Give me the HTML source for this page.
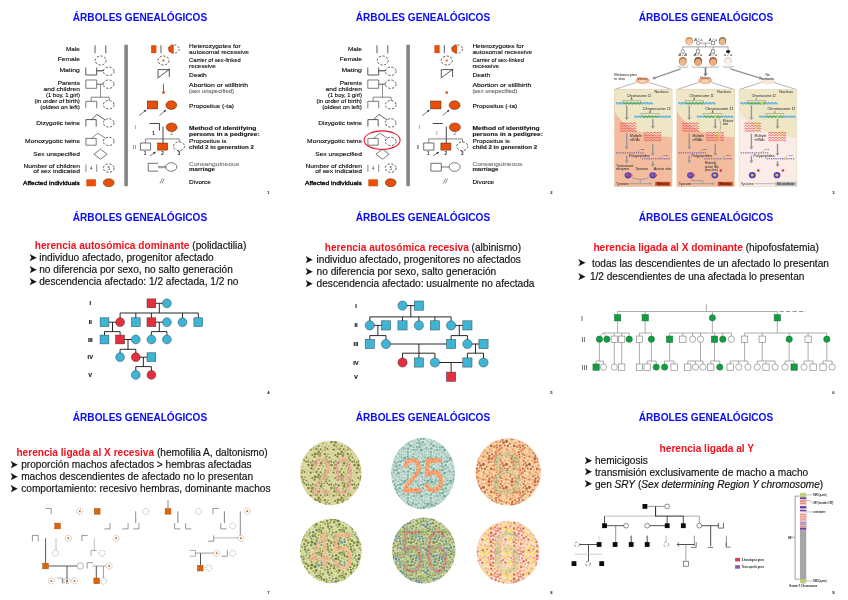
<!DOCTYPE html>
<html><head><meta charset="utf-8"><title>Árboles genealógicos</title>
<style>
html,body{margin:0;padding:0;background:#fff;}
body{width:848px;height:600px;overflow:hidden;}
svg{display:block;font-family:'Liberation Sans',sans-serif;}
</style></head><body>
<svg width="848" height="600" viewBox="0 0 848 600">
<g style="will-change:transform;filter:blur(0.3px)">
<g transform="translate(0,0)">
<rect x="124.3" y="44.7" width="3.6" height="141.5" fill="#858585"/>
<line x1="95" y1="45.3" x2="95" y2="53.3" stroke="#141414" stroke-width="0.7"/>
<line x1="105.8" y1="45.3" x2="105.8" y2="53.3" stroke="#141414" stroke-width="0.7"/>
<ellipse cx="100.7" cy="60.5" rx="5.5" ry="4.5" fill="none" stroke="#141414" stroke-width="0.7" stroke-dasharray="2.2 1.6"/>
<line x1="85.8" y1="75" x2="96.7" y2="75" stroke="#141414" stroke-width="0.7"/>
<line x1="85.8" y1="67.5" x2="85.8" y2="75" stroke="#141414" stroke-width="0.7"/>
<line x1="96.7" y1="67.5" x2="96.7" y2="75" stroke="#141414" stroke-width="0.7"/>
<line x1="96.7" y1="70.8" x2="103.4" y2="70.8" stroke="#141414" stroke-width="0.9"/>
<ellipse cx="108.7" cy="71.3" rx="5.4" ry="4.2" fill="none" stroke="#141414" stroke-width="0.7" stroke-dasharray="2.2 1.6"/>
<line x1="85.8" y1="80" x2="96.7" y2="80" stroke="#444" stroke-width="0.7"/>
<line x1="85.8" y1="88.3" x2="96.7" y2="88.3" stroke="#444" stroke-width="0.7"/>
<line x1="85.8" y1="80" x2="85.8" y2="88.3" stroke="#444" stroke-width="0.7"/>
<line x1="96.7" y1="80" x2="96.7" y2="88.3" stroke="#444" stroke-width="0.7"/>
<line x1="96.7" y1="84.2" x2="103.4" y2="84.2" stroke="#141414" stroke-width="0.7"/>
<ellipse cx="108.7" cy="84.2" rx="5.4" ry="4.2" fill="none" stroke="#141414" stroke-width="0.7" stroke-dasharray="2.2 1.6"/>
<line x1="100.5" y1="84.2" x2="100.5" y2="97.2" stroke="#555" stroke-width="0.65"/>
<line x1="91.2" y1="97.2" x2="109.2" y2="97.2" stroke="#444" stroke-width="0.65"/>
<line x1="91.2" y1="97.2" x2="91.2" y2="101.3" stroke="#444" stroke-width="0.65"/>
<line x1="109.2" y1="97.2" x2="109.2" y2="100.5" stroke="#444" stroke-width="0.6"/>
<line x1="85.8" y1="101.3" x2="96.7" y2="101.3" stroke="#444" stroke-width="0.7"/>
<line x1="85.8" y1="101.3" x2="85.8" y2="108.3" stroke="#444" stroke-width="0.7"/>
<line x1="96.7" y1="101.3" x2="96.7" y2="108.3" stroke="#444" stroke-width="0.7"/>
<ellipse cx="108.7" cy="104.7" rx="5.4" ry="4.2" fill="none" stroke="#141414" stroke-width="0.7" stroke-dasharray="2.2 1.6"/>
<line x1="85.9" y1="119.6" x2="96.2" y2="119.6" stroke="#141414" stroke-width="0.7"/>
<line x1="85.9" y1="119.6" x2="85.9" y2="126.5" stroke="#141414" stroke-width="0.7"/>
<line x1="96.2" y1="119.6" x2="96.2" y2="126.5" stroke="#141414" stroke-width="0.7"/>
<ellipse cx="108.7" cy="122.9" rx="5.4" ry="4.2" fill="none" stroke="#141414" stroke-width="0.7" stroke-dasharray="2.2 1.6"/>
<path d="M91.7 119.6L97 114.4L105 119.8" fill="none" stroke="#141414" stroke-width="0.7"/>
<line x1="85.9" y1="138.4" x2="96.2" y2="138.4" stroke="#444" stroke-width="0.7"/>
<line x1="85.9" y1="145.2" x2="96.2" y2="145.2" stroke="#444" stroke-width="0.7"/>
<line x1="85.9" y1="138.4" x2="85.9" y2="145.2" stroke="#444" stroke-width="0.7"/>
<line x1="96.2" y1="138.4" x2="96.2" y2="145.2" stroke="#444" stroke-width="0.7"/>
<ellipse cx="108.7" cy="141.4" rx="5.4" ry="4.2" fill="none" stroke="#141414" stroke-width="0.7" stroke-dasharray="2.2 1.6"/>
<path d="M91.7 138.4L97.6 133.2L105.5 138.2" fill="none" stroke="#444" stroke-width="0.65"/>
<path d="M93.9 154.2L100.5 149.2L107.1 154.2L100.5 159.2Z" fill="none" stroke="#333" stroke-width="0.65"/>
<line x1="85.9" y1="164.5" x2="85.9" y2="171.9" stroke="#555" stroke-width="0.7"/>
<line x1="96.7" y1="164.5" x2="96.7" y2="171.9" stroke="#555" stroke-width="0.7"/>
<ellipse cx="108.7" cy="168.1" rx="5.4" ry="4.2" fill="none" stroke="#141414" stroke-width="0.7" stroke-dasharray="2.2 1.6"/>
<text x="91.3" y="170" font-size="4.6" fill="#444" text-anchor="middle">4</text>
<text x="108.7" y="170" font-size="4.6" fill="#444" text-anchor="middle">5</text>
<rect x="86.3" y="179.3" width="9.6" height="7" fill="#e8500a"/>
<ellipse cx="108.7" cy="182.7" rx="5.4" ry="4" fill="#e8500a" stroke="#4a2008" stroke-width="0.5"/>
<text x="79.9" y="50.8" font-size="5.7" fill="#0a0a0a" text-anchor="end" textLength="13.9" lengthAdjust="spacingAndGlyphs" stroke="#0a0a0a" stroke-width="0.12">Male</text>
<text x="79.9" y="61.1" font-size="5.7" fill="#0a0a0a" text-anchor="end" textLength="22.2" lengthAdjust="spacingAndGlyphs" stroke="#0a0a0a" stroke-width="0.12">Female</text>
<text x="79.9" y="72.3" font-size="5.7" fill="#0a0a0a" text-anchor="end" textLength="20.5" lengthAdjust="spacingAndGlyphs" stroke="#0a0a0a" stroke-width="0.12">Mating</text>
<text x="79.9" y="85.2" font-size="5.7" fill="#0a0a0a" text-anchor="end" textLength="22.2" lengthAdjust="spacingAndGlyphs" stroke="#0a0a0a" stroke-width="0.12">Parents</text>
<text x="79.9" y="91.2" font-size="5.7" fill="#0a0a0a" text-anchor="end" textLength="36.4" lengthAdjust="spacingAndGlyphs" stroke="#0a0a0a" stroke-width="0.12">and children</text>
<text x="79.9" y="96.7" font-size="5.7" fill="#0a0a0a" text-anchor="end" textLength="33.9" lengthAdjust="spacingAndGlyphs" stroke="#0a0a0a" stroke-width="0.12">(1 boy, 1 girl)</text>
<text x="79.9" y="102.8" font-size="5.7" fill="#0a0a0a" text-anchor="end" textLength="45.5" lengthAdjust="spacingAndGlyphs" stroke="#0a0a0a" stroke-width="0.12">(in order of birth)</text>
<text x="79.9" y="108.7" font-size="5.7" fill="#0a0a0a" text-anchor="end" textLength="39.7" lengthAdjust="spacingAndGlyphs" stroke="#0a0a0a" stroke-width="0.12">(oldest on left)</text>
<text x="79.9" y="124.9" font-size="5.7" fill="#0a0a0a" text-anchor="end" textLength="43.6" lengthAdjust="spacingAndGlyphs" stroke="#0a0a0a" stroke-width="0.12">Dizygotic twins</text>
<text x="79.9" y="143" font-size="5.7" fill="#0a0a0a" text-anchor="end" textLength="54.8" lengthAdjust="spacingAndGlyphs" stroke="#0a0a0a" stroke-width="0.12">Monozygotic twins</text>
<text x="79.9" y="156.2" font-size="5.7" fill="#0a0a0a" text-anchor="end" textLength="46.6" lengthAdjust="spacingAndGlyphs" stroke="#0a0a0a" stroke-width="0.12">Sex unspecified</text>
<text x="79.9" y="167.6" font-size="5.7" fill="#0a0a0a" text-anchor="end" textLength="56.5" lengthAdjust="spacingAndGlyphs" stroke="#0a0a0a" stroke-width="0.12">Number of children</text>
<text x="79.9" y="173.4" font-size="5.7" fill="#0a0a0a" text-anchor="end" textLength="46.6" lengthAdjust="spacingAndGlyphs" stroke="#0a0a0a" stroke-width="0.12">of sex indicated</text>
<text x="79.9" y="184.6" font-size="5.7" fill="#000" text-anchor="end" textLength="56.8" lengthAdjust="spacingAndGlyphs" stroke="#000" stroke-width="0.3">Affected individuals</text>
<g transform="translate(0,0)">
<rect x="151.1" y="45.2" width="5.3" height="7.9" fill="#e8500a"/>
<line x1="161" y1="45.2" x2="161" y2="53.1" stroke="#141414" stroke-width="0.7"/>
<path d="M173.75 44.8A5.5 4.2 0 0 0 173.75 53.2Z" fill="#e8500a"/>
<ellipse cx="173.75" cy="49" rx="5.5" ry="4.2" fill="none" stroke="#333" stroke-width="0.7" stroke-dasharray="2.2 1.6"/>
<ellipse cx="163.5" cy="60.5" rx="5.5" ry="4.5" fill="none" stroke="#141414" stroke-width="0.7" stroke-dasharray="2.2 1.6"/>
<ellipse cx="163.5" cy="60.5" rx="1.1" ry="1.1" fill="#e8500a"/>
<line x1="158" y1="69.6" x2="169.3" y2="69.6" stroke="#141414" stroke-width="0.7"/>
<line x1="158" y1="69.6" x2="158" y2="77" stroke="#141414" stroke-width="0.7"/>
<line x1="169.3" y1="69.6" x2="169.3" y2="77" stroke="#141414" stroke-width="0.7"/>
<line x1="157.2" y1="78.4" x2="170.1" y2="68.8" stroke="#141414" stroke-width="0.7"/>
<line x1="163.5" y1="83.7" x2="163.5" y2="92" stroke="#333" stroke-width="0.7"/>
<ellipse cx="163.5" cy="92.6" rx="1.4" ry="1.4" fill="#e8500a"/>
<rect x="147.3" y="101" width="10.4" height="7.9" fill="#e8500a" stroke="#4a2008" stroke-width="0.5"/>
<ellipse cx="171.3" cy="105.1" rx="5.5" ry="4.3" fill="#e8500a" stroke="#4a2008" stroke-width="0.5"/>
<line x1="139" y1="115.5" x2="146.2" y2="110" stroke="#222" stroke-width="0.6"/>
<path d="M146.2 110L145.03 112.32L143.65 110.52Z" fill="#222"/>
<line x1="159.4" y1="115.5" x2="166" y2="110" stroke="#222" stroke-width="0.6"/>
<path d="M166 110L164.93 112.37L163.48 110.63Z" fill="#222"/>
<text x="135.8" y="129.2" font-size="5" fill="#555" text-anchor="middle">I</text>
<line x1="149.5" y1="123.5" x2="159.4" y2="123.5" stroke="#141414" stroke-width="0.8"/>
<line x1="159.4" y1="123.5" x2="159.4" y2="130.6" stroke="#141414" stroke-width="0.8"/>
<ellipse cx="171.6" cy="127.3" rx="5.5" ry="4.3" fill="#e8500a" stroke="#4a2008" stroke-width="0.5"/>
<text x="153.6" y="135.1" font-size="4.6" fill="#111" text-anchor="middle" font-weight="bold">1</text>
<text x="171.6" y="135.1" font-size="4.6" fill="#666" text-anchor="middle">2</text>
<line x1="163" y1="126.5" x2="163" y2="143" stroke="#333" stroke-width="0.9"/>
<line x1="145.4" y1="138.9" x2="179.2" y2="138.9" stroke="#444" stroke-width="0.65"/>
<line x1="145.4" y1="138.9" x2="145.4" y2="143" stroke="#444" stroke-width="0.65"/>
<line x1="179.2" y1="138.9" x2="179.2" y2="142" stroke="#444" stroke-width="0.65"/>
<text x="134.5" y="148.6" font-size="5" fill="#333" text-anchor="middle">II</text>
<line x1="140.4" y1="143" x2="150.6" y2="143" stroke="#333" stroke-width="0.7"/>
<line x1="140.4" y1="150.1" x2="150.6" y2="150.1" stroke="#333" stroke-width="0.7"/>
<line x1="140.4" y1="143" x2="140.4" y2="150.1" stroke="#333" stroke-width="0.7"/>
<line x1="150.6" y1="143" x2="150.6" y2="150.1" stroke="#333" stroke-width="0.7"/>
<rect x="157.6" y="143" width="10" height="7.1" fill="#e8500a" stroke="#4a2008" stroke-width="0.5"/>
<ellipse cx="179" cy="146.3" rx="5.5" ry="4.3" fill="none" stroke="#141414" stroke-width="0.7" stroke-dasharray="2.2 1.6"/>
<text x="145" y="155" font-size="4.6" fill="#222" text-anchor="middle" font-weight="bold">1</text>
<text x="162.6" y="155" font-size="4.6" fill="#222" text-anchor="middle" font-weight="bold">2</text>
<text x="179" y="155" font-size="4.6" fill="#222" text-anchor="middle" font-weight="bold">3</text>
<line x1="149.8" y1="155.9" x2="155.6" y2="152.1" stroke="#222" stroke-width="0.6"/>
<path d="M155.6 152.1L154.26 154.33L153.02 152.44Z" fill="#222"/>
<line x1="148.2" y1="163.3" x2="158" y2="163.3" stroke="#333" stroke-width="0.7"/>
<line x1="148.2" y1="171.1" x2="158" y2="171.1" stroke="#333" stroke-width="0.7"/>
<line x1="148.2" y1="163.3" x2="148.2" y2="171.1" stroke="#333" stroke-width="0.7"/>
<line x1="158" y1="166.4" x2="165.8" y2="166.4" stroke="#333" stroke-width="0.55"/>
<line x1="158" y1="167.7" x2="165.8" y2="167.7" stroke="#333" stroke-width="0.55"/>
<ellipse cx="171.3" cy="167" rx="5.5" ry="4.3" fill="none" stroke="#444" stroke-width="0.7"/>
<line x1="160" y1="183.5" x2="162.3" y2="178.5" stroke="#333" stroke-width="0.55"/>
<line x1="162" y1="183.5" x2="164.3" y2="178.5" stroke="#333" stroke-width="0.55"/>
<text x="189.1" y="47.7" font-size="5.7" fill="#0a0a0a" textLength="51.5" lengthAdjust="spacingAndGlyphs" stroke="#0a0a0a" stroke-width="0.12">Heterozygotes for</text>
<text x="189.1" y="53.5" font-size="5.7" fill="#111" textLength="59.8" lengthAdjust="spacingAndGlyphs" stroke="#111" stroke-width="0.12">autosomal recessive</text>
<text x="189.1" y="62" font-size="5.7" fill="#0a0a0a" textLength="51.5" lengthAdjust="spacingAndGlyphs" stroke="#0a0a0a" stroke-width="0.12">Carrier of sex-linked</text>
<text x="189.1" y="67.5" font-size="5.7" fill="#111" textLength="26.7" lengthAdjust="spacingAndGlyphs" stroke="#111" stroke-width="0.12">recessive</text>
<text x="189.1" y="76.6" font-size="5.7" fill="#0a0a0a" textLength="17.7" lengthAdjust="spacingAndGlyphs" stroke="#0a0a0a" stroke-width="0.12">Death</text>
<text x="189.1" y="86.5" font-size="5.7" fill="#0a0a0a" textLength="58.9" lengthAdjust="spacingAndGlyphs" stroke="#0a0a0a" stroke-width="0.12">Abortion or stillbirth</text>
<text x="189.1" y="92.6" font-size="5.7" fill="#666" textLength="44.9" lengthAdjust="spacingAndGlyphs" stroke="#666" stroke-width="0.12">(sex unspecified)</text>
<text x="189.1" y="108" font-size="5.7" fill="#0a0a0a" textLength="44.9" lengthAdjust="spacingAndGlyphs" stroke="#0a0a0a" stroke-width="0.12">Propositus (-ta)</text>
<text x="189.1" y="129.8" font-size="5.7" fill="#111" font-weight="bold" textLength="67.2" lengthAdjust="spacingAndGlyphs" stroke="#111" stroke-width="0.12">Method of identifying</text>
<text x="189.1" y="135.9" font-size="5.7" fill="#111" font-weight="bold" textLength="70.5" lengthAdjust="spacingAndGlyphs" stroke="#111" stroke-width="0.12">persons in a pedigree:</text>
<text x="189.1" y="143" font-size="5.7" fill="#111" textLength="37.5" lengthAdjust="spacingAndGlyphs" stroke="#111" stroke-width="0.12">Propositus is</text>
<text x="189.1" y="149.1" font-size="5.7" fill="#222" font-weight="bold" textLength="64.7" lengthAdjust="spacingAndGlyphs" stroke="#222" stroke-width="0.12">child 2 in generation 2</text>
<text x="189.1" y="165.7" font-size="5.7" fill="#777" textLength="49.9" lengthAdjust="spacingAndGlyphs" stroke="#777" stroke-width="0.12">Consanguineous</text>
<text x="189.1" y="171.4" font-size="5.7" fill="#222" font-weight="bold" textLength="25.9" lengthAdjust="spacingAndGlyphs" stroke="#222" stroke-width="0.12">marriage</text>
<text x="189.1" y="183.5" font-size="5.7" fill="#0a0a0a" textLength="21.8" lengthAdjust="spacingAndGlyphs" stroke="#0a0a0a" stroke-width="0.12">Divorce</text>
</g>
</g>
<g transform="translate(282,0)">
<rect x="124.3" y="44.7" width="3.6" height="141.5" fill="#858585"/>
<line x1="95" y1="45.3" x2="95" y2="53.3" stroke="#141414" stroke-width="0.7"/>
<line x1="105.8" y1="45.3" x2="105.8" y2="53.3" stroke="#141414" stroke-width="0.7"/>
<ellipse cx="100.7" cy="60.5" rx="5.5" ry="4.5" fill="none" stroke="#141414" stroke-width="0.7" stroke-dasharray="2.2 1.6"/>
<line x1="85.8" y1="75" x2="96.7" y2="75" stroke="#141414" stroke-width="0.7"/>
<line x1="85.8" y1="67.5" x2="85.8" y2="75" stroke="#141414" stroke-width="0.7"/>
<line x1="96.7" y1="67.5" x2="96.7" y2="75" stroke="#141414" stroke-width="0.7"/>
<line x1="96.7" y1="70.8" x2="103.4" y2="70.8" stroke="#141414" stroke-width="0.9"/>
<ellipse cx="108.7" cy="71.3" rx="5.4" ry="4.2" fill="none" stroke="#141414" stroke-width="0.7" stroke-dasharray="2.2 1.6"/>
<line x1="85.8" y1="80" x2="96.7" y2="80" stroke="#444" stroke-width="0.7"/>
<line x1="85.8" y1="88.3" x2="96.7" y2="88.3" stroke="#444" stroke-width="0.7"/>
<line x1="85.8" y1="80" x2="85.8" y2="88.3" stroke="#444" stroke-width="0.7"/>
<line x1="96.7" y1="80" x2="96.7" y2="88.3" stroke="#444" stroke-width="0.7"/>
<line x1="96.7" y1="84.2" x2="103.4" y2="84.2" stroke="#141414" stroke-width="0.7"/>
<ellipse cx="108.7" cy="84.2" rx="5.4" ry="4.2" fill="none" stroke="#141414" stroke-width="0.7" stroke-dasharray="2.2 1.6"/>
<line x1="100.5" y1="84.2" x2="100.5" y2="97.2" stroke="#555" stroke-width="0.65"/>
<line x1="91.2" y1="97.2" x2="109.2" y2="97.2" stroke="#444" stroke-width="0.65"/>
<line x1="91.2" y1="97.2" x2="91.2" y2="101.3" stroke="#444" stroke-width="0.65"/>
<line x1="109.2" y1="97.2" x2="109.2" y2="100.5" stroke="#444" stroke-width="0.6"/>
<line x1="85.8" y1="101.3" x2="96.7" y2="101.3" stroke="#444" stroke-width="0.7"/>
<line x1="85.8" y1="101.3" x2="85.8" y2="108.3" stroke="#444" stroke-width="0.7"/>
<line x1="96.7" y1="101.3" x2="96.7" y2="108.3" stroke="#444" stroke-width="0.7"/>
<ellipse cx="108.7" cy="104.7" rx="5.4" ry="4.2" fill="none" stroke="#141414" stroke-width="0.7" stroke-dasharray="2.2 1.6"/>
<line x1="85.9" y1="119.6" x2="96.2" y2="119.6" stroke="#141414" stroke-width="0.7"/>
<line x1="85.9" y1="119.6" x2="85.9" y2="126.5" stroke="#141414" stroke-width="0.7"/>
<line x1="96.2" y1="119.6" x2="96.2" y2="126.5" stroke="#141414" stroke-width="0.7"/>
<ellipse cx="108.7" cy="122.9" rx="5.4" ry="4.2" fill="none" stroke="#141414" stroke-width="0.7" stroke-dasharray="2.2 1.6"/>
<path d="M91.7 119.6L97 114.4L105 119.8" fill="none" stroke="#141414" stroke-width="0.7"/>
<line x1="85.9" y1="138.4" x2="96.2" y2="138.4" stroke="#444" stroke-width="0.7"/>
<line x1="85.9" y1="145.2" x2="96.2" y2="145.2" stroke="#444" stroke-width="0.7"/>
<line x1="85.9" y1="138.4" x2="85.9" y2="145.2" stroke="#444" stroke-width="0.7"/>
<line x1="96.2" y1="138.4" x2="96.2" y2="145.2" stroke="#444" stroke-width="0.7"/>
<ellipse cx="108.7" cy="141.4" rx="5.4" ry="4.2" fill="none" stroke="#141414" stroke-width="0.7" stroke-dasharray="2.2 1.6"/>
<path d="M91.7 138.4L97.6 133.2L105.5 138.2" fill="none" stroke="#444" stroke-width="0.65"/>
<path d="M93.9 154.2L100.5 149.2L107.1 154.2L100.5 159.2Z" fill="none" stroke="#333" stroke-width="0.65"/>
<line x1="85.9" y1="164.5" x2="85.9" y2="171.9" stroke="#555" stroke-width="0.7"/>
<line x1="96.7" y1="164.5" x2="96.7" y2="171.9" stroke="#555" stroke-width="0.7"/>
<ellipse cx="108.7" cy="168.1" rx="5.4" ry="4.2" fill="none" stroke="#141414" stroke-width="0.7" stroke-dasharray="2.2 1.6"/>
<text x="91.3" y="170" font-size="4.6" fill="#444" text-anchor="middle">4</text>
<text x="108.7" y="170" font-size="4.6" fill="#444" text-anchor="middle">5</text>
<rect x="86.3" y="179.3" width="9.6" height="7" fill="#e8500a"/>
<ellipse cx="108.7" cy="182.7" rx="5.4" ry="4" fill="#e8500a" stroke="#4a2008" stroke-width="0.5"/>
<text x="79.9" y="50.8" font-size="5.7" fill="#0a0a0a" text-anchor="end" textLength="13.9" lengthAdjust="spacingAndGlyphs" stroke="#0a0a0a" stroke-width="0.12">Male</text>
<text x="79.9" y="61.1" font-size="5.7" fill="#0a0a0a" text-anchor="end" textLength="22.2" lengthAdjust="spacingAndGlyphs" stroke="#0a0a0a" stroke-width="0.12">Female</text>
<text x="79.9" y="72.3" font-size="5.7" fill="#0a0a0a" text-anchor="end" textLength="20.5" lengthAdjust="spacingAndGlyphs" stroke="#0a0a0a" stroke-width="0.12">Mating</text>
<text x="79.9" y="85.2" font-size="5.7" fill="#0a0a0a" text-anchor="end" textLength="22.2" lengthAdjust="spacingAndGlyphs" stroke="#0a0a0a" stroke-width="0.12">Parents</text>
<text x="79.9" y="91.2" font-size="5.7" fill="#0a0a0a" text-anchor="end" textLength="36.4" lengthAdjust="spacingAndGlyphs" stroke="#0a0a0a" stroke-width="0.12">and children</text>
<text x="79.9" y="96.7" font-size="5.7" fill="#0a0a0a" text-anchor="end" textLength="33.9" lengthAdjust="spacingAndGlyphs" stroke="#0a0a0a" stroke-width="0.12">(1 boy, 1 girl)</text>
<text x="79.9" y="102.8" font-size="5.7" fill="#0a0a0a" text-anchor="end" textLength="45.5" lengthAdjust="spacingAndGlyphs" stroke="#0a0a0a" stroke-width="0.12">(in order of birth)</text>
<text x="79.9" y="108.7" font-size="5.7" fill="#0a0a0a" text-anchor="end" textLength="39.7" lengthAdjust="spacingAndGlyphs" stroke="#0a0a0a" stroke-width="0.12">(oldest on left)</text>
<text x="79.9" y="124.9" font-size="5.7" fill="#0a0a0a" text-anchor="end" textLength="43.6" lengthAdjust="spacingAndGlyphs" stroke="#0a0a0a" stroke-width="0.12">Dizygotic twins</text>
<text x="79.9" y="143" font-size="5.7" fill="#0a0a0a" text-anchor="end" textLength="54.8" lengthAdjust="spacingAndGlyphs" stroke="#0a0a0a" stroke-width="0.12">Monozygotic twins</text>
<text x="79.9" y="156.2" font-size="5.7" fill="#0a0a0a" text-anchor="end" textLength="46.6" lengthAdjust="spacingAndGlyphs" stroke="#0a0a0a" stroke-width="0.12">Sex unspecified</text>
<text x="79.9" y="167.6" font-size="5.7" fill="#0a0a0a" text-anchor="end" textLength="56.5" lengthAdjust="spacingAndGlyphs" stroke="#0a0a0a" stroke-width="0.12">Number of children</text>
<text x="79.9" y="173.4" font-size="5.7" fill="#0a0a0a" text-anchor="end" textLength="46.6" lengthAdjust="spacingAndGlyphs" stroke="#0a0a0a" stroke-width="0.12">of sex indicated</text>
<text x="79.9" y="184.6" font-size="5.7" fill="#000" text-anchor="end" textLength="56.8" lengthAdjust="spacingAndGlyphs" stroke="#000" stroke-width="0.3">Affected individuals</text>
<g transform="translate(1.3,0)">
<rect x="151.1" y="45.2" width="5.3" height="7.9" fill="#e8500a"/>
<line x1="161" y1="45.2" x2="161" y2="53.1" stroke="#141414" stroke-width="0.7"/>
<path d="M173.75 44.8A5.5 4.2 0 0 0 173.75 53.2Z" fill="#e8500a"/>
<ellipse cx="173.75" cy="49" rx="5.5" ry="4.2" fill="none" stroke="#333" stroke-width="0.7" stroke-dasharray="2.2 1.6"/>
<ellipse cx="163.5" cy="60.5" rx="5.5" ry="4.5" fill="none" stroke="#141414" stroke-width="0.7" stroke-dasharray="2.2 1.6"/>
<ellipse cx="163.5" cy="60.5" rx="1.1" ry="1.1" fill="#e8500a"/>
<line x1="158" y1="69.6" x2="169.3" y2="69.6" stroke="#141414" stroke-width="0.7"/>
<line x1="158" y1="69.6" x2="158" y2="77" stroke="#141414" stroke-width="0.7"/>
<line x1="169.3" y1="69.6" x2="169.3" y2="77" stroke="#141414" stroke-width="0.7"/>
<line x1="157.2" y1="78.4" x2="170.1" y2="68.8" stroke="#141414" stroke-width="0.7"/>
<ellipse cx="163.5" cy="92.6" rx="1.4" ry="1.4" fill="#e8500a"/>
<rect x="147.3" y="101" width="10.4" height="7.9" fill="#e8500a" stroke="#4a2008" stroke-width="0.5"/>
<ellipse cx="171.3" cy="105.1" rx="5.5" ry="4.3" fill="#e8500a" stroke="#4a2008" stroke-width="0.5"/>
<line x1="139" y1="115.5" x2="146.2" y2="110" stroke="#222" stroke-width="0.6"/>
<path d="M146.2 110L145.03 112.32L143.65 110.52Z" fill="#222"/>
<line x1="159.4" y1="115.5" x2="166" y2="110" stroke="#222" stroke-width="0.6"/>
<path d="M166 110L164.93 112.37L163.48 110.63Z" fill="#222"/>
<text x="135.8" y="129.2" font-size="5" fill="#555" text-anchor="middle">I</text>
<line x1="149.5" y1="123.5" x2="159.4" y2="123.5" stroke="#141414" stroke-width="0.8"/>
<ellipse cx="171.6" cy="127.3" rx="5.5" ry="4.3" fill="#e8500a" stroke="#4a2008" stroke-width="0.5"/>
<text x="153.6" y="135.1" font-size="4.6" fill="#aaa" text-anchor="middle" font-weight="bold">1</text>
<text x="171.6" y="135.1" font-size="4.6" fill="#666" text-anchor="middle">2</text>
<line x1="163" y1="126.5" x2="163" y2="143" stroke="#333" stroke-width="0.9"/>
<line x1="145.4" y1="138.9" x2="179.2" y2="138.9" stroke="#444" stroke-width="0.65"/>
<line x1="145.4" y1="138.9" x2="145.4" y2="143" stroke="#444" stroke-width="0.65"/>
<line x1="179.2" y1="138.9" x2="179.2" y2="142" stroke="#444" stroke-width="0.65"/>
<text x="134.5" y="148.6" font-size="5" fill="#333" text-anchor="middle">II</text>
<line x1="140.4" y1="143" x2="150.6" y2="143" stroke="#333" stroke-width="0.7"/>
<line x1="140.4" y1="150.1" x2="150.6" y2="150.1" stroke="#333" stroke-width="0.7"/>
<line x1="140.4" y1="143" x2="140.4" y2="150.1" stroke="#333" stroke-width="0.7"/>
<line x1="150.6" y1="143" x2="150.6" y2="150.1" stroke="#333" stroke-width="0.7"/>
<rect x="157.6" y="143" width="10" height="7.1" fill="#e8500a" stroke="#4a2008" stroke-width="0.5"/>
<ellipse cx="179" cy="146.3" rx="5.5" ry="4.3" fill="none" stroke="#141414" stroke-width="0.7" stroke-dasharray="2.2 1.6"/>
<text x="145" y="155" font-size="4.6" fill="#222" text-anchor="middle" font-weight="bold">1</text>
<text x="162.6" y="155" font-size="4.6" fill="#222" text-anchor="middle" font-weight="bold">2</text>
<text x="179" y="155" font-size="4.6" fill="#222" text-anchor="middle" font-weight="bold">3</text>
<line x1="149.8" y1="155.9" x2="155.6" y2="152.1" stroke="#222" stroke-width="0.6"/>
<path d="M155.6 152.1L154.26 154.33L153.02 152.44Z" fill="#222"/>
<line x1="147.6" y1="163.3" x2="158" y2="163.3" stroke="#333" stroke-width="0.7"/>
<line x1="147.6" y1="171.1" x2="158" y2="171.1" stroke="#333" stroke-width="0.7"/>
<line x1="147.6" y1="163.3" x2="147.6" y2="171.1" stroke="#333" stroke-width="0.7"/>
<line x1="158" y1="163.3" x2="158" y2="171.1" stroke="#333" stroke-width="0.7"/>
<line x1="158" y1="167" x2="165.8" y2="167" stroke="#333" stroke-width="0.7"/>
<ellipse cx="171.3" cy="167" rx="5.5" ry="4.3" fill="none" stroke="#444" stroke-width="0.7"/>
<line x1="160" y1="183.5" x2="162.3" y2="178.5" stroke="#333" stroke-width="0.55"/>
<line x1="162" y1="183.5" x2="164.3" y2="178.5" stroke="#333" stroke-width="0.55"/>
<text x="189.1" y="47.7" font-size="5.7" fill="#0a0a0a" textLength="51.5" lengthAdjust="spacingAndGlyphs" stroke="#0a0a0a" stroke-width="0.12">Heterozygotes for</text>
<text x="189.1" y="53.5" font-size="5.7" fill="#111" textLength="59.8" lengthAdjust="spacingAndGlyphs" stroke="#111" stroke-width="0.12">autosomal recessive</text>
<text x="189.1" y="62" font-size="5.7" fill="#0a0a0a" textLength="51.5" lengthAdjust="spacingAndGlyphs" stroke="#0a0a0a" stroke-width="0.12">Carrier of sex-linked</text>
<text x="189.1" y="67.5" font-size="5.7" fill="#111" textLength="26.7" lengthAdjust="spacingAndGlyphs" stroke="#111" stroke-width="0.12">recessive</text>
<text x="189.1" y="76.6" font-size="5.7" fill="#0a0a0a" textLength="17.7" lengthAdjust="spacingAndGlyphs" stroke="#0a0a0a" stroke-width="0.12">Death</text>
<text x="189.1" y="86.5" font-size="5.7" fill="#0a0a0a" textLength="58.9" lengthAdjust="spacingAndGlyphs" stroke="#0a0a0a" stroke-width="0.12">Abortion or stillbirth</text>
<text x="189.1" y="92.6" font-size="5.7" fill="#666" textLength="44.9" lengthAdjust="spacingAndGlyphs" stroke="#666" stroke-width="0.12">(sex unspecified)</text>
<text x="189.1" y="108" font-size="5.7" fill="#0a0a0a" textLength="44.9" lengthAdjust="spacingAndGlyphs" stroke="#0a0a0a" stroke-width="0.12">Propositus (-ta)</text>
<text x="189.1" y="129.8" font-size="5.7" fill="#111" font-weight="bold" textLength="67.2" lengthAdjust="spacingAndGlyphs" stroke="#111" stroke-width="0.12">Method of identifying</text>
<text x="189.1" y="135.9" font-size="5.7" fill="#111" font-weight="bold" textLength="70.5" lengthAdjust="spacingAndGlyphs" stroke="#111" stroke-width="0.12">persons in a pedigree:</text>
<text x="189.1" y="143" font-size="5.7" fill="#111" textLength="37.5" lengthAdjust="spacingAndGlyphs" stroke="#111" stroke-width="0.12">Propositus is</text>
<text x="189.1" y="149.1" font-size="5.7" fill="#222" font-weight="bold" textLength="64.7" lengthAdjust="spacingAndGlyphs" stroke="#222" stroke-width="0.12">child 2 in generation 2</text>
<text x="189.1" y="165.7" font-size="5.7" fill="#777" textLength="49.9" lengthAdjust="spacingAndGlyphs" stroke="#777" stroke-width="0.12">Consanguineous</text>
<text x="189.1" y="171.4" font-size="5.7" fill="#222" font-weight="bold" textLength="25.9" lengthAdjust="spacingAndGlyphs" stroke="#222" stroke-width="0.12">marriage</text>
<text x="189.1" y="183.5" font-size="5.7" fill="#0a0a0a" textLength="21.8" lengthAdjust="spacingAndGlyphs" stroke="#0a0a0a" stroke-width="0.12">Divorce</text>
</g>
<ellipse cx="100.1" cy="140.2" rx="18" ry="9.3" fill="none" stroke="#ea1020" stroke-width="1.1"/>
</g>
<line x1="700.2" y1="43.1" x2="710.9" y2="43.1" stroke="#4a4a4a" stroke-width="0.5"/>
<line x1="705.5" y1="43.1" x2="705.5" y2="46.9" stroke="#4a4a4a" stroke-width="0.5"/>
<line x1="682.6" y1="46.9" x2="728.2" y2="46.9" stroke="#4a4a4a" stroke-width="0.5"/>
<line x1="682.8" y1="46.9" x2="682.8" y2="49.8" stroke="#4a4a4a" stroke-width="0.5"/>
<line x1="698.1" y1="46.9" x2="698.1" y2="49.8" stroke="#4a4a4a" stroke-width="0.5"/>
<line x1="713.1" y1="46.9" x2="713.1" y2="49.8" stroke="#4a4a4a" stroke-width="0.5"/>
<line x1="728.1" y1="46.9" x2="728.1" y2="49.8" stroke="#4a4a4a" stroke-width="0.5"/>
<ellipse cx="689.2" cy="41" rx="3.7" ry="4" fill="#c8925e"/>
<ellipse cx="689.2" cy="42.1" rx="2.9" ry="3.4" fill="#f0c8a2"/>
<ellipse cx="722.5" cy="41" rx="3.7" ry="4" fill="#9a7a58"/>
<ellipse cx="722.5" cy="42.1" rx="2.9" ry="3.4" fill="#e8b890"/>
<ellipse cx="698.1" cy="43.1" rx="1.8" ry="1.7" fill="#fff" stroke="#333" stroke-width="0.45"/>
<rect x="711.4" y="41.5" width="3.4" height="3.2" fill="#fff" stroke="#333" stroke-width="0.45"/>
<text x="698.5" y="40.9" font-size="3.3" fill="#222" text-anchor="middle" font-style="italic" textLength="8.3" lengthAdjust="spacingAndGlyphs">A / a</text>
<text x="713" y="40.9" font-size="3.3" fill="#222" text-anchor="middle" font-style="italic" textLength="8.3" lengthAdjust="spacingAndGlyphs">A / a</text>
<ellipse cx="682.8" cy="51.5" rx="1.8" ry="1.7" fill="#fff" stroke="#333" stroke-width="0.45"/>
<rect x="696.4" y="49.9" width="3.4" height="3.2" fill="#fff" stroke="#333" stroke-width="0.45"/>
<rect x="711.4" y="49.9" width="3.4" height="3.2" fill="#fff" stroke="#333" stroke-width="0.45"/>
<ellipse cx="728.1" cy="51.5" rx="2" ry="1.6" fill="#000"/>
<text x="682.8" y="56.3" font-size="3.3" fill="#222" text-anchor="middle" font-style="italic" textLength="8.6" lengthAdjust="spacingAndGlyphs">A / A</text>
<text x="698.1" y="56.3" font-size="3.3" fill="#222" text-anchor="middle" font-style="italic" textLength="8.6" lengthAdjust="spacingAndGlyphs">A / a</text>
<text x="713.1" y="56.3" font-size="3.3" fill="#222" text-anchor="middle" font-style="italic" textLength="8.6" lengthAdjust="spacingAndGlyphs">A / a</text>
<text x="728.1" y="56.3" font-size="3.3" fill="#222" text-anchor="middle" font-style="italic" textLength="8.6" lengthAdjust="spacingAndGlyphs">a / a</text>
<ellipse cx="682.8" cy="61.2" rx="3.9" ry="4.2" fill="#c07a4a"/>
<ellipse cx="682.8" cy="62.3" rx="3.1" ry="3.6" fill="#eeb48c"/>
<ellipse cx="698.1" cy="61.2" rx="3.9" ry="4.2" fill="#8a5232"/>
<ellipse cx="698.1" cy="62.3" rx="3.1" ry="3.6" fill="#e8a878"/>
<ellipse cx="713.1" cy="61.2" rx="3.9" ry="4.2" fill="#a8623a"/>
<ellipse cx="713.1" cy="62.3" rx="3.1" ry="3.6" fill="#eeb080"/>
<ellipse cx="728.1" cy="61.2" rx="3.9" ry="4.2" fill="#e6d8d0"/>
<ellipse cx="728.1" cy="62.3" rx="3.1" ry="3.6" fill="#f8f0ea"/>
<path d="M677.9 65.8Q677.9 67.2 679.4 67.2H686.3Q687.8 67.2 687.8 65.8" fill="none" stroke="#555" stroke-width="0.45"/>
<path d="M692.3 65.8Q692.3 67.2 693.8 67.2H717.3Q718.8 67.2 718.8 65.8" fill="none" stroke="#555" stroke-width="0.45"/>
<path d="M723.3 65.8Q723.3 67.2 724.8 67.2H731.7Q733.2 67.2 733.2 65.8" fill="none" stroke="#555" stroke-width="0.45"/>
<line x1="680.7" y1="68.8" x2="653.42" y2="78.31" stroke="#939393" stroke-width="1.35"/>
<path d="M652 78.8L654.55 75.98L655.75 79.42Z" fill="#939393"/>
<line x1="705.5" y1="67.6" x2="705.5" y2="74.4" stroke="#747474" stroke-width="1.6"/>
<path d="M703.5 73.6L707.5 73.6L705.5 76.2Z" fill="#747474"/>
<line x1="730.3" y1="68.8" x2="761.07" y2="78.36" stroke="#939393" stroke-width="1.35"/>
<path d="M762.5 78.8L758.77 79.55L759.86 76.07Z" fill="#939393"/>
<ellipse cx="642.6" cy="80.6" rx="7.2" ry="3.4" fill="#f0b48e"/>
<ellipse cx="642.6" cy="80.9" rx="3.2" ry="1.5" fill="#f7d9b8"/>
<ellipse cx="705.2" cy="80.6" rx="7.2" ry="3.4" fill="#f0b48e"/>
<ellipse cx="705.2" cy="80.9" rx="3.2" ry="1.5" fill="#f7d9b8"/>
<ellipse cx="767.6" cy="81.2" rx="7.2" ry="3.2" fill="#fbe2da"/>
<ellipse cx="767.6" cy="81.4" rx="3" ry="1.4" fill="#f6ecc0"/>
<text x="642.6" y="79.6" font-size="2.7" fill="#5a3a2a" text-anchor="middle" textLength="10.5" lengthAdjust="spacingAndGlyphs">Melanin</text>
<text x="705.2" y="79.2" font-size="2.7" fill="#5a3a2a" text-anchor="middle" textLength="10.5" lengthAdjust="spacingAndGlyphs">Melanin</text>
<text x="614.2" y="76" font-size="3.4" fill="#202020" textLength="23" lengthAdjust="spacingAndGlyphs">Melanocytes</text>
<text x="614.2" y="79.8" font-size="3.4" fill="#202020" textLength="11" lengthAdjust="spacingAndGlyphs">in skin</text>
<text x="767.6" y="76" font-size="3.4" fill="#202020" text-anchor="middle">No</text>
<text x="767.6" y="79.6" font-size="3.4" fill="#202020" text-anchor="middle" textLength="13" lengthAdjust="spacingAndGlyphs">melanin</text>
<line x1="636.1" y1="82.5" x2="614.3" y2="89.6" stroke="#5a5a5a" stroke-width="0.45"/>
<line x1="649.1" y1="82.5" x2="672.1" y2="89.6" stroke="#5a5a5a" stroke-width="0.45"/>
<line x1="698.7" y1="82.5" x2="676.8" y2="89.6" stroke="#5a5a5a" stroke-width="0.45"/>
<line x1="711.7" y1="82.5" x2="734.6" y2="89.6" stroke="#5a5a5a" stroke-width="0.45"/>
<line x1="761.1" y1="82.5" x2="739" y2="89.6" stroke="#5a5a5a" stroke-width="0.45"/>
<line x1="774.1" y1="82.5" x2="796.8" y2="89.6" stroke="#5a5a5a" stroke-width="0.45"/>
<rect x="614.3" y="89.6" width="57.8" height="97.2" fill="#f3bc9f"/>
<path d="M614.3 89.6H672.1V137.2C656.3 136.5 641.3 133.5 633.3 129C624.3 124 617.8 118 614.3 110.8Z" fill="#efe6c6"/>
<rect x="614.3" y="89.6" width="57.8" height="97.2" fill="none" stroke="#d9cfae" stroke-width="0.4"/>
<text x="668.3" y="93.2" font-size="3.4" fill="#202020" text-anchor="end" textLength="13.8" lengthAdjust="spacingAndGlyphs">Nucleus</text>
<text x="627.1" y="96.5" font-size="3.3" fill="#202020" font-style="italic" textLength="24" lengthAdjust="spacingAndGlyphs">Chromosome 11</text>
<text x="642.8" y="109.8" font-size="3.3" fill="#202020" font-style="italic" textLength="28" lengthAdjust="spacingAndGlyphs">Chromosome 11</text>
<path d="M622.5 102.1V100.7H640.9V102.1" fill="none" stroke="#555" stroke-width="0.35"/>
<text x="631.7" y="100.2" font-size="2.6" fill="#333" text-anchor="middle" font-style="italic">A</text>
<path d="M640.9 114.9V113.5H659.2V114.9" fill="none" stroke="#555" stroke-width="0.35"/>
<text x="650.05" y="113" font-size="2.6" fill="#333" text-anchor="middle" font-style="italic">A</text>
<path d="M616 103.3Q616.85 102.2 617.7 103.3Q618.55 104.4 619.4 103.3Q620.25 102.2 621.1 103.3Q621.95 104.4 622.8 103.3Q623.65 102.2 624.5 103.3Q625.35 104.4 626.2 103.3Q627.05 102.2 627.9 103.3Q628.75 104.4 629.6 103.3Q630.45 102.2 631.3 103.3Q632.15 104.4 633 103.3Q633.85 102.2 634.7 103.3Q635.55 104.4 636.4 103.3Q637.25 102.2 638.1 103.3Q638.95 104.4 639.8 103.3Q640.65 102.2 641.5 103.3Q642.35 104.4 643.2 103.3Q644.05 102.2 644.9 103.3Q645.75 104.4 646.6 103.3Q647.45 102.2 648.3 103.3Q649.15 104.4 650 103.3Q650.85 102.2 651.7 103.3Q652.25 104.4 652.8 103.3" fill="none" stroke="#4aa6d8" stroke-width="1.3"/>
<path d="M616 103.5Q616.85 104.6 617.7 103.5Q618.55 102.4 619.4 103.5Q620.25 104.6 621.1 103.5Q621.95 102.4 622.8 103.5Q623.65 104.6 624.5 103.5Q625.35 102.4 626.2 103.5Q627.05 104.6 627.9 103.5Q628.75 102.4 629.6 103.5Q630.45 104.6 631.3 103.5Q632.15 102.4 633 103.5Q633.85 104.6 634.7 103.5Q635.55 102.4 636.4 103.5Q637.25 104.6 638.1 103.5Q638.95 102.4 639.8 103.5Q640.65 104.6 641.5 103.5Q642.35 102.4 643.2 103.5Q644.05 104.6 644.9 103.5Q645.75 102.4 646.6 103.5Q647.45 104.6 648.3 103.5Q649.15 102.4 650 103.5Q650.85 104.6 651.7 103.5Q652.25 102.4 652.8 103.5" fill="none" stroke="#7fc6e6" stroke-width="0.8"/>
<path d="M623 103.3Q623.85 102.3 624.7 103.3Q625.55 104.3 626.4 103.3Q627.25 102.3 628.1 103.3Q628.95 104.3 629.8 103.3Q630.65 102.3 631.5 103.3Q632.35 104.3 633.2 103.3Q634.05 102.3 634.9 103.3Q635.75 104.3 636.6 103.3Q637.45 102.3 638.3 103.3Q639.15 104.3 640 103.3Q640.4 102.3 640.8 103.3" fill="none" stroke="#55b04a" stroke-width="1.3"/>
<path d="M634.4 116.6Q635.25 115.5 636.1 116.6Q636.95 117.7 637.8 116.6Q638.65 115.5 639.5 116.6Q640.35 117.7 641.2 116.6Q642.05 115.5 642.9 116.6Q643.75 117.7 644.6 116.6Q645.45 115.5 646.3 116.6Q647.15 117.7 648 116.6Q648.85 115.5 649.7 116.6Q650.55 117.7 651.4 116.6Q652.25 115.5 653.1 116.6Q653.95 117.7 654.8 116.6Q655.65 115.5 656.5 116.6Q657.35 117.7 658.2 116.6Q659.05 115.5 659.9 116.6Q660.75 117.7 661.6 116.6Q662.45 115.5 663.3 116.6Q664.15 117.7 665 116.6Q665.85 115.5 666.7 116.6Q667.55 117.7 668.4 116.6Q669.25 115.5 670.1 116.6Q670.15 117.7 670.2 116.6" fill="none" stroke="#4aa6d8" stroke-width="1.3"/>
<path d="M634.4 116.8Q635.25 117.9 636.1 116.8Q636.95 115.7 637.8 116.8Q638.65 117.9 639.5 116.8Q640.35 115.7 641.2 116.8Q642.05 117.9 642.9 116.8Q643.75 115.7 644.6 116.8Q645.45 117.9 646.3 116.8Q647.15 115.7 648 116.8Q648.85 117.9 649.7 116.8Q650.55 115.7 651.4 116.8Q652.25 117.9 653.1 116.8Q653.95 115.7 654.8 116.8Q655.65 117.9 656.5 116.8Q657.35 115.7 658.2 116.8Q659.05 117.9 659.9 116.8Q660.75 115.7 661.6 116.8Q662.45 117.9 663.3 116.8Q664.15 115.7 665 116.8Q665.85 117.9 666.7 116.8Q667.55 115.7 668.4 116.8Q669.25 117.9 670.1 116.8Q670.15 115.7 670.2 116.8" fill="none" stroke="#7fc6e6" stroke-width="0.8"/>
<path d="M641.4 116.6Q642.25 115.6 643.1 116.6Q643.95 117.6 644.8 116.6Q645.65 115.6 646.5 116.6Q647.35 117.6 648.2 116.6Q649.05 115.6 649.9 116.6Q650.75 117.6 651.6 116.6Q652.45 115.6 653.3 116.6Q654.15 117.6 655 116.6Q655.85 115.6 656.7 116.6Q657.45 117.6 658.2 116.6" fill="none" stroke="#55b04a" stroke-width="1.3"/>
<line x1="626.7" y1="105.4" x2="626.7" y2="118.2" stroke="#969696" stroke-width="1.4"/>
<path d="M624.7 117.4L628.7 117.4L626.7 120Z" fill="#969696"/>
<line x1="652.8" y1="119" x2="652.8" y2="127" stroke="#969696" stroke-width="1.4"/>
<path d="M650.8 126.2L654.8 126.2L652.8 128.8Z" fill="#969696"/>
<path d="M619.8 123.4Q620.65 122.2 621.5 123.4Q622.35 124.6 623.2 123.4Q624.05 122.2 624.9 123.4Q625.75 124.6 626.6 123.4Q627.45 122.2 628.3 123.4Q629.15 124.6 630 123.4Q630.85 122.2 631.7 123.4Q632.55 124.6 633.4 123.4Q634.25 122.2 635.1 123.4Q635.7 124.6 636.3 123.4" fill="none" stroke="#e63e4a" stroke-width="0.85"/>
<path d="M619.8 125.9Q620.65 124.7 621.5 125.9Q622.35 127.1 623.2 125.9Q624.05 124.7 624.9 125.9Q625.75 127.1 626.6 125.9Q627.45 124.7 628.3 125.9Q629.15 127.1 630 125.9Q630.85 124.7 631.7 125.9Q632.55 127.1 633.4 125.9Q634.25 124.7 635.1 125.9Q635.7 127.1 636.3 125.9" fill="none" stroke="#e63e4a" stroke-width="0.85"/>
<path d="M619.8 128.4Q620.65 127.2 621.5 128.4Q622.35 129.6 623.2 128.4Q624.05 127.2 624.9 128.4Q625.75 129.6 626.6 128.4Q627.45 127.2 628.3 128.4Q629.15 129.6 630 128.4Q630.85 127.2 631.7 128.4Q632.55 129.6 633.4 128.4Q634.25 127.2 635.1 128.4Q635.7 129.6 636.3 128.4" fill="none" stroke="#e63e4a" stroke-width="0.85"/>
<path d="M619.8 130.9Q620.65 129.7 621.5 130.9Q622.35 132.1 623.2 130.9Q624.05 129.7 624.9 130.9Q625.75 132.1 626.6 130.9Q627.45 129.7 628.3 130.9Q629.15 132.1 630 130.9Q630.85 129.7 631.7 130.9Q632.55 132.1 633.4 130.9Q634.25 129.7 635.1 130.9Q635.7 132.1 636.3 130.9" fill="none" stroke="#e63e4a" stroke-width="0.85"/>
<path d="M643.6 132.8Q644.45 131.6 645.3 132.8Q646.15 134 647 132.8Q647.85 131.6 648.7 132.8Q649.55 134 650.4 132.8Q651.25 131.6 652.1 132.8Q652.95 134 653.8 132.8Q654.65 131.6 655.5 132.8Q656.35 134 657.2 132.8Q658.05 131.6 658.9 132.8Q659.75 134 660.6 132.8Q660.8 131.6 661 132.8" fill="none" stroke="#e63e4a" stroke-width="0.85"/>
<path d="M643.6 135.3Q644.45 134.1 645.3 135.3Q646.15 136.5 647 135.3Q647.85 134.1 648.7 135.3Q649.55 136.5 650.4 135.3Q651.25 134.1 652.1 135.3Q652.95 136.5 653.8 135.3Q654.65 134.1 655.5 135.3Q656.35 136.5 657.2 135.3Q658.05 134.1 658.9 135.3Q659.75 136.5 660.6 135.3Q660.8 134.1 661 135.3" fill="none" stroke="#e63e4a" stroke-width="0.85"/>
<path d="M643.6 137.8Q644.45 136.6 645.3 137.8Q646.15 139 647 137.8Q647.85 136.6 648.7 137.8Q649.55 139 650.4 137.8Q651.25 136.6 652.1 137.8Q652.95 139 653.8 137.8Q654.65 136.6 655.5 137.8Q656.35 139 657.2 137.8Q658.05 136.6 658.9 137.8Q659.75 139 660.6 137.8Q660.8 136.6 661 137.8" fill="none" stroke="#e63e4a" stroke-width="0.85"/>
<path d="M643.6 140.3Q644.45 139.1 645.3 140.3Q646.15 141.5 647 140.3Q647.85 139.1 648.7 140.3Q649.55 141.5 650.4 140.3Q651.25 139.1 652.1 140.3Q652.95 141.5 653.8 140.3Q654.65 139.1 655.5 140.3Q656.35 141.5 657.2 140.3Q658.05 139.1 658.9 140.3Q659.75 141.5 660.6 140.3Q660.8 139.1 661 140.3" fill="none" stroke="#e63e4a" stroke-width="0.85"/>
<text x="629.9" y="137.4" font-size="3.3" fill="#202020" textLength="11.8" lengthAdjust="spacingAndGlyphs">Multiple</text>
<text x="629.9" y="141" font-size="3.3" fill="#202020" textLength="10" lengthAdjust="spacingAndGlyphs">mRNAs</text>
<line x1="626.7" y1="133.6" x2="626.7" y2="147.6" stroke="#969696" stroke-width="1.4"/>
<path d="M624.7 146.8L628.7 146.8L626.7 149.4Z" fill="#969696"/>
<line x1="652.8" y1="143.7" x2="652.8" y2="154" stroke="#969696" stroke-width="1.4"/>
<path d="M650.8 153.2L654.8 153.2L652.8 155.8Z" fill="#969696"/>
<line x1="616" y1="152.9" x2="643.6" y2="152.9" stroke="#6250b0" stroke-width="1" stroke-dasharray="1.3 0.9"/>
<line x1="641.8" y1="158.8" x2="670.2" y2="158.8" stroke="#6250b0" stroke-width="1" stroke-dasharray="1.3 0.9"/>
<text x="628.9" y="156.6" font-size="3.3" fill="#202020" textLength="21" lengthAdjust="spacingAndGlyphs">Polypeptides</text>
<line x1="636.3" y1="152.5" x2="640.3" y2="149.6" stroke="#666" stroke-width="0.3"/>
<text x="640.6" y="150.3" font-size="2.5" fill="#202020">Thr</text>
<line x1="659.3" y1="158.4" x2="663.8" y2="155.2" stroke="#666" stroke-width="0.3"/>
<text x="664.3" y="155.9" font-size="2.5" fill="#202020">Thr</text>
<line x1="626.7" y1="155.6" x2="626.7" y2="161.4" stroke="#969696" stroke-width="1.4"/>
<path d="M624.7 160.6L628.7 160.6L626.7 163.2Z" fill="#969696"/>
<line x1="652.8" y1="161.2" x2="652.8" y2="165.1" stroke="#969696" stroke-width="1.4"/>
<path d="M650.8 164.3L654.8 164.3L652.8 166.9Z" fill="#969696"/>
<text x="616" y="166.5" font-size="3.3" fill="#202020" textLength="17.5" lengthAdjust="spacingAndGlyphs">Tyrosinase</text>
<text x="616" y="170.2" font-size="3.3" fill="#202020" textLength="13" lengthAdjust="spacingAndGlyphs">enzyme</text>
<text x="635.3" y="169.6" font-size="3.1" fill="#202020" textLength="13" lengthAdjust="spacingAndGlyphs">Tyrosine</text>
<text x="653.8" y="169.6" font-size="3.1" fill="#202020" textLength="17.5" lengthAdjust="spacingAndGlyphs">Active site</text>
<ellipse cx="628" cy="175.3" rx="3.4" ry="3.1" fill="#5e3ea8"/>
<ellipse cx="627.5" cy="174.9" rx="1.9" ry="1.7" fill="#7c5ac0"/>
<ellipse cx="631.2" cy="175.3" rx="1.2" ry="1.2" fill="#d84a5a"/>
<ellipse cx="652.8" cy="175.3" rx="3.4" ry="3.1" fill="#5e3ea8"/>
<ellipse cx="652.3" cy="174.9" rx="1.9" ry="1.7" fill="#7c5ac0"/>
<ellipse cx="656" cy="175.3" rx="1.2" ry="1.2" fill="#d84a5a"/>
<path d="M631.8 177.5Q640.3 181.5 649.1 177.5" fill="none" stroke="#999" stroke-width="0.9"/>
<line x1="640.3" y1="179.4" x2="640.3" y2="183" stroke="#999" stroke-width="0.9"/>
<text x="616" y="184.8" font-size="3.3" fill="#202020" textLength="13" lengthAdjust="spacingAndGlyphs">Tyrosine</text>
<line x1="629.9" y1="183.7" x2="649.8" y2="183.7" stroke="#999" stroke-width="0.9"/>
<path d="M649.3 182.3L652.3 183.7L649.3 185.1Z" fill="#999"/>
<rect x="655.2" y="181.8" width="15.2" height="4.1" fill="#cc5028"/>
<text x="662.8" y="184.9" font-size="3.3" fill="#4a1408" text-anchor="middle" font-weight="bold" textLength="11.5" lengthAdjust="spacingAndGlyphs">Melanin</text>
<rect x="676.8" y="89.6" width="57.8" height="97.2" fill="#f3bc9f"/>
<path d="M676.8 89.6H734.6V137.2C718.8 136.5 703.8 133.5 695.8 129C686.8 124 680.3 118 676.8 110.8Z" fill="#efe6c6"/>
<rect x="676.8" y="89.6" width="57.8" height="97.2" fill="none" stroke="#d9cfae" stroke-width="0.4"/>
<text x="730.8" y="93.2" font-size="3.4" fill="#202020" text-anchor="end" textLength="13.8" lengthAdjust="spacingAndGlyphs">Nucleus</text>
<text x="689.6" y="96.5" font-size="3.3" fill="#202020" font-style="italic" textLength="24" lengthAdjust="spacingAndGlyphs">Chromosome 11</text>
<text x="705.3" y="109.8" font-size="3.3" fill="#202020" font-style="italic" textLength="28" lengthAdjust="spacingAndGlyphs">Chromosome 11</text>
<path d="M685 102.1V100.7H703.4V102.1" fill="none" stroke="#555" stroke-width="0.35"/>
<text x="694.2" y="100.2" font-size="2.6" fill="#333" text-anchor="middle" font-style="italic">A</text>
<path d="M703.4 114.9V113.5H721.7V114.9" fill="none" stroke="#555" stroke-width="0.35"/>
<text x="712.55" y="113" font-size="2.6" fill="#333" text-anchor="middle" font-style="italic">A</text>
<path d="M678.5 103.3Q679.35 102.2 680.2 103.3Q681.05 104.4 681.9 103.3Q682.75 102.2 683.6 103.3Q684.45 104.4 685.3 103.3Q686.15 102.2 687 103.3Q687.85 104.4 688.7 103.3Q689.55 102.2 690.4 103.3Q691.25 104.4 692.1 103.3Q692.95 102.2 693.8 103.3Q694.65 104.4 695.5 103.3Q696.35 102.2 697.2 103.3Q698.05 104.4 698.9 103.3Q699.75 102.2 700.6 103.3Q701.45 104.4 702.3 103.3Q703.15 102.2 704 103.3Q704.85 104.4 705.7 103.3Q706.55 102.2 707.4 103.3Q708.25 104.4 709.1 103.3Q709.95 102.2 710.8 103.3Q711.65 104.4 712.5 103.3Q713.35 102.2 714.2 103.3Q714.75 104.4 715.3 103.3" fill="none" stroke="#4aa6d8" stroke-width="1.3"/>
<path d="M678.5 103.5Q679.35 104.6 680.2 103.5Q681.05 102.4 681.9 103.5Q682.75 104.6 683.6 103.5Q684.45 102.4 685.3 103.5Q686.15 104.6 687 103.5Q687.85 102.4 688.7 103.5Q689.55 104.6 690.4 103.5Q691.25 102.4 692.1 103.5Q692.95 104.6 693.8 103.5Q694.65 102.4 695.5 103.5Q696.35 104.6 697.2 103.5Q698.05 102.4 698.9 103.5Q699.75 104.6 700.6 103.5Q701.45 102.4 702.3 103.5Q703.15 104.6 704 103.5Q704.85 102.4 705.7 103.5Q706.55 104.6 707.4 103.5Q708.25 102.4 709.1 103.5Q709.95 104.6 710.8 103.5Q711.65 102.4 712.5 103.5Q713.35 104.6 714.2 103.5Q714.75 102.4 715.3 103.5" fill="none" stroke="#7fc6e6" stroke-width="0.8"/>
<path d="M685.5 103.3Q686.35 102.3 687.2 103.3Q688.05 104.3 688.9 103.3Q689.75 102.3 690.6 103.3Q691.45 104.3 692.3 103.3Q693.15 102.3 694 103.3Q694.85 104.3 695.7 103.3Q696.55 102.3 697.4 103.3Q698.25 104.3 699.1 103.3Q699.95 102.3 700.8 103.3Q701.65 104.3 702.5 103.3Q702.9 102.3 703.3 103.3" fill="none" stroke="#55b04a" stroke-width="1.3"/>
<path d="M696.9 116.6Q697.75 115.5 698.6 116.6Q699.45 117.7 700.3 116.6Q701.15 115.5 702 116.6Q702.85 117.7 703.7 116.6Q704.55 115.5 705.4 116.6Q706.25 117.7 707.1 116.6Q707.95 115.5 708.8 116.6Q709.65 117.7 710.5 116.6Q711.35 115.5 712.2 116.6Q713.05 117.7 713.9 116.6Q714.75 115.5 715.6 116.6Q716.45 117.7 717.3 116.6Q718.15 115.5 719 116.6Q719.85 117.7 720.7 116.6Q721.55 115.5 722.4 116.6Q723.25 117.7 724.1 116.6Q724.95 115.5 725.8 116.6Q726.65 117.7 727.5 116.6Q728.35 115.5 729.2 116.6Q730.05 117.7 730.9 116.6Q731.75 115.5 732.6 116.6Q732.65 117.7 732.7 116.6" fill="none" stroke="#4aa6d8" stroke-width="1.3"/>
<path d="M696.9 116.8Q697.75 117.9 698.6 116.8Q699.45 115.7 700.3 116.8Q701.15 117.9 702 116.8Q702.85 115.7 703.7 116.8Q704.55 117.9 705.4 116.8Q706.25 115.7 707.1 116.8Q707.95 117.9 708.8 116.8Q709.65 115.7 710.5 116.8Q711.35 117.9 712.2 116.8Q713.05 115.7 713.9 116.8Q714.75 117.9 715.6 116.8Q716.45 115.7 717.3 116.8Q718.15 117.9 719 116.8Q719.85 115.7 720.7 116.8Q721.55 117.9 722.4 116.8Q723.25 115.7 724.1 116.8Q724.95 117.9 725.8 116.8Q726.65 115.7 727.5 116.8Q728.35 117.9 729.2 116.8Q730.05 115.7 730.9 116.8Q731.75 117.9 732.6 116.8Q732.65 115.7 732.7 116.8" fill="none" stroke="#7fc6e6" stroke-width="0.8"/>
<path d="M703.9 116.6Q704.75 115.6 705.6 116.6Q706.45 117.6 707.3 116.6Q708.15 115.6 709 116.6Q709.85 117.6 710.7 116.6Q711.55 115.6 712.4 116.6Q713.25 117.6 714.1 116.6Q714.95 115.6 715.8 116.6Q716.65 117.6 717.5 116.6Q718.35 115.6 719.2 116.6Q719.95 117.6 720.7 116.6" fill="none" stroke="#55b04a" stroke-width="1.3"/>
<rect x="714.3" y="115.7" width="2.2" height="1.8" fill="#d8d84a"/>
<line x1="689.2" y1="105.4" x2="689.2" y2="118.2" stroke="#969696" stroke-width="1.4"/>
<path d="M687.2 117.4L691.2 117.4L689.2 120Z" fill="#969696"/>
<line x1="715.3" y1="119" x2="715.3" y2="127" stroke="#969696" stroke-width="1.4"/>
<path d="M713.3 126.2L717.3 126.2L715.3 128.8Z" fill="#969696"/>
<path d="M682.3 123.4Q683.15 122.2 684 123.4Q684.85 124.6 685.7 123.4Q686.55 122.2 687.4 123.4Q688.25 124.6 689.1 123.4Q689.95 122.2 690.8 123.4Q691.65 124.6 692.5 123.4Q693.35 122.2 694.2 123.4Q695.05 124.6 695.9 123.4Q696.75 122.2 697.6 123.4Q698.2 124.6 698.8 123.4" fill="none" stroke="#e63e4a" stroke-width="0.85"/>
<path d="M682.3 125.9Q683.15 124.7 684 125.9Q684.85 127.1 685.7 125.9Q686.55 124.7 687.4 125.9Q688.25 127.1 689.1 125.9Q689.95 124.7 690.8 125.9Q691.65 127.1 692.5 125.9Q693.35 124.7 694.2 125.9Q695.05 127.1 695.9 125.9Q696.75 124.7 697.6 125.9Q698.2 127.1 698.8 125.9" fill="none" stroke="#e63e4a" stroke-width="0.85"/>
<path d="M682.3 128.4Q683.15 127.2 684 128.4Q684.85 129.6 685.7 128.4Q686.55 127.2 687.4 128.4Q688.25 129.6 689.1 128.4Q689.95 127.2 690.8 128.4Q691.65 129.6 692.5 128.4Q693.35 127.2 694.2 128.4Q695.05 129.6 695.9 128.4Q696.75 127.2 697.6 128.4Q698.2 129.6 698.8 128.4" fill="none" stroke="#e63e4a" stroke-width="0.85"/>
<path d="M682.3 130.9Q683.15 129.7 684 130.9Q684.85 132.1 685.7 130.9Q686.55 129.7 687.4 130.9Q688.25 132.1 689.1 130.9Q689.95 129.7 690.8 130.9Q691.65 132.1 692.5 130.9Q693.35 129.7 694.2 130.9Q695.05 132.1 695.9 130.9Q696.75 129.7 697.6 130.9Q698.2 132.1 698.8 130.9" fill="none" stroke="#e63e4a" stroke-width="0.85"/>
<path d="M706.1 132.8Q706.95 131.6 707.8 132.8Q708.65 134 709.5 132.8Q710.35 131.6 711.2 132.8Q712.05 134 712.9 132.8Q713.75 131.6 714.6 132.8Q715.45 134 716.3 132.8Q717.15 131.6 718 132.8Q718.85 134 719.7 132.8Q720.55 131.6 721.4 132.8Q722.25 134 723.1 132.8Q723.3 131.6 723.5 132.8" fill="none" stroke="#e63e4a" stroke-width="0.85"/>
<path d="M706.1 135.3Q706.95 134.1 707.8 135.3Q708.65 136.5 709.5 135.3Q710.35 134.1 711.2 135.3Q712.05 136.5 712.9 135.3Q713.75 134.1 714.6 135.3Q715.45 136.5 716.3 135.3Q717.15 134.1 718 135.3Q718.85 136.5 719.7 135.3Q720.55 134.1 721.4 135.3Q722.25 136.5 723.1 135.3Q723.3 134.1 723.5 135.3" fill="none" stroke="#e63e4a" stroke-width="0.85"/>
<path d="M706.1 137.8Q706.95 136.6 707.8 137.8Q708.65 139 709.5 137.8Q710.35 136.6 711.2 137.8Q712.05 139 712.9 137.8Q713.75 136.6 714.6 137.8Q715.45 139 716.3 137.8Q717.15 136.6 718 137.8Q718.85 139 719.7 137.8Q720.55 136.6 721.4 137.8Q722.25 139 723.1 137.8Q723.3 136.6 723.5 137.8" fill="none" stroke="#e63e4a" stroke-width="0.85"/>
<path d="M706.1 140.3Q706.95 139.1 707.8 140.3Q708.65 141.5 709.5 140.3Q710.35 139.1 711.2 140.3Q712.05 141.5 712.9 140.3Q713.75 139.1 714.6 140.3Q715.45 141.5 716.3 140.3Q717.15 139.1 718 140.3Q718.85 141.5 719.7 140.3Q720.55 139.1 721.4 140.3Q722.25 141.5 723.1 140.3Q723.3 139.1 723.5 140.3" fill="none" stroke="#e63e4a" stroke-width="0.85"/>
<rect x="718.1" y="132" width="1.8" height="1.6" fill="#c9d24a"/>
<rect x="718.1" y="134.5" width="1.8" height="1.6" fill="#c9d24a"/>
<rect x="718.1" y="137" width="1.8" height="1.6" fill="#c9d24a"/>
<rect x="718.1" y="139.5" width="1.8" height="1.6" fill="#c9d24a"/>
<text x="692.4" y="137.4" font-size="3.3" fill="#202020" textLength="11.8" lengthAdjust="spacingAndGlyphs">Multiple</text>
<text x="692.4" y="141" font-size="3.3" fill="#202020" textLength="10" lengthAdjust="spacingAndGlyphs">mRNAs</text>
<line x1="689.2" y1="133.6" x2="689.2" y2="147.6" stroke="#969696" stroke-width="1.4"/>
<path d="M687.2 146.8L691.2 146.8L689.2 149.4Z" fill="#969696"/>
<line x1="715.3" y1="143.7" x2="715.3" y2="154" stroke="#969696" stroke-width="1.4"/>
<path d="M713.3 153.2L717.3 153.2L715.3 155.8Z" fill="#969696"/>
<line x1="678.5" y1="152.9" x2="706.1" y2="152.9" stroke="#6250b0" stroke-width="1" stroke-dasharray="1.3 0.9"/>
<line x1="704.3" y1="158.8" x2="732.7" y2="158.8" stroke="#6250b0" stroke-width="1" stroke-dasharray="1.3 0.9"/>
<text x="691.4" y="156.6" font-size="3.3" fill="#202020" textLength="21" lengthAdjust="spacingAndGlyphs">Polypeptides</text>
<line x1="698.8" y1="152.5" x2="702.8" y2="149.6" stroke="#666" stroke-width="0.3"/>
<text x="703.1" y="150.3" font-size="2.5" fill="#202020">Thr</text>
<line x1="721.8" y1="158.4" x2="726.3" y2="155.2" stroke="#666" stroke-width="0.3"/>
<text x="726.8" y="155.9" font-size="2.5" fill="#202020">Lys</text>
<rect x="720.8" y="158" width="2" height="1.6" fill="#c9d24a"/>
<line x1="689.2" y1="155.6" x2="689.2" y2="161.4" stroke="#969696" stroke-width="1.4"/>
<path d="M687.2 160.6L691.2 160.6L689.2 163.2Z" fill="#969696"/>
<line x1="715.3" y1="161.2" x2="715.3" y2="165.1" stroke="#969696" stroke-width="1.4"/>
<path d="M713.3 164.3L717.3 164.3L715.3 166.9Z" fill="#969696"/>
<text x="704.8" y="164.3" font-size="3.1" fill="#202020" textLength="10.5" lengthAdjust="spacingAndGlyphs">Mutant</text>
<text x="704.8" y="167.8" font-size="3.1" fill="#202020" textLength="14" lengthAdjust="spacingAndGlyphs">active site</text>
<text x="704.8" y="171.3" font-size="3.1" fill="#202020" textLength="13" lengthAdjust="spacingAndGlyphs">(inactive)</text>
<ellipse cx="690.5" cy="175.3" rx="3.4" ry="3.1" fill="#5e3ea8"/>
<ellipse cx="690" cy="174.9" rx="1.9" ry="1.7" fill="#7c5ac0"/>
<ellipse cx="693.7" cy="175.3" rx="1.2" ry="1.2" fill="#d84a5a"/>
<ellipse cx="714.8" cy="175.3" rx="3.4" ry="3.1" fill="#5e3ea8"/>
<ellipse cx="714.3" cy="174.9" rx="1.9" ry="1.7" fill="#7c5ac0"/>
<ellipse cx="714.8" cy="175.3" rx="1.3" ry="1.2" fill="#c6d654"/>
<ellipse cx="720.8" cy="170.6" rx="1.3" ry="1.3" fill="#c8404e"/>
<path d="M691.8 178.6V180.6H702.8V183" fill="none" stroke="#999" stroke-width="0.9"/>
<path d="M716.8 117.2Q722.8 120 719.8 131" fill="none" stroke="#555" stroke-width="0.35"/>
<text x="722.8" y="121.6" font-size="3.1" fill="#202020" textLength="10.5" lengthAdjust="spacingAndGlyphs">Mutant</text>
<text x="722.8" y="125.2" font-size="3.1" fill="#202020" textLength="5.5" lengthAdjust="spacingAndGlyphs">site</text>
<text x="678.5" y="184.8" font-size="3.3" fill="#202020" textLength="13" lengthAdjust="spacingAndGlyphs">Tyrosine</text>
<line x1="692.4" y1="183.7" x2="712.3" y2="183.7" stroke="#999" stroke-width="0.9"/>
<path d="M711.8 182.3L714.8 183.7L711.8 185.1Z" fill="#999"/>
<rect x="717.7" y="181.8" width="15.2" height="4.1" fill="#cc5028"/>
<text x="725.3" y="184.9" font-size="3.3" fill="#4a1408" text-anchor="middle" font-weight="bold" textLength="11.5" lengthAdjust="spacingAndGlyphs">Melanin</text>
<rect x="739" y="89.6" width="57.8" height="97.2" fill="#fcece7"/>
<path d="M739 89.6H796.8V137.2C781 136.5 766 133.5 758 129C749 124 742.5 118 739 110.8Z" fill="#efe6c6"/>
<rect x="739" y="89.6" width="57.8" height="97.2" fill="none" stroke="#d9cfae" stroke-width="0.4"/>
<text x="793" y="93.2" font-size="3.4" fill="#202020" text-anchor="end" textLength="13.8" lengthAdjust="spacingAndGlyphs">Nucleus</text>
<text x="751.8" y="96.5" font-size="3.3" fill="#202020" font-style="italic" textLength="24" lengthAdjust="spacingAndGlyphs">Chromosome 11</text>
<text x="767.5" y="109.8" font-size="3.3" fill="#202020" font-style="italic" textLength="28" lengthAdjust="spacingAndGlyphs">Chromosome 11</text>
<path d="M747.2 102.1V100.7H765.6V102.1" fill="none" stroke="#555" stroke-width="0.35"/>
<text x="756.4" y="100.2" font-size="2.6" fill="#333" text-anchor="middle" font-style="italic">a</text>
<path d="M765.6 114.9V113.5H783.9V114.9" fill="none" stroke="#555" stroke-width="0.35"/>
<text x="774.75" y="113" font-size="2.6" fill="#333" text-anchor="middle" font-style="italic">a</text>
<path d="M740.7 103.3Q741.55 102.2 742.4 103.3Q743.25 104.4 744.1 103.3Q744.95 102.2 745.8 103.3Q746.65 104.4 747.5 103.3Q748.35 102.2 749.2 103.3Q750.05 104.4 750.9 103.3Q751.75 102.2 752.6 103.3Q753.45 104.4 754.3 103.3Q755.15 102.2 756 103.3Q756.85 104.4 757.7 103.3Q758.55 102.2 759.4 103.3Q760.25 104.4 761.1 103.3Q761.95 102.2 762.8 103.3Q763.65 104.4 764.5 103.3Q765.35 102.2 766.2 103.3Q767.05 104.4 767.9 103.3Q768.75 102.2 769.6 103.3Q770.45 104.4 771.3 103.3Q772.15 102.2 773 103.3Q773.85 104.4 774.7 103.3Q775.55 102.2 776.4 103.3Q776.95 104.4 777.5 103.3" fill="none" stroke="#4aa6d8" stroke-width="1.3"/>
<path d="M740.7 103.5Q741.55 104.6 742.4 103.5Q743.25 102.4 744.1 103.5Q744.95 104.6 745.8 103.5Q746.65 102.4 747.5 103.5Q748.35 104.6 749.2 103.5Q750.05 102.4 750.9 103.5Q751.75 104.6 752.6 103.5Q753.45 102.4 754.3 103.5Q755.15 104.6 756 103.5Q756.85 102.4 757.7 103.5Q758.55 104.6 759.4 103.5Q760.25 102.4 761.1 103.5Q761.95 104.6 762.8 103.5Q763.65 102.4 764.5 103.5Q765.35 104.6 766.2 103.5Q767.05 102.4 767.9 103.5Q768.75 104.6 769.6 103.5Q770.45 102.4 771.3 103.5Q772.15 104.6 773 103.5Q773.85 102.4 774.7 103.5Q775.55 104.6 776.4 103.5Q776.95 102.4 777.5 103.5" fill="none" stroke="#7fc6e6" stroke-width="0.8"/>
<path d="M747.7 103.3Q748.55 102.3 749.4 103.3Q750.25 104.3 751.1 103.3Q751.95 102.3 752.8 103.3Q753.65 104.3 754.5 103.3Q755.35 102.3 756.2 103.3Q757.05 104.3 757.9 103.3Q758.75 102.3 759.6 103.3Q760.45 104.3 761.3 103.3Q762.15 102.3 763 103.3Q763.85 104.3 764.7 103.3Q765.1 102.3 765.5 103.3" fill="none" stroke="#55b04a" stroke-width="1.3"/>
<path d="M759.1 116.6Q759.95 115.5 760.8 116.6Q761.65 117.7 762.5 116.6Q763.35 115.5 764.2 116.6Q765.05 117.7 765.9 116.6Q766.75 115.5 767.6 116.6Q768.45 117.7 769.3 116.6Q770.15 115.5 771 116.6Q771.85 117.7 772.7 116.6Q773.55 115.5 774.4 116.6Q775.25 117.7 776.1 116.6Q776.95 115.5 777.8 116.6Q778.65 117.7 779.5 116.6Q780.35 115.5 781.2 116.6Q782.05 117.7 782.9 116.6Q783.75 115.5 784.6 116.6Q785.45 117.7 786.3 116.6Q787.15 115.5 788 116.6Q788.85 117.7 789.7 116.6Q790.55 115.5 791.4 116.6Q792.25 117.7 793.1 116.6Q793.95 115.5 794.8 116.6Q794.85 117.7 794.9 116.6" fill="none" stroke="#4aa6d8" stroke-width="1.3"/>
<path d="M759.1 116.8Q759.95 117.9 760.8 116.8Q761.65 115.7 762.5 116.8Q763.35 117.9 764.2 116.8Q765.05 115.7 765.9 116.8Q766.75 117.9 767.6 116.8Q768.45 115.7 769.3 116.8Q770.15 117.9 771 116.8Q771.85 115.7 772.7 116.8Q773.55 117.9 774.4 116.8Q775.25 115.7 776.1 116.8Q776.95 117.9 777.8 116.8Q778.65 115.7 779.5 116.8Q780.35 117.9 781.2 116.8Q782.05 115.7 782.9 116.8Q783.75 117.9 784.6 116.8Q785.45 115.7 786.3 116.8Q787.15 117.9 788 116.8Q788.85 115.7 789.7 116.8Q790.55 117.9 791.4 116.8Q792.25 115.7 793.1 116.8Q793.95 117.9 794.8 116.8Q794.85 115.7 794.9 116.8" fill="none" stroke="#7fc6e6" stroke-width="0.8"/>
<path d="M766.1 116.6Q766.95 115.6 767.8 116.6Q768.65 117.6 769.5 116.6Q770.35 115.6 771.2 116.6Q772.05 117.6 772.9 116.6Q773.75 115.6 774.6 116.6Q775.45 117.6 776.3 116.6Q777.15 115.6 778 116.6Q778.85 117.6 779.7 116.6Q780.55 115.6 781.4 116.6Q782.15 117.6 782.9 116.6" fill="none" stroke="#55b04a" stroke-width="1.3"/>
<rect x="760.8" y="102.4" width="2.2" height="1.8" fill="#d8d84a"/>
<rect x="776.5" y="115.7" width="2.2" height="1.8" fill="#d8d84a"/>
<line x1="751.4" y1="105.4" x2="751.4" y2="118.2" stroke="#969696" stroke-width="1.4"/>
<path d="M749.4 117.4L753.4 117.4L751.4 120Z" fill="#969696"/>
<line x1="777.5" y1="119" x2="777.5" y2="127" stroke="#969696" stroke-width="1.4"/>
<path d="M775.5 126.2L779.5 126.2L777.5 128.8Z" fill="#969696"/>
<path d="M744.5 123.4Q745.35 122.2 746.2 123.4Q747.05 124.6 747.9 123.4Q748.75 122.2 749.6 123.4Q750.45 124.6 751.3 123.4Q752.15 122.2 753 123.4Q753.85 124.6 754.7 123.4Q755.55 122.2 756.4 123.4Q757.25 124.6 758.1 123.4Q758.95 122.2 759.8 123.4Q760.4 124.6 761 123.4" fill="none" stroke="#e63e4a" stroke-width="0.85"/>
<path d="M744.5 125.9Q745.35 124.7 746.2 125.9Q747.05 127.1 747.9 125.9Q748.75 124.7 749.6 125.9Q750.45 127.1 751.3 125.9Q752.15 124.7 753 125.9Q753.85 127.1 754.7 125.9Q755.55 124.7 756.4 125.9Q757.25 127.1 758.1 125.9Q758.95 124.7 759.8 125.9Q760.4 127.1 761 125.9" fill="none" stroke="#e63e4a" stroke-width="0.85"/>
<path d="M744.5 128.4Q745.35 127.2 746.2 128.4Q747.05 129.6 747.9 128.4Q748.75 127.2 749.6 128.4Q750.45 129.6 751.3 128.4Q752.15 127.2 753 128.4Q753.85 129.6 754.7 128.4Q755.55 127.2 756.4 128.4Q757.25 129.6 758.1 128.4Q758.95 127.2 759.8 128.4Q760.4 129.6 761 128.4" fill="none" stroke="#e63e4a" stroke-width="0.85"/>
<path d="M744.5 130.9Q745.35 129.7 746.2 130.9Q747.05 132.1 747.9 130.9Q748.75 129.7 749.6 130.9Q750.45 132.1 751.3 130.9Q752.15 129.7 753 130.9Q753.85 132.1 754.7 130.9Q755.55 129.7 756.4 130.9Q757.25 132.1 758.1 130.9Q758.95 129.7 759.8 130.9Q760.4 132.1 761 130.9" fill="none" stroke="#e63e4a" stroke-width="0.85"/>
<path d="M768.3 132.8Q769.15 131.6 770 132.8Q770.85 134 771.7 132.8Q772.55 131.6 773.4 132.8Q774.25 134 775.1 132.8Q775.95 131.6 776.8 132.8Q777.65 134 778.5 132.8Q779.35 131.6 780.2 132.8Q781.05 134 781.9 132.8Q782.75 131.6 783.6 132.8Q784.45 134 785.3 132.8Q785.5 131.6 785.7 132.8" fill="none" stroke="#e63e4a" stroke-width="0.85"/>
<path d="M768.3 135.3Q769.15 134.1 770 135.3Q770.85 136.5 771.7 135.3Q772.55 134.1 773.4 135.3Q774.25 136.5 775.1 135.3Q775.95 134.1 776.8 135.3Q777.65 136.5 778.5 135.3Q779.35 134.1 780.2 135.3Q781.05 136.5 781.9 135.3Q782.75 134.1 783.6 135.3Q784.45 136.5 785.3 135.3Q785.5 134.1 785.7 135.3" fill="none" stroke="#e63e4a" stroke-width="0.85"/>
<path d="M768.3 137.8Q769.15 136.6 770 137.8Q770.85 139 771.7 137.8Q772.55 136.6 773.4 137.8Q774.25 139 775.1 137.8Q775.95 136.6 776.8 137.8Q777.65 139 778.5 137.8Q779.35 136.6 780.2 137.8Q781.05 139 781.9 137.8Q782.75 136.6 783.6 137.8Q784.45 139 785.3 137.8Q785.5 136.6 785.7 137.8" fill="none" stroke="#e63e4a" stroke-width="0.85"/>
<path d="M768.3 140.3Q769.15 139.1 770 140.3Q770.85 141.5 771.7 140.3Q772.55 139.1 773.4 140.3Q774.25 141.5 775.1 140.3Q775.95 139.1 776.8 140.3Q777.65 141.5 778.5 140.3Q779.35 139.1 780.2 140.3Q781.05 141.5 781.9 140.3Q782.75 139.1 783.6 140.3Q784.45 141.5 785.3 140.3Q785.5 139.1 785.7 140.3" fill="none" stroke="#e63e4a" stroke-width="0.85"/>
<rect x="756" y="122.6" width="1.8" height="1.6" fill="#c9d24a"/>
<rect x="756" y="125.1" width="1.8" height="1.6" fill="#c9d24a"/>
<rect x="756" y="127.6" width="1.8" height="1.6" fill="#c9d24a"/>
<rect x="756" y="130.1" width="1.8" height="1.6" fill="#c9d24a"/>
<rect x="780.3" y="132" width="1.8" height="1.6" fill="#c9d24a"/>
<rect x="780.3" y="134.5" width="1.8" height="1.6" fill="#c9d24a"/>
<rect x="780.3" y="137" width="1.8" height="1.6" fill="#c9d24a"/>
<rect x="780.3" y="139.5" width="1.8" height="1.6" fill="#c9d24a"/>
<text x="754.6" y="137.4" font-size="3.3" fill="#202020" textLength="11.8" lengthAdjust="spacingAndGlyphs">Multiple</text>
<text x="754.6" y="141" font-size="3.3" fill="#202020" textLength="10" lengthAdjust="spacingAndGlyphs">mRNAs</text>
<line x1="751.4" y1="133.6" x2="751.4" y2="147.6" stroke="#969696" stroke-width="1.4"/>
<path d="M749.4 146.8L753.4 146.8L751.4 149.4Z" fill="#969696"/>
<line x1="777.5" y1="143.7" x2="777.5" y2="154" stroke="#969696" stroke-width="1.4"/>
<path d="M775.5 153.2L779.5 153.2L777.5 155.8Z" fill="#969696"/>
<line x1="740.7" y1="152.9" x2="768.3" y2="152.9" stroke="#6250b0" stroke-width="1" stroke-dasharray="1.3 0.9"/>
<line x1="766.5" y1="158.8" x2="794.9" y2="158.8" stroke="#6250b0" stroke-width="1" stroke-dasharray="1.3 0.9"/>
<text x="753.6" y="156.6" font-size="3.3" fill="#202020" textLength="21" lengthAdjust="spacingAndGlyphs">Polypeptides</text>
<line x1="761" y1="152.5" x2="765" y2="149.6" stroke="#666" stroke-width="0.3"/>
<text x="765.3" y="150.3" font-size="2.5" fill="#202020">Lys</text>
<line x1="784" y1="158.4" x2="788.5" y2="155.2" stroke="#666" stroke-width="0.3"/>
<text x="789" y="155.9" font-size="2.5" fill="#202020">Lys</text>
<rect x="783" y="158" width="2" height="1.6" fill="#c9d24a"/>
<rect x="758.5" y="152.1" width="2" height="1.6" fill="#c9d24a"/>
<line x1="751.4" y1="155.6" x2="751.4" y2="161.4" stroke="#969696" stroke-width="1.4"/>
<path d="M749.4 160.6L753.4 160.6L751.4 163.2Z" fill="#969696"/>
<line x1="777.5" y1="161.2" x2="777.5" y2="165.1" stroke="#969696" stroke-width="1.4"/>
<path d="M775.5 164.3L779.5 164.3L777.5 166.9Z" fill="#969696"/>
<ellipse cx="752.3" cy="175.2" rx="3.4" ry="3.1" fill="#5e3ea8"/>
<ellipse cx="751.8" cy="174.8" rx="1.9" ry="1.7" fill="#7c5ac0"/>
<ellipse cx="752.3" cy="175.2" rx="1.3" ry="1.2" fill="#c6d654"/>
<ellipse cx="758.3" cy="170.5" rx="1.3" ry="1.3" fill="#c8404e"/>
<ellipse cx="777" cy="175.2" rx="3.4" ry="3.1" fill="#5e3ea8"/>
<ellipse cx="776.5" cy="174.8" rx="1.9" ry="1.7" fill="#7c5ac0"/>
<ellipse cx="777" cy="175.2" rx="1.3" ry="1.2" fill="#c6d654"/>
<ellipse cx="783" cy="170.5" rx="1.3" ry="1.3" fill="#c8404e"/>
<text x="740.7" y="184.8" font-size="3.3" fill="#202020" textLength="13" lengthAdjust="spacingAndGlyphs">Tyrosine</text>
<line x1="754.6" y1="183.7" x2="775" y2="183.7" stroke="#aaa" stroke-width="0.8"/>
<rect x="775.2" y="181.8" width="21.2" height="4.1" fill="#b4bac0"/>
<text x="785.8" y="184.9" font-size="3.3" fill="#333" text-anchor="middle" font-weight="bold" textLength="17" lengthAdjust="spacingAndGlyphs">No melanin</text>
<line x1="151.4" y1="303.3" x2="166.9" y2="303.3" stroke="#1e1e1e" stroke-width="0.95"/>
<line x1="159.3" y1="303.3" x2="159.3" y2="313" stroke="#1e1e1e" stroke-width="0.95"/>
<line x1="120.1" y1="313" x2="198.3" y2="313" stroke="#1e1e1e" stroke-width="0.95"/>
<line x1="120.1" y1="313" x2="120.1" y2="318.2" stroke="#1e1e1e" stroke-width="0.95"/>
<line x1="135.8" y1="313" x2="135.8" y2="318.2" stroke="#1e1e1e" stroke-width="0.95"/>
<line x1="151.4" y1="313" x2="151.4" y2="318.2" stroke="#1e1e1e" stroke-width="0.95"/>
<line x1="182.5" y1="313" x2="182.5" y2="318.2" stroke="#1e1e1e" stroke-width="0.95"/>
<line x1="198.3" y1="313" x2="198.3" y2="318.2" stroke="#1e1e1e" stroke-width="0.95"/>
<line x1="104.5" y1="322.2" x2="120.1" y2="322.2" stroke="#1e1e1e" stroke-width="0.95"/>
<line x1="112.5" y1="322.2" x2="112.5" y2="331.6" stroke="#1e1e1e" stroke-width="0.95"/>
<line x1="104.5" y1="331.6" x2="120.1" y2="331.6" stroke="#1e1e1e" stroke-width="0.95"/>
<line x1="104.5" y1="331.6" x2="104.5" y2="335.5" stroke="#1e1e1e" stroke-width="0.95"/>
<line x1="120.1" y1="331.6" x2="120.1" y2="335.5" stroke="#1e1e1e" stroke-width="0.95"/>
<line x1="151.4" y1="322.2" x2="166.9" y2="322.2" stroke="#1e1e1e" stroke-width="0.95"/>
<line x1="159.3" y1="322.2" x2="159.3" y2="331.6" stroke="#1e1e1e" stroke-width="0.95"/>
<line x1="151.4" y1="331.6" x2="166.9" y2="331.6" stroke="#1e1e1e" stroke-width="0.95"/>
<line x1="151.4" y1="331.6" x2="151.4" y2="335.5" stroke="#1e1e1e" stroke-width="0.95"/>
<line x1="166.9" y1="331.6" x2="166.9" y2="335.5" stroke="#1e1e1e" stroke-width="0.95"/>
<line x1="120.1" y1="339.5" x2="135.8" y2="339.5" stroke="#1e1e1e" stroke-width="0.95"/>
<line x1="128" y1="339.5" x2="128" y2="349.3" stroke="#1e1e1e" stroke-width="0.95"/>
<line x1="120.1" y1="349.3" x2="135.8" y2="349.3" stroke="#1e1e1e" stroke-width="0.95"/>
<line x1="120.1" y1="349.3" x2="120.1" y2="353.2" stroke="#1e1e1e" stroke-width="0.95"/>
<line x1="135.8" y1="349.3" x2="135.8" y2="353.2" stroke="#1e1e1e" stroke-width="0.95"/>
<line x1="135.8" y1="357.2" x2="151.4" y2="357.2" stroke="#1e1e1e" stroke-width="0.95"/>
<line x1="143.4" y1="357.2" x2="143.4" y2="366.6" stroke="#1e1e1e" stroke-width="0.95"/>
<line x1="135.8" y1="366.6" x2="151.4" y2="366.6" stroke="#1e1e1e" stroke-width="0.95"/>
<line x1="135.8" y1="366.6" x2="135.8" y2="370.9" stroke="#1e1e1e" stroke-width="0.95"/>
<line x1="151.4" y1="366.6" x2="151.4" y2="370.9" stroke="#1e1e1e" stroke-width="0.95"/>
<rect x="147" y="298.9" width="8.8" height="8.8" fill="#e4303c" stroke="#4a2a2e" stroke-width="0.5"/>
<ellipse cx="166.9" cy="303.3" rx="4.4" ry="4.4" fill="#3fb4d4" stroke="#2a4a54" stroke-width="0.5"/>
<rect x="100.1" y="317.8" width="8.8" height="8.8" fill="#3fb4d4" stroke="#2a4a54" stroke-width="0.5"/>
<ellipse cx="120.1" cy="322.2" rx="4.4" ry="4.4" fill="#e4303c" stroke="#4a2a2e" stroke-width="0.5"/>
<rect x="131.4" y="317.8" width="8.8" height="8.8" fill="#3fb4d4" stroke="#2a4a54" stroke-width="0.5"/>
<rect x="147" y="317.8" width="8.8" height="8.8" fill="#e4303c" stroke="#4a2a2e" stroke-width="0.5"/>
<ellipse cx="166.9" cy="322.2" rx="4.4" ry="4.4" fill="#3fb4d4" stroke="#2a4a54" stroke-width="0.5"/>
<ellipse cx="182.5" cy="322.2" rx="4.4" ry="4.4" fill="#3fb4d4" stroke="#2a4a54" stroke-width="0.5"/>
<rect x="193.9" y="317.8" width="8.8" height="8.8" fill="#3fb4d4" stroke="#2a4a54" stroke-width="0.5"/>
<rect x="100.1" y="335.1" width="8.8" height="8.8" fill="#3fb4d4" stroke="#2a4a54" stroke-width="0.5"/>
<rect x="115.7" y="335.1" width="8.8" height="8.8" fill="#e4303c" stroke="#4a2a2e" stroke-width="0.5"/>
<ellipse cx="135.8" cy="339.5" rx="4.4" ry="4.4" fill="#3fb4d4" stroke="#2a4a54" stroke-width="0.5"/>
<ellipse cx="151.4" cy="339.5" rx="4.4" ry="4.4" fill="#3fb4d4" stroke="#2a4a54" stroke-width="0.5"/>
<ellipse cx="166.9" cy="339.5" rx="4.4" ry="4.4" fill="#3fb4d4" stroke="#2a4a54" stroke-width="0.5"/>
<ellipse cx="120.1" cy="357.2" rx="4.4" ry="4.4" fill="#3fb4d4" stroke="#2a4a54" stroke-width="0.5"/>
<ellipse cx="135.8" cy="357.2" rx="4.4" ry="4.4" fill="#e4303c" stroke="#4a2a2e" stroke-width="0.5"/>
<rect x="147" y="352.8" width="8.8" height="8.8" fill="#3fb4d4" stroke="#2a4a54" stroke-width="0.5"/>
<ellipse cx="135.8" cy="374.9" rx="4.4" ry="4.4" fill="#3fb4d4" stroke="#2a4a54" stroke-width="0.5"/>
<ellipse cx="151.4" cy="374.9" rx="4.4" ry="4.4" fill="#e4303c" stroke="#4a2a2e" stroke-width="0.5"/>
<text x="90.3" y="305.3" font-size="5.8" fill="#111" text-anchor="middle" font-weight="bold" stroke="#111" stroke-width="0.15">I</text>
<text x="90.3" y="324.2" font-size="5.8" fill="#111" text-anchor="middle" font-weight="bold" stroke="#111" stroke-width="0.15">II</text>
<text x="90.3" y="341.5" font-size="5.8" fill="#111" text-anchor="middle" font-weight="bold" stroke="#111" stroke-width="0.15">III</text>
<text x="90.3" y="359.2" font-size="5.8" fill="#111" text-anchor="middle" font-weight="bold" stroke="#111" stroke-width="0.15">IV</text>
<text x="90.3" y="376.9" font-size="5.8" fill="#111" text-anchor="middle" font-weight="bold" stroke="#111" stroke-width="0.15">V</text>
<line x1="402.5" y1="305.6" x2="418.9" y2="305.6" stroke="#1e1e1e" stroke-width="0.95"/>
<line x1="410.8" y1="305.6" x2="410.8" y2="316.9" stroke="#1e1e1e" stroke-width="0.95"/>
<line x1="369.8" y1="316.9" x2="451.1" y2="316.9" stroke="#1e1e1e" stroke-width="0.95"/>
<line x1="369.8" y1="316.9" x2="369.8" y2="321.4" stroke="#1e1e1e" stroke-width="0.95"/>
<line x1="402.5" y1="316.9" x2="402.5" y2="321.4" stroke="#1e1e1e" stroke-width="0.95"/>
<line x1="418.9" y1="316.9" x2="418.9" y2="321.4" stroke="#1e1e1e" stroke-width="0.95"/>
<line x1="434.9" y1="316.9" x2="434.9" y2="321.4" stroke="#1e1e1e" stroke-width="0.95"/>
<line x1="451.1" y1="316.9" x2="451.1" y2="321.4" stroke="#1e1e1e" stroke-width="0.95"/>
<line x1="369.8" y1="325.4" x2="386" y2="325.4" stroke="#1e1e1e" stroke-width="0.95"/>
<line x1="377.9" y1="325.4" x2="377.9" y2="335.6" stroke="#1e1e1e" stroke-width="0.95"/>
<line x1="369.8" y1="335.6" x2="386" y2="335.6" stroke="#1e1e1e" stroke-width="0.95"/>
<line x1="369.8" y1="335.6" x2="369.8" y2="340" stroke="#1e1e1e" stroke-width="0.95"/>
<line x1="386" y1="335.6" x2="386" y2="340" stroke="#1e1e1e" stroke-width="0.95"/>
<line x1="451.1" y1="325.4" x2="467.4" y2="325.4" stroke="#1e1e1e" stroke-width="0.95"/>
<line x1="459.3" y1="325.4" x2="459.3" y2="335.6" stroke="#1e1e1e" stroke-width="0.95"/>
<line x1="451.1" y1="335.6" x2="467.4" y2="335.6" stroke="#1e1e1e" stroke-width="0.95"/>
<line x1="451.1" y1="335.6" x2="451.1" y2="340" stroke="#1e1e1e" stroke-width="0.95"/>
<line x1="467.4" y1="335.6" x2="467.4" y2="340" stroke="#1e1e1e" stroke-width="0.95"/>
<line x1="386" y1="344" x2="451.1" y2="344" stroke="#1e1e1e" stroke-width="0.95"/>
<line x1="418.9" y1="344" x2="418.9" y2="353.2" stroke="#1e1e1e" stroke-width="0.95"/>
<line x1="402.5" y1="353.2" x2="434.9" y2="353.2" stroke="#1e1e1e" stroke-width="0.95"/>
<line x1="402.5" y1="353.2" x2="402.5" y2="358.5" stroke="#1e1e1e" stroke-width="0.95"/>
<line x1="418.9" y1="353.2" x2="418.9" y2="358.5" stroke="#1e1e1e" stroke-width="0.95"/>
<line x1="434.9" y1="353.2" x2="434.9" y2="358.5" stroke="#1e1e1e" stroke-width="0.95"/>
<line x1="467.4" y1="344" x2="483.5" y2="344" stroke="#1e1e1e" stroke-width="0.95"/>
<line x1="475.5" y1="344" x2="475.5" y2="353.2" stroke="#1e1e1e" stroke-width="0.95"/>
<line x1="467.4" y1="353.2" x2="483.5" y2="353.2" stroke="#1e1e1e" stroke-width="0.95"/>
<line x1="467.4" y1="353.2" x2="467.4" y2="358.5" stroke="#1e1e1e" stroke-width="0.95"/>
<line x1="483.5" y1="353.2" x2="483.5" y2="358.5" stroke="#1e1e1e" stroke-width="0.95"/>
<line x1="434.9" y1="362.5" x2="467.4" y2="362.5" stroke="#1e1e1e" stroke-width="0.95"/>
<line x1="451.1" y1="362.5" x2="451.1" y2="372.7" stroke="#1e1e1e" stroke-width="0.95"/>
<ellipse cx="402.5" cy="305.6" rx="4.6" ry="4.6" fill="#3fb4d4" stroke="#2a4a54" stroke-width="0.5"/>
<rect x="414.3" y="301" width="9.2" height="9.2" fill="#3fb4d4" stroke="#2a4a54" stroke-width="0.5"/>
<ellipse cx="369.8" cy="325.4" rx="4.6" ry="4.6" fill="#3fb4d4" stroke="#2a4a54" stroke-width="0.5"/>
<rect x="381.4" y="320.8" width="9.2" height="9.2" fill="#3fb4d4" stroke="#2a4a54" stroke-width="0.5"/>
<rect x="397.9" y="320.8" width="9.2" height="9.2" fill="#3fb4d4" stroke="#2a4a54" stroke-width="0.5"/>
<ellipse cx="418.9" cy="325.4" rx="4.6" ry="4.6" fill="#3fb4d4" stroke="#2a4a54" stroke-width="0.5"/>
<rect x="430.3" y="320.8" width="9.2" height="9.2" fill="#3fb4d4" stroke="#2a4a54" stroke-width="0.5"/>
<ellipse cx="451.1" cy="325.4" rx="4.6" ry="4.6" fill="#3fb4d4" stroke="#2a4a54" stroke-width="0.5"/>
<rect x="462.8" y="320.8" width="9.2" height="9.2" fill="#3fb4d4" stroke="#2a4a54" stroke-width="0.5"/>
<rect x="365.2" y="339.4" width="9.2" height="9.2" fill="#3fb4d4" stroke="#2a4a54" stroke-width="0.5"/>
<ellipse cx="386" cy="344" rx="4.6" ry="4.6" fill="#3fb4d4" stroke="#2a4a54" stroke-width="0.5"/>
<rect x="446.5" y="339.4" width="9.2" height="9.2" fill="#3fb4d4" stroke="#2a4a54" stroke-width="0.5"/>
<ellipse cx="467.4" cy="344" rx="4.6" ry="4.6" fill="#3fb4d4" stroke="#2a4a54" stroke-width="0.5"/>
<rect x="478.9" y="339.4" width="9.2" height="9.2" fill="#3fb4d4" stroke="#2a4a54" stroke-width="0.5"/>
<ellipse cx="402.5" cy="362.5" rx="4.6" ry="4.6" fill="#e4303c" stroke="#4a2a2e" stroke-width="0.5"/>
<rect x="414.3" y="357.9" width="9.2" height="9.2" fill="#3fb4d4" stroke="#2a4a54" stroke-width="0.5"/>
<ellipse cx="434.9" cy="362.5" rx="4.6" ry="4.6" fill="#3fb4d4" stroke="#2a4a54" stroke-width="0.5"/>
<rect x="462.8" y="357.9" width="9.2" height="9.2" fill="#3fb4d4" stroke="#2a4a54" stroke-width="0.5"/>
<ellipse cx="483.5" cy="362.5" rx="4.6" ry="4.6" fill="#3fb4d4" stroke="#2a4a54" stroke-width="0.5"/>
<rect x="446.5" y="372.1" width="9.2" height="9.2" fill="#e4303c" stroke="#4a2a2e" stroke-width="0.5"/>
<text x="356" y="307.6" font-size="5.8" fill="#111" text-anchor="middle" font-weight="bold" stroke="#111" stroke-width="0.15">I</text>
<text x="356" y="327.4" font-size="5.8" fill="#111" text-anchor="middle" font-weight="bold" stroke="#111" stroke-width="0.15">II</text>
<text x="356" y="346" font-size="5.8" fill="#111" text-anchor="middle" font-weight="bold" stroke="#111" stroke-width="0.15">III</text>
<text x="356" y="364.5" font-size="5.8" fill="#111" text-anchor="middle" font-weight="bold" stroke="#111" stroke-width="0.15">IV</text>
<text x="356" y="378.7" font-size="5.8" fill="#111" text-anchor="middle" font-weight="bold" stroke="#111" stroke-width="0.15">V</text>
<line x1="706.3" y1="304" x2="706.3" y2="311.5" stroke="#777" stroke-width="0.6"/>
<line x1="617.6" y1="311.5" x2="777.4" y2="311.5" stroke="#777" stroke-width="0.6"/>
<line x1="779.5" y1="311.5" x2="805.7" y2="311.5" stroke="#8a8a8a" stroke-width="0.9" stroke-dasharray="4.3 2.2"/>
<line x1="617.6" y1="311.5" x2="617.6" y2="333" stroke="#777" stroke-width="0.6"/>
<line x1="603.2" y1="333" x2="629.2" y2="333" stroke="#777" stroke-width="0.6"/>
<line x1="614.3" y1="333" x2="614.3" y2="339.2" stroke="#777" stroke-width="0.6"/>
<line x1="621.7" y1="333" x2="621.7" y2="339.2" stroke="#777" stroke-width="0.6"/>
<line x1="629.2" y1="333" x2="629.2" y2="339.2" stroke="#777" stroke-width="0.6"/>
<line x1="645.2" y1="311.5" x2="645.2" y2="333" stroke="#777" stroke-width="0.6"/>
<line x1="639.4" y1="333" x2="651.4" y2="333" stroke="#777" stroke-width="0.6"/>
<line x1="639.4" y1="333" x2="639.4" y2="339.2" stroke="#777" stroke-width="0.6"/>
<line x1="651.4" y1="333" x2="651.4" y2="339.2" stroke="#777" stroke-width="0.6"/>
<line x1="712.4" y1="311.5" x2="712.4" y2="333" stroke="#777" stroke-width="0.6"/>
<line x1="669.6" y1="333" x2="731.4" y2="333" stroke="#777" stroke-width="0.6"/>
<line x1="669.6" y1="333" x2="669.6" y2="339.2" stroke="#777" stroke-width="0.6"/>
<line x1="682.8" y1="333" x2="682.8" y2="339.2" stroke="#777" stroke-width="0.6"/>
<line x1="692.6" y1="333" x2="692.6" y2="339.2" stroke="#777" stroke-width="0.6"/>
<line x1="700.5" y1="333" x2="700.5" y2="339.2" stroke="#777" stroke-width="0.6"/>
<line x1="714.5" y1="333" x2="714.5" y2="339.2" stroke="#777" stroke-width="0.6"/>
<line x1="722.8" y1="333" x2="722.8" y2="339.2" stroke="#777" stroke-width="0.6"/>
<line x1="731.4" y1="333" x2="731.4" y2="339.2" stroke="#777" stroke-width="0.6"/>
<line x1="777.3" y1="311.5" x2="777.3" y2="333" stroke="#777" stroke-width="0.6"/>
<line x1="744.6" y1="333" x2="826.8" y2="333" stroke="#777" stroke-width="0.6"/>
<line x1="744.6" y1="333" x2="744.6" y2="339.2" stroke="#777" stroke-width="0.6"/>
<line x1="762.2" y1="333" x2="762.2" y2="339.2" stroke="#777" stroke-width="0.6"/>
<line x1="789.2" y1="333" x2="789.2" y2="339.2" stroke="#777" stroke-width="0.6"/>
<line x1="808.1" y1="333" x2="808.1" y2="339.2" stroke="#777" stroke-width="0.6"/>
<line x1="826.8" y1="333" x2="826.8" y2="339.2" stroke="#777" stroke-width="0.6"/>
<path d="M599.4 336.5L603.2 333L606.9 336.5" fill="none" stroke="#777" stroke-width="0.6"/>
<line x1="599.4" y1="339.2" x2="599.4" y2="361" stroke="#777" stroke-width="0.6"/>
<line x1="596.1" y1="361" x2="603.4" y2="361" stroke="#777" stroke-width="0.6"/>
<line x1="596.1" y1="361" x2="596.1" y2="367.1" stroke="#777" stroke-width="0.6"/>
<line x1="603.4" y1="361" x2="603.4" y2="367.1" stroke="#777" stroke-width="0.6"/>
<line x1="614.3" y1="339.2" x2="614.3" y2="367.1" stroke="#777" stroke-width="0.6"/>
<line x1="621.7" y1="339.2" x2="621.7" y2="367.1" stroke="#777" stroke-width="0.6"/>
<line x1="639.4" y1="339.2" x2="639.4" y2="367.1" stroke="#777" stroke-width="0.6"/>
<line x1="651.4" y1="339.2" x2="651.4" y2="361" stroke="#777" stroke-width="0.6"/>
<line x1="647.1" y1="361" x2="656.2" y2="361" stroke="#777" stroke-width="0.6"/>
<line x1="647.1" y1="361" x2="647.1" y2="367.1" stroke="#777" stroke-width="0.6"/>
<line x1="656.2" y1="361" x2="656.2" y2="367.1" stroke="#777" stroke-width="0.6"/>
<line x1="669.6" y1="339.2" x2="669.6" y2="361" stroke="#777" stroke-width="0.6"/>
<line x1="664.6" y1="361" x2="674.1" y2="361" stroke="#777" stroke-width="0.6"/>
<line x1="664.6" y1="361" x2="664.6" y2="367.1" stroke="#777" stroke-width="0.6"/>
<line x1="674.1" y1="361" x2="674.1" y2="367.1" stroke="#777" stroke-width="0.6"/>
<line x1="700.5" y1="339.2" x2="700.5" y2="361" stroke="#777" stroke-width="0.6"/>
<line x1="687.8" y1="361" x2="703" y2="361" stroke="#777" stroke-width="0.6"/>
<line x1="687.8" y1="361" x2="687.8" y2="367.1" stroke="#777" stroke-width="0.6"/>
<line x1="695.5" y1="361" x2="695.5" y2="367.1" stroke="#777" stroke-width="0.6"/>
<line x1="703" y1="361" x2="703" y2="367.1" stroke="#777" stroke-width="0.6"/>
<line x1="714.5" y1="339.2" x2="714.5" y2="361" stroke="#777" stroke-width="0.6"/>
<line x1="710.7" y1="361" x2="719.8" y2="361" stroke="#777" stroke-width="0.6"/>
<line x1="710.7" y1="361" x2="710.7" y2="367.1" stroke="#777" stroke-width="0.6"/>
<line x1="719.8" y1="361" x2="719.8" y2="367.1" stroke="#777" stroke-width="0.6"/>
<line x1="744.6" y1="339.2" x2="744.6" y2="361" stroke="#777" stroke-width="0.6"/>
<line x1="730.2" y1="361" x2="747.9" y2="361" stroke="#777" stroke-width="0.6"/>
<line x1="730.2" y1="361" x2="730.2" y2="367.1" stroke="#777" stroke-width="0.6"/>
<line x1="738.8" y1="361" x2="738.8" y2="367.1" stroke="#777" stroke-width="0.6"/>
<line x1="747.9" y1="361" x2="747.9" y2="367.1" stroke="#777" stroke-width="0.6"/>
<line x1="762.2" y1="339.2" x2="762.2" y2="361" stroke="#777" stroke-width="0.6"/>
<line x1="757.3" y1="361" x2="775.1" y2="361" stroke="#777" stroke-width="0.6"/>
<line x1="757.3" y1="361" x2="757.3" y2="367.1" stroke="#777" stroke-width="0.6"/>
<line x1="766" y1="361" x2="766" y2="367.1" stroke="#777" stroke-width="0.6"/>
<line x1="775.1" y1="361" x2="775.1" y2="367.1" stroke="#777" stroke-width="0.6"/>
<line x1="789.2" y1="339.2" x2="789.2" y2="361" stroke="#777" stroke-width="0.6"/>
<line x1="785" y1="361" x2="794.1" y2="361" stroke="#777" stroke-width="0.6"/>
<line x1="785" y1="361" x2="785" y2="367.1" stroke="#777" stroke-width="0.6"/>
<line x1="794.1" y1="361" x2="794.1" y2="367.1" stroke="#777" stroke-width="0.6"/>
<line x1="808.1" y1="339.2" x2="808.1" y2="361" stroke="#777" stroke-width="0.6"/>
<line x1="804" y1="361" x2="813.1" y2="361" stroke="#777" stroke-width="0.6"/>
<line x1="804" y1="361" x2="804" y2="367.1" stroke="#777" stroke-width="0.6"/>
<line x1="813.1" y1="361" x2="813.1" y2="367.1" stroke="#777" stroke-width="0.6"/>
<line x1="826.8" y1="339.2" x2="826.8" y2="361" stroke="#777" stroke-width="0.6"/>
<line x1="823" y1="361" x2="832.1" y2="361" stroke="#777" stroke-width="0.6"/>
<line x1="823" y1="361" x2="823" y2="367.1" stroke="#777" stroke-width="0.6"/>
<line x1="832.1" y1="361" x2="832.1" y2="367.1" stroke="#777" stroke-width="0.6"/>
<rect x="614.45" y="314.65" width="6.3" height="6.3" fill="#169a44" stroke="#0e7a34" stroke-width="0.55"/>
<rect x="642.05" y="314.65" width="6.3" height="6.3" fill="#169a44" stroke="#0e7a34" stroke-width="0.55"/>
<ellipse cx="712.4" cy="317.8" rx="3.15" ry="3.15" fill="#169a44" stroke="#0e7a34" stroke-width="0.55"/>
<rect x="774.15" y="314.65" width="6.3" height="6.3" fill="#169a44" stroke="#0e7a34" stroke-width="0.55"/>
<ellipse cx="599.4" cy="339.2" rx="3.15" ry="3.15" fill="#169a44" stroke="#0e7a34" stroke-width="0.55"/>
<ellipse cx="606.9" cy="339.2" rx="3.15" ry="3.15" fill="#169a44" stroke="#0e7a34" stroke-width="0.55"/>
<rect x="611.15" y="336.05" width="6.3" height="6.3" fill="#fff" stroke="#6a6a6a" stroke-width="0.55"/>
<rect x="618.55" y="336.05" width="6.3" height="6.3" fill="#fff" stroke="#6a6a6a" stroke-width="0.55"/>
<ellipse cx="629.2" cy="339.2" rx="3.15" ry="3.15" fill="#169a44" stroke="#0e7a34" stroke-width="0.55"/>
<rect x="636.25" y="336.05" width="6.3" height="6.3" fill="#fff" stroke="#6a6a6a" stroke-width="0.55"/>
<ellipse cx="651.4" cy="339.2" rx="3.15" ry="3.15" fill="#169a44" stroke="#0e7a34" stroke-width="0.55"/>
<rect x="666.45" y="336.05" width="6.3" height="6.3" fill="#169a44" stroke="#0e7a34" stroke-width="0.55"/>
<rect x="679.65" y="336.05" width="6.3" height="6.3" fill="#fff" stroke="#6a6a6a" stroke-width="0.55"/>
<ellipse cx="692.6" cy="339.2" rx="3.15" ry="3.15" fill="#fff" stroke="#6a6a6a" stroke-width="0.55"/>
<ellipse cx="700.5" cy="339.2" rx="3.15" ry="3.15" fill="#fff" stroke="#6a6a6a" stroke-width="0.55"/>
<rect x="711.35" y="336.05" width="6.3" height="6.3" fill="#169a44" stroke="#0e7a34" stroke-width="0.55"/>
<ellipse cx="722.8" cy="339.2" rx="3.15" ry="3.15" fill="#169a44" stroke="#0e7a34" stroke-width="0.55"/>
<ellipse cx="731.4" cy="339.2" rx="3.15" ry="3.15" fill="#fff" stroke="#6a6a6a" stroke-width="0.55"/>
<rect x="741.45" y="336.05" width="6.3" height="6.3" fill="#fff" stroke="#6a6a6a" stroke-width="0.55"/>
<rect x="759.05" y="336.05" width="6.3" height="6.3" fill="#fff" stroke="#6a6a6a" stroke-width="0.55"/>
<ellipse cx="789.2" cy="339.2" rx="3.15" ry="3.15" fill="#169a44" stroke="#0e7a34" stroke-width="0.55"/>
<rect x="804.95" y="336.05" width="6.3" height="6.3" fill="#fff" stroke="#6a6a6a" stroke-width="0.55"/>
<ellipse cx="826.8" cy="339.2" rx="3.15" ry="3.15" fill="#169a44" stroke="#0e7a34" stroke-width="0.55"/>
<rect x="592.95" y="363.95" width="6.3" height="6.3" fill="#169a44" stroke="#0e7a34" stroke-width="0.55"/>
<ellipse cx="603.4" cy="367.1" rx="3.15" ry="3.15" fill="#fff" stroke="#6a6a6a" stroke-width="0.55"/>
<ellipse cx="614.3" cy="367.1" rx="3.15" ry="3.15" fill="#fff" stroke="#6a6a6a" stroke-width="0.55"/>
<rect x="618.55" y="363.95" width="6.3" height="6.3" fill="#fff" stroke="#6a6a6a" stroke-width="0.55"/>
<rect x="636.25" y="363.95" width="6.3" height="6.3" fill="#fff" stroke="#6a6a6a" stroke-width="0.55"/>
<rect x="643.95" y="363.95" width="6.3" height="6.3" fill="#fff" stroke="#6a6a6a" stroke-width="0.55"/>
<ellipse cx="656.2" cy="367.1" rx="3.15" ry="3.15" fill="#169a44" stroke="#0e7a34" stroke-width="0.55"/>
<ellipse cx="664.6" cy="367.1" rx="3.15" ry="3.15" fill="#169a44" stroke="#0e7a34" stroke-width="0.55"/>
<rect x="670.95" y="363.95" width="6.3" height="6.3" fill="#fff" stroke="#6a6a6a" stroke-width="0.55"/>
<rect x="684.65" y="363.95" width="6.3" height="6.3" fill="#fff" stroke="#6a6a6a" stroke-width="0.55"/>
<ellipse cx="695.5" cy="367.1" rx="3.15" ry="3.15" fill="#fff" stroke="#6a6a6a" stroke-width="0.55"/>
<ellipse cx="703" cy="367.1" rx="3.15" ry="3.15" fill="#fff" stroke="#6a6a6a" stroke-width="0.55"/>
<rect x="707.55" y="363.95" width="6.3" height="6.3" fill="#fff" stroke="#6a6a6a" stroke-width="0.55"/>
<ellipse cx="719.8" cy="367.1" rx="3.15" ry="3.15" fill="#169a44" stroke="#0e7a34" stroke-width="0.55"/>
<rect x="727.05" y="363.95" width="6.3" height="6.3" fill="#fff" stroke="#6a6a6a" stroke-width="0.55"/>
<ellipse cx="738.8" cy="367.1" rx="3.15" ry="3.15" fill="#fff" stroke="#6a6a6a" stroke-width="0.55"/>
<ellipse cx="747.9" cy="367.1" rx="3.15" ry="3.15" fill="#fff" stroke="#6a6a6a" stroke-width="0.55"/>
<ellipse cx="757.3" cy="367.1" rx="3.15" ry="3.15" fill="#fff" stroke="#6a6a6a" stroke-width="0.55"/>
<rect x="762.85" y="363.95" width="6.3" height="6.3" fill="#fff" stroke="#6a6a6a" stroke-width="0.55"/>
<ellipse cx="775.1" cy="367.1" rx="3.15" ry="3.15" fill="#fff" stroke="#6a6a6a" stroke-width="0.55"/>
<ellipse cx="785" cy="367.1" rx="3.15" ry="3.15" fill="#fff" stroke="#6a6a6a" stroke-width="0.55"/>
<rect x="790.95" y="363.95" width="6.3" height="6.3" fill="#169a44" stroke="#0e7a34" stroke-width="0.55"/>
<ellipse cx="804" cy="367.1" rx="3.15" ry="3.15" fill="#fff" stroke="#6a6a6a" stroke-width="0.55"/>
<rect x="809.95" y="363.95" width="6.3" height="6.3" fill="#fff" stroke="#6a6a6a" stroke-width="0.55"/>
<rect x="819.85" y="363.95" width="6.3" height="6.3" fill="#fff" stroke="#6a6a6a" stroke-width="0.55"/>
<ellipse cx="832.1" cy="367.1" rx="3.15" ry="3.15" fill="#fff" stroke="#6a6a6a" stroke-width="0.55"/>
<text x="582" y="320.6" font-size="7.4" fill="#333" text-anchor="middle">I</text>
<text x="583.3" y="341.8" font-size="7.4" fill="#333" text-anchor="middle">II</text>
<text x="584.6" y="369.7" font-size="7.4" fill="#333" text-anchor="middle">III</text>
<line x1="45.4" y1="508.4" x2="51.2" y2="508.4" stroke="#6a6a6a" stroke-width="0.7"/>
<line x1="51.2" y1="508.4" x2="51.2" y2="514.2" stroke="#6a6a6a" stroke-width="0.7"/>
<ellipse cx="79.8" cy="511.3" rx="3" ry="3" fill="#fff" stroke="#6a6a6a" stroke-width="0.55" stroke-dasharray="1.2 1.1"/>
<ellipse cx="79.8" cy="511.3" rx="1" ry="1" fill="#d9660e"/>
<rect x="94.3" y="508.4" width="5.8" height="5.8" fill="#d9660e" stroke="#a04a08" stroke-width="0.4"/>
<line x1="135.7" y1="511.3" x2="135.7" y2="523" stroke="#5a5a5a" stroke-width="0.7"/>
<ellipse cx="145.8" cy="511.3" rx="3" ry="3" fill="#fff" stroke="#6a6a6a" stroke-width="0.55" stroke-dasharray="1.2 1.1"/>
<line x1="168" y1="500" x2="168" y2="508.2" stroke="#5a5a5a" stroke-width="0.7"/>
<rect x="165.1" y="508.4" width="5.8" height="5.8" fill="#d9660e" stroke="#a04a08" stroke-width="0.4"/>
<line x1="177.9" y1="511.3" x2="177.9" y2="523" stroke="#4a4a4a" stroke-width="0.7"/>
<ellipse cx="198.5" cy="511.3" rx="3" ry="3" fill="#fff" stroke="#6a6a6a" stroke-width="0.55" stroke-dasharray="1.2 1.1"/>
<line x1="213" y1="508.4" x2="218.8" y2="508.4" stroke="#6a6a6a" stroke-width="0.7"/>
<line x1="213" y1="508.4" x2="213" y2="514.2" stroke="#6a6a6a" stroke-width="0.7"/>
<line x1="224.4" y1="511.3" x2="224.4" y2="523" stroke="#4a4a4a" stroke-width="0.7"/>
<line x1="240.3" y1="511.3" x2="240.3" y2="536.3" stroke="#555" stroke-width="0.7"/>
<ellipse cx="247.2" cy="511.3" rx="3" ry="3" fill="#fff" stroke="#6a6a6a" stroke-width="0.55" stroke-dasharray="1.2 1.1"/>
<ellipse cx="247.2" cy="511.3" rx="1" ry="1" fill="#d9660e"/>
<rect x="54.7" y="523.1" width="5.8" height="5.8" fill="#d9660e" stroke="#a04a08" stroke-width="0.4"/>
<line x1="104.2" y1="528.9" x2="110" y2="528.9" stroke="#6a6a6a" stroke-width="0.7"/>
<line x1="110" y1="523.1" x2="110" y2="528.9" stroke="#6a6a6a" stroke-width="0.7"/>
<line x1="122.3" y1="528.9" x2="128.1" y2="528.9" stroke="#6a6a6a" stroke-width="0.7"/>
<line x1="128.1" y1="523.1" x2="128.1" y2="528.9" stroke="#6a6a6a" stroke-width="0.7"/>
<line x1="133.1" y1="528.9" x2="138.9" y2="528.9" stroke="#6a6a6a" stroke-width="0.7"/>
<line x1="138.9" y1="523.1" x2="138.9" y2="528.9" stroke="#6a6a6a" stroke-width="0.7"/>
<line x1="174.6" y1="528.9" x2="180.4" y2="528.9" stroke="#6a6a6a" stroke-width="0.7"/>
<line x1="174.6" y1="523.1" x2="174.6" y2="528.9" stroke="#6a6a6a" stroke-width="0.7"/>
<line x1="185.6" y1="528.9" x2="191.4" y2="528.9" stroke="#6a6a6a" stroke-width="0.7"/>
<line x1="185.6" y1="523.1" x2="185.6" y2="528.9" stroke="#6a6a6a" stroke-width="0.7"/>
<line x1="220.8" y1="528.9" x2="226.6" y2="528.9" stroke="#6a6a6a" stroke-width="0.7"/>
<line x1="220.8" y1="523.1" x2="220.8" y2="528.9" stroke="#6a6a6a" stroke-width="0.7"/>
<ellipse cx="232.7" cy="526" rx="3" ry="3" fill="#fff" stroke="#6a6a6a" stroke-width="0.55" stroke-dasharray="1.2 1.1"/>
<line x1="32.4" y1="535.4" x2="38.2" y2="535.4" stroke="#666" stroke-width="0.7"/>
<line x1="32.4" y1="535.4" x2="32.4" y2="541.2" stroke="#666" stroke-width="0.7"/>
<line x1="38.2" y1="535.4" x2="38.2" y2="541.2" stroke="#666" stroke-width="0.7"/>
<line x1="45.6" y1="538.3" x2="45.6" y2="563.5" stroke="#444" stroke-width="0.9"/>
<line x1="56" y1="538.3" x2="56" y2="550.3" stroke="#a0a0a0" stroke-width="0.7"/>
<ellipse cx="55.5" cy="553.3" rx="3" ry="3" fill="#fff" stroke="#6a6a6a" stroke-width="0.55" stroke-dasharray="1.2 1.1"/>
<ellipse cx="68.4" cy="538.3" rx="3" ry="3" fill="#fff" stroke="#6a6a6a" stroke-width="0.55" stroke-dasharray="1.2 1.1"/>
<ellipse cx="68.4" cy="538.3" rx="1" ry="1" fill="#d9660e"/>
<line x1="81.9" y1="535.4" x2="87.7" y2="535.4" stroke="#6a6a6a" stroke-width="0.7"/>
<line x1="81.9" y1="535.4" x2="81.9" y2="541.2" stroke="#6a6a6a" stroke-width="0.7"/>
<line x1="94.3" y1="538.3" x2="94.3" y2="551" stroke="#a0a0a0" stroke-width="0.7"/>
<ellipse cx="116.1" cy="538.3" rx="3" ry="3" fill="#fff" stroke="#6a6a6a" stroke-width="0.55" stroke-dasharray="1.2 1.1"/>
<ellipse cx="116.1" cy="538.3" rx="1" ry="1" fill="#d9660e"/>
<line x1="207.9" y1="541.2" x2="213.7" y2="541.2" stroke="#6a6a6a" stroke-width="0.7"/>
<line x1="213.7" y1="535.4" x2="213.7" y2="541.2" stroke="#6a6a6a" stroke-width="0.7"/>
<line x1="213.7" y1="537.9" x2="239" y2="537.9" stroke="#a0a0a0" stroke-width="0.8"/>
<ellipse cx="240.9" cy="538.3" rx="3" ry="3" fill="#fff" stroke="#6a6a6a" stroke-width="0.55" stroke-dasharray="1.2 1.1"/>
<ellipse cx="240.9" cy="538.3" rx="1" ry="1" fill="#d9660e"/>
<line x1="91" y1="550.4" x2="96.8" y2="550.4" stroke="#8a8a8a" stroke-width="0.7"/>
<line x1="91" y1="550.4" x2="91" y2="556.2" stroke="#8a8a8a" stroke-width="0.7"/>
<ellipse cx="102" cy="553.3" rx="3" ry="3" fill="#fff" stroke="#6a6a6a" stroke-width="0.55" stroke-dasharray="1.2 1.1"/>
<line x1="189.7" y1="550.4" x2="195.5" y2="550.4" stroke="#8a8a8a" stroke-width="0.7"/>
<line x1="189.7" y1="556.2" x2="195.5" y2="556.2" stroke="#8a8a8a" stroke-width="0.7"/>
<line x1="195.5" y1="550.4" x2="195.5" y2="556.2" stroke="#8a8a8a" stroke-width="0.7"/>
<line x1="195.5" y1="553.1" x2="214.2" y2="553.1" stroke="#777" stroke-width="0.7"/>
<ellipse cx="216.7" cy="553.3" rx="3" ry="3" fill="#fff" stroke="#6a6a6a" stroke-width="0.55" stroke-dasharray="1.2 1.1"/>
<ellipse cx="216.7" cy="553.3" rx="1" ry="1" fill="#d9660e"/>
<line x1="221.6" y1="556.2" x2="227.4" y2="556.2" stroke="#6a6a6a" stroke-width="0.7"/>
<line x1="227.4" y1="550.4" x2="227.4" y2="556.2" stroke="#6a6a6a" stroke-width="0.7"/>
<ellipse cx="232.7" cy="553.3" rx="3" ry="3" fill="#fff" stroke="#6a6a6a" stroke-width="0.55" stroke-dasharray="1.2 1.1"/>
<line x1="200.5" y1="553.1" x2="200.5" y2="565.2" stroke="#444" stroke-width="0.9"/>
<rect x="42.6" y="563.1" width="5.8" height="5.8" fill="#d9660e" stroke="#a04a08" stroke-width="0.4"/>
<line x1="48.4" y1="566" x2="77" y2="566" stroke="#444" stroke-width="0.9"/>
<ellipse cx="80.3" cy="566" rx="3.2" ry="3.2" fill="#fff" stroke="#888" stroke-width="0.6"/>
<line x1="67" y1="566" x2="67" y2="581" stroke="#444" stroke-width="0.9"/>
<line x1="87.1" y1="562.7" x2="92.9" y2="562.7" stroke="#6a6a6a" stroke-width="0.7"/>
<line x1="87.1" y1="562.7" x2="87.1" y2="568.5" stroke="#6a6a6a" stroke-width="0.7"/>
<line x1="92.6" y1="566" x2="105.9" y2="566" stroke="#909090" stroke-width="0.8"/>
<ellipse cx="109.2" cy="566" rx="3" ry="3" fill="#fff" stroke="#6a6a6a" stroke-width="0.55" stroke-dasharray="1.2 1.1"/>
<ellipse cx="109.2" cy="566" rx="1" ry="1" fill="#d9660e"/>
<line x1="96.3" y1="566" x2="96.3" y2="578.4" stroke="#444" stroke-width="0.9"/>
<line x1="103.4" y1="566" x2="103.4" y2="578.4" stroke="#777" stroke-width="0.7"/>
<rect x="197.3" y="565.2" width="5.8" height="5.8" fill="#d9660e" stroke="#a04a08" stroke-width="0.4"/>
<ellipse cx="208.9" cy="568" rx="3" ry="3" fill="#fff" stroke="#6a6a6a" stroke-width="0.55" stroke-dasharray="1.2 1.1"/>
<ellipse cx="51.4" cy="580.9" rx="3" ry="3" fill="#fff" stroke="#6a6a6a" stroke-width="0.55" stroke-dasharray="1.2 1.1"/>
<ellipse cx="51.4" cy="580.9" rx="1" ry="1" fill="#d9660e"/>
<line x1="56.7" y1="578" x2="62.1" y2="578" stroke="#888" stroke-width="0.6"/>
<line x1="62.4" y1="578" x2="62.4" y2="583.5" stroke="#5a5a5a" stroke-width="0.7"/>
<line x1="63.8" y1="578" x2="63.8" y2="583.5" stroke="#aaa" stroke-width="0.6"/>
<ellipse cx="67" cy="580.9" rx="3" ry="3" fill="#fff" stroke="#6a6a6a" stroke-width="0.55" stroke-dasharray="1.2 1.1"/>
<ellipse cx="67" cy="580.9" rx="1" ry="1" fill="#d9660e"/>
<line x1="67" y1="578" x2="67" y2="583.5" stroke="#555" stroke-width="0.7"/>
<ellipse cx="74.5" cy="580.9" rx="3" ry="3" fill="#fff" stroke="#6a6a6a" stroke-width="0.55" stroke-dasharray="1.2 1.1"/>
<ellipse cx="74.5" cy="580.9" rx="1" ry="1" fill="#d9660e"/>
<rect x="93.8" y="578" width="5.8" height="5.8" fill="#d9660e" stroke="#a04a08" stroke-width="0.4"/>
<ellipse cx="103.9" cy="581.2" rx="3" ry="3" fill="#fff" stroke="#6a6a6a" stroke-width="0.55" stroke-dasharray="1.2 1.1"/>
<defs>
<pattern id="ib0" width="23" height="23" patternUnits="userSpaceOnUse">
<rect x="0" y="0" width="23" height="23" fill="#dfdcae"/>
<circle cx="3.35" cy="10.46" r="1.2" fill="#a3a150"/>
<circle cx="16.23" cy="16.84" r="1.6" fill="#8c8a3e"/>
<circle cx="11.66" cy="2.53" r="1" fill="#8c8a3e"/>
<circle cx="7.71" cy="7.12" r="1.2" fill="#d9d79a"/>
<circle cx="-0.9" cy="3.24" r="1.4" fill="#8a8840"/>
<circle cx="22.1" cy="3.24" r="1.4" fill="#8a8840"/>
<circle cx="9.27" cy="10.61" r="1.4" fill="#cfcd86"/>
<circle cx="20.73" cy="18.81" r="1.2" fill="#8c8a3e"/>
<circle cx="19.7" cy="14.68" r="1.2" fill="#7f7d34"/>
<circle cx="0.13" cy="9.1" r="1.2" fill="#c4c278"/>
<circle cx="23.13" cy="9.1" r="1.2" fill="#c4c278"/>
<circle cx="4.43" cy="19.35" r="1.2" fill="#a3a150"/>
<circle cx="2.91" cy="12.74" r="1" fill="#a3a150"/>
<circle cx="15.86" cy="7.79" r="1.4" fill="#c4c278"/>
<circle cx="12.48" cy="-1.3" r="1.6" fill="#d9d79a"/>
<circle cx="12.48" cy="21.7" r="1.6" fill="#d9d79a"/>
<circle cx="9.24" cy="1.42" r="1" fill="#7f7d34"/>
<circle cx="17.64" cy="11.81" r="1.6" fill="#a3a150"/>
<circle cx="20.74" cy="5.85" r="1" fill="#a3a150"/>
<circle cx="15.55" cy="19.81" r="1.2" fill="#8c8a3e"/>
<circle cx="1.26" cy="6.33" r="1" fill="#a3a150"/>
<circle cx="10.94" cy="18.91" r="1" fill="#cfcd86"/>
<circle cx="16.67" cy="2.39" r="1.2" fill="#76803a"/>
<circle cx="-0.1" cy="21.48" r="1.2" fill="#cfcd86"/>
<circle cx="22.9" cy="21.48" r="1.2" fill="#cfcd86"/>
<circle cx="2.17" cy="3.22" r="1" fill="#c4c278"/>
<circle cx="19.36" cy="2.18" r="1.2" fill="#cfcd86"/>
<circle cx="0.07" cy="18.32" r="1" fill="#cfcd86"/>
<circle cx="23.07" cy="18.32" r="1" fill="#cfcd86"/>
<circle cx="5.34" cy="0.22" r="1" fill="#8a8840"/>
<circle cx="5.34" cy="23.22" r="1" fill="#8a8840"/>
<circle cx="5.05" cy="14.81" r="1" fill="#d9d79a"/>
<circle cx="7.45" cy="20.49" r="1" fill="#8a8840"/>
<circle cx="0.53" cy="14.21" r="1.4" fill="#c4c278"/>
<circle cx="23.53" cy="14.21" r="1.4" fill="#c4c278"/>
<circle cx="20.49" cy="0.07" r="1" fill="#76803a"/>
<circle cx="20.49" cy="23.07" r="1" fill="#76803a"/>
<circle cx="8.75" cy="16.75" r="1.2" fill="#cfcd86"/>
<circle cx="4.89" cy="3.7" r="1.4" fill="#d9d79a"/>
<circle cx="13.32" cy="5.13" r="1.6" fill="#8c8a3e"/>
<circle cx="11.65" cy="12.6" r="1.2" fill="#7f7d34"/>
<circle cx="21.51" cy="16.4" r="1" fill="#8a8840"/>
<circle cx="5.54" cy="11.95" r="1" fill="#7f7d34"/>
<circle cx="0.9" cy="11.47" r="1" fill="#d9d79a"/>
<circle cx="23.9" cy="11.47" r="1" fill="#d9d79a"/>
<circle cx="12.28" cy="8.37" r="1.2" fill="#7f7d34"/>
<circle cx="10.95" cy="15.86" r="1" fill="#cfcd86"/>
<circle cx="21.68" cy="12.31" r="1" fill="#7f7d34"/>
<circle cx="14.63" cy="12.16" r="1.2" fill="#c4c278"/>
<circle cx="18.27" cy="20.77" r="1.4" fill="#d9d79a"/>
<circle cx="13.58" cy="15.54" r="1.2" fill="#d9d79a"/>
<circle cx="16.33" cy="-0.12" r="1.2" fill="#d9d79a"/>
<circle cx="16.33" cy="22.88" r="1.2" fill="#d9d79a"/>
<circle cx="7.15" cy="1.64" r="1" fill="#76803a"/>
<circle cx="2.17" cy="0.39" r="1" fill="#a3a150"/>
<circle cx="2.17" cy="23.39" r="1" fill="#a3a150"/>
<circle cx="17.37" cy="5.4" r="1" fill="#cfcd86"/>
<circle cx="5.97" cy="17.21" r="1" fill="#a3a150"/>
<circle cx="4.59" cy="7.06" r="1" fill="#c4c278"/>
<circle cx="9.48" cy="5.05" r="1.4" fill="#8a8840"/>
<circle cx="7.53" cy="13.28" r="1.2" fill="#cfcd86"/>
<circle cx="19.54" cy="9.09" r="1" fill="#76803a"/>
<circle cx="2.05" cy="20.26" r="1" fill="#cfcd86"/>
<circle cx="2.79" cy="17.05" r="1.2" fill="#8a8840"/>
<circle cx="13.23" cy="18.05" r="1" fill="#7f7d34"/>
<circle cx="2.37" cy="8.27" r="1" fill="#d9d79a"/>
<circle cx="13.71" cy="1.19" r="1" fill="#76803a"/>
<circle cx="9.37" cy="-0.78" r="1" fill="#c4c278"/>
<circle cx="9.37" cy="22.22" r="1" fill="#c4c278"/>
<circle cx="6.52" cy="9.23" r="1" fill="#c4c278"/>
<circle cx="18.93" cy="17" r="1" fill="#76803a"/>
<circle cx="14.35" cy="9.79" r="1" fill="#a3a150"/>
<circle cx="9.97" cy="8.12" r="1" fill="#d9d79a"/>
<circle cx="-0.33" cy="0.79" r="1" fill="#8a8840"/>
<circle cx="-0.33" cy="23.79" r="1" fill="#8a8840"/>
<circle cx="22.67" cy="0.79" r="1" fill="#8a8840"/>
<circle cx="22.67" cy="23.79" r="1" fill="#8a8840"/>
<circle cx="3.86" cy="21.6" r="1" fill="#8a8840"/>
</pattern>
<pattern id="in0" width="17" height="17" patternUnits="userSpaceOnUse">
<rect x="0" y="0" width="17" height="17" fill="#f0ccb4"/>
<circle cx="0.78" cy="3.46" r="1.3" fill="#eea080"/>
<circle cx="17.78" cy="3.46" r="1.3" fill="#eea080"/>
<circle cx="0.52" cy="10.5" r="1.1" fill="#c8606a"/>
<circle cx="17.52" cy="10.5" r="1.1" fill="#c8606a"/>
<circle cx="2.84" cy="0.28" r="1.1" fill="#f0b090"/>
<circle cx="2.84" cy="17.28" r="1.1" fill="#f0b090"/>
<circle cx="7.47" cy="3.94" r="1.3" fill="#c8606a"/>
<circle cx="14.5" cy="5.1" r="1.3" fill="#c8606a"/>
<circle cx="6.58" cy="11.04" r="1.1" fill="#c8606a"/>
<circle cx="13.94" cy="1.89" r="0.9" fill="#c8606a"/>
<circle cx="9.3" cy="11.04" r="1.1" fill="#e8956a"/>
<circle cx="-0.24" cy="7.93" r="1.3" fill="#eea080"/>
<circle cx="16.76" cy="7.93" r="1.3" fill="#eea080"/>
<circle cx="4.93" cy="14.98" r="0.9" fill="#eea080"/>
<circle cx="3.36" cy="5.39" r="1.1" fill="#d06a70"/>
<circle cx="9.44" cy="6.14" r="1.1" fill="#c8606a"/>
<circle cx="4.14" cy="8.88" r="1.3" fill="#c8606a"/>
<circle cx="15.36" cy="14.73" r="1.3" fill="#d06a70"/>
<circle cx="10.59" cy="0.84" r="0.9" fill="#f0b090"/>
<circle cx="10.59" cy="17.84" r="0.9" fill="#f0b090"/>
<circle cx="13.44" cy="7.6" r="1.3" fill="#e8956a"/>
<circle cx="7.73" cy="0.5" r="1.1" fill="#e8956a"/>
<circle cx="7.73" cy="17.5" r="1.1" fill="#e8956a"/>
<circle cx="11.78" cy="3.26" r="1.3" fill="#c8606a"/>
<circle cx="12.52" cy="12.54" r="1.1" fill="#d06a70"/>
<circle cx="0.3" cy="0.72" r="1.3" fill="#eea080"/>
<circle cx="0.3" cy="17.72" r="1.3" fill="#eea080"/>
<circle cx="17.3" cy="0.72" r="1.3" fill="#eea080"/>
<circle cx="17.3" cy="17.72" r="1.3" fill="#eea080"/>
<circle cx="8.25" cy="8.13" r="0.9" fill="#e8956a"/>
<circle cx="7.86" cy="14.72" r="1.1" fill="#c8606a"/>
<circle cx="2.77" cy="13.03" r="1.3" fill="#f0b090"/>
<circle cx="12.12" cy="15.7" r="1.3" fill="#f0b090"/>
<circle cx="4.86" cy="2.59" r="0.9" fill="#d06a70"/>
<circle cx="15.68" cy="11.89" r="0.9" fill="#e8956a"/>
<circle cx="14.8" cy="9.93" r="1.1" fill="#eea080"/>
<circle cx="10.16" cy="13.65" r="1.1" fill="#eea080"/>
<circle cx="14.64" cy="-0.02" r="0.9" fill="#e8956a"/>
<circle cx="14.64" cy="16.98" r="0.9" fill="#e8956a"/>
<circle cx="11.48" cy="9.71" r="1.1" fill="#eea080"/>
<circle cx="5.57" cy="13.13" r="0.9" fill="#d06a70"/>
<circle cx="11.86" cy="5.73" r="0.9" fill="#eea080"/>
<circle cx="2.26" cy="7.35" r="0.9" fill="#e8956a"/>
<circle cx="0.72" cy="15.09" r="0.9" fill="#c8606a"/>
<circle cx="17.72" cy="15.09" r="0.9" fill="#c8606a"/>
<circle cx="6.29" cy="7.78" r="0.9" fill="#e8956a"/>
<circle cx="9.33" cy="2.29" r="0.9" fill="#e8956a"/>
<circle cx="9.61" cy="-0.83" r="0.9" fill="#c8606a"/>
<circle cx="9.61" cy="16.17" r="0.9" fill="#c8606a"/>
<circle cx="5.28" cy="0.6" r="0.9" fill="#e8956a"/>
<circle cx="5.28" cy="17.6" r="0.9" fill="#e8956a"/>
<circle cx="5.5" cy="5.56" r="0.9" fill="#c8606a"/>
<circle cx="0.26" cy="13.18" r="0.9" fill="#c8606a"/>
<circle cx="17.26" cy="13.18" r="0.9" fill="#c8606a"/>
<circle cx="2.95" cy="2.6" r="0.9" fill="#f0b090"/>
<circle cx="2.64" cy="10.7" r="0.9" fill="#d06a70"/>
<circle cx="0.52" cy="5.75" r="0.9" fill="#c8606a"/>
<circle cx="17.52" cy="5.75" r="0.9" fill="#c8606a"/>
</pattern>
<pattern id="ib1" width="23" height="23" patternUnits="userSpaceOnUse">
<rect x="0" y="0" width="23" height="23" fill="#d2e4de"/>
<circle cx="13.37" cy="4.48" r="1.4" fill="#b4d2c8"/>
<circle cx="10.74" cy="15.26" r="1.2" fill="#b4d2c8"/>
<circle cx="13.85" cy="21.1" r="1.6" fill="#76a89a"/>
<circle cx="1.62" cy="4.45" r="1" fill="#a6cabe"/>
<circle cx="10.24" cy="12.36" r="1.2" fill="#a6cabe"/>
<circle cx="10.85" cy="7.5" r="1.6" fill="#a6cabe"/>
<circle cx="9.71" cy="1.45" r="1.6" fill="#84b4a6"/>
<circle cx="9.71" cy="24.45" r="1.6" fill="#84b4a6"/>
<circle cx="17.99" cy="5.27" r="1" fill="#9cc4b8"/>
<circle cx="0.22" cy="12.98" r="1.2" fill="#84b4a6"/>
<circle cx="23.22" cy="12.98" r="1.2" fill="#84b4a6"/>
<circle cx="-0.33" cy="9.93" r="1.4" fill="#9cc4b8"/>
<circle cx="22.67" cy="9.93" r="1.4" fill="#9cc4b8"/>
<circle cx="20.62" cy="13.09" r="1.2" fill="#9cc4b8"/>
<circle cx="19.97" cy="4.17" r="1" fill="#9cc4b8"/>
<circle cx="-1.07" cy="1.52" r="1.4" fill="#a6cabe"/>
<circle cx="21.93" cy="1.52" r="1.4" fill="#a6cabe"/>
<circle cx="-0.99" cy="20.34" r="1.4" fill="#84b4a6"/>
<circle cx="22.01" cy="20.34" r="1.4" fill="#84b4a6"/>
<circle cx="2.08" cy="21.56" r="1.4" fill="#84b4a6"/>
<circle cx="5.62" cy="6.45" r="1.2" fill="#76a89a"/>
<circle cx="15.09" cy="1.02" r="1.4" fill="#a6cabe"/>
<circle cx="15.09" cy="24.02" r="1.4" fill="#a6cabe"/>
<circle cx="14.68" cy="17.14" r="1" fill="#b4d2c8"/>
<circle cx="4.97" cy="15.29" r="1.2" fill="#9cc4b8"/>
<circle cx="2.93" cy="12.55" r="1.4" fill="#9cc4b8"/>
<circle cx="5.54" cy="10.01" r="1.6" fill="#84b4a6"/>
<circle cx="-0.59" cy="17.28" r="1.2" fill="#9cc4b8"/>
<circle cx="22.41" cy="17.28" r="1.2" fill="#9cc4b8"/>
<circle cx="17.71" cy="-1.05" r="1.6" fill="#76a89a"/>
<circle cx="17.71" cy="21.95" r="1.6" fill="#76a89a"/>
<circle cx="7.8" cy="16.79" r="1.2" fill="#9cc4b8"/>
<circle cx="14.82" cy="12.23" r="1.2" fill="#a6cabe"/>
<circle cx="16.87" cy="14.98" r="1.2" fill="#84b4a6"/>
<circle cx="7.66" cy="21.41" r="1.2" fill="#a6cabe"/>
<circle cx="-0.32" cy="6.84" r="1.2" fill="#b4d2c8"/>
<circle cx="22.68" cy="6.84" r="1.2" fill="#b4d2c8"/>
<circle cx="15.21" cy="8.54" r="1" fill="#a6cabe"/>
<circle cx="19.6" cy="8.84" r="1.4" fill="#76a89a"/>
<circle cx="2.33" cy="17.52" r="1" fill="#9cc4b8"/>
<circle cx="3.78" cy="1.76" r="1.2" fill="#84b4a6"/>
<circle cx="17.02" cy="17.55" r="1" fill="#84b4a6"/>
<circle cx="8.62" cy="19.2" r="1" fill="#9cc4b8"/>
<circle cx="7.34" cy="13.19" r="1.4" fill="#76a89a"/>
<circle cx="9.67" cy="10.08" r="1" fill="#b4d2c8"/>
<circle cx="8.69" cy="5.13" r="1.2" fill="#76a89a"/>
<circle cx="1.9" cy="7.88" r="1" fill="#b4d2c8"/>
<circle cx="12.59" cy="17.76" r="1" fill="#a6cabe"/>
<circle cx="12.51" cy="10.9" r="1.2" fill="#84b4a6"/>
<circle cx="5.1" cy="18" r="1" fill="#b4d2c8"/>
<circle cx="5.23" cy="-0.57" r="1" fill="#b4d2c8"/>
<circle cx="5.23" cy="22.43" r="1" fill="#b4d2c8"/>
<circle cx="10.67" cy="20.38" r="1" fill="#76a89a"/>
<circle cx="19.12" cy="19.14" r="1.4" fill="#b4d2c8"/>
<circle cx="17.29" cy="11.49" r="1.2" fill="#76a89a"/>
<circle cx="3.31" cy="6.03" r="1" fill="#84b4a6"/>
<circle cx="19.83" cy="15.26" r="1" fill="#9cc4b8"/>
<circle cx="6.79" cy="2.12" r="1" fill="#76a89a"/>
<circle cx="19.14" cy="1.58" r="1.2" fill="#9cc4b8"/>
<circle cx="1.4" cy="15.56" r="1" fill="#9cc4b8"/>
<circle cx="12.57" cy="13.55" r="1" fill="#a6cabe"/>
<circle cx="16.92" cy="2.98" r="1" fill="#a6cabe"/>
<circle cx="10.44" cy="17.92" r="1" fill="#a6cabe"/>
<circle cx="12.27" cy="0.35" r="1" fill="#76a89a"/>
<circle cx="12.27" cy="23.35" r="1" fill="#76a89a"/>
<circle cx="17.32" cy="7.28" r="1" fill="#76a89a"/>
<circle cx="4.61" cy="20.11" r="1" fill="#84b4a6"/>
<circle cx="14.45" cy="14.64" r="1" fill="#b4d2c8"/>
<circle cx="-0.63" cy="4.08" r="1" fill="#b4d2c8"/>
<circle cx="22.37" cy="4.08" r="1" fill="#b4d2c8"/>
<circle cx="7.85" cy="8.33" r="1" fill="#84b4a6"/>
<circle cx="2.82" cy="9.98" r="1" fill="#76a89a"/>
<circle cx="4.91" cy="3.85" r="1" fill="#76a89a"/>
<circle cx="16.35" cy="19.58" r="1" fill="#76a89a"/>
<circle cx="20.56" cy="-0.62" r="1" fill="#76a89a"/>
<circle cx="20.56" cy="22.38" r="1" fill="#76a89a"/>
<circle cx="15.61" cy="5.77" r="1" fill="#9cc4b8"/>
<circle cx="1.48" cy="1.32" r="1" fill="#b4d2c8"/>
</pattern>
<pattern id="in1" width="17" height="17" patternUnits="userSpaceOnUse">
<rect x="0" y="0" width="17" height="17" fill="#f8c09c"/>
<circle cx="1.14" cy="5.54" r="0.9" fill="#f07a3a"/>
<circle cx="13.26" cy="5.55" r="1.3" fill="#f4904e"/>
<circle cx="11.8" cy="7.99" r="1.1" fill="#f4904e"/>
<circle cx="7.67" cy="14.7" r="1.3" fill="#ee6e30"/>
<circle cx="15.7" cy="0.23" r="0.9" fill="#ee6e30"/>
<circle cx="15.7" cy="17.23" r="0.9" fill="#ee6e30"/>
<circle cx="4.07" cy="4.54" r="0.9" fill="#ee6e30"/>
<circle cx="0.52" cy="9.78" r="0.9" fill="#ee6e30"/>
<circle cx="17.52" cy="9.78" r="0.9" fill="#ee6e30"/>
<circle cx="12.93" cy="12.23" r="1.3" fill="#f07a3a"/>
<circle cx="15.18" cy="14.99" r="0.9" fill="#f4904e"/>
<circle cx="0.51" cy="7.49" r="0.9" fill="#ee6e30"/>
<circle cx="17.51" cy="7.49" r="0.9" fill="#ee6e30"/>
<circle cx="5.13" cy="0.59" r="0.9" fill="#f4904e"/>
<circle cx="5.13" cy="17.59" r="0.9" fill="#f4904e"/>
<circle cx="8.33" cy="10.08" r="1.3" fill="#f4904e"/>
<circle cx="3.04" cy="1.32" r="0.9" fill="#ee6e30"/>
<circle cx="0.64" cy="12.38" r="1.1" fill="#ee6e30"/>
<circle cx="17.64" cy="12.38" r="1.1" fill="#ee6e30"/>
<circle cx="7.7" cy="0.56" r="1.3" fill="#f07a3a"/>
<circle cx="7.7" cy="17.56" r="1.3" fill="#f07a3a"/>
<circle cx="15.38" cy="2.91" r="0.9" fill="#f07a3a"/>
<circle cx="2.75" cy="13.9" r="0.9" fill="#f07a3a"/>
<circle cx="3.49" cy="8.62" r="0.9" fill="#f07a3a"/>
<circle cx="6.85" cy="7.77" r="1.1" fill="#ee6e30"/>
<circle cx="6.6" cy="2.83" r="1.1" fill="#f07a3a"/>
<circle cx="9.58" cy="3.31" r="1.1" fill="#f4904e"/>
<circle cx="13.19" cy="0.26" r="1.1" fill="#ee6e30"/>
<circle cx="13.19" cy="17.26" r="1.1" fill="#ee6e30"/>
<circle cx="10.71" cy="14.57" r="1.3" fill="#f4904e"/>
<circle cx="9.26" cy="7.19" r="0.9" fill="#f07a3a"/>
<circle cx="4.27" cy="11.01" r="1.3" fill="#f07a3a"/>
<circle cx="15.17" cy="9.18" r="0.9" fill="#ee6e30"/>
<circle cx="5.77" cy="5.54" r="0.9" fill="#ee6e30"/>
<circle cx="2.09" cy="-0.81" r="1.1" fill="#f4904e"/>
<circle cx="2.09" cy="16.19" r="1.1" fill="#f4904e"/>
<circle cx="10.43" cy="-0.1" r="0.9" fill="#f07a3a"/>
<circle cx="10.43" cy="16.9" r="0.9" fill="#f07a3a"/>
<circle cx="0.96" cy="1.13" r="0.9" fill="#f4904e"/>
<circle cx="10.88" cy="10.78" r="0.9" fill="#f4904e"/>
<circle cx="6.4" cy="12" r="0.9" fill="#ee6e30"/>
<circle cx="4.75" cy="15.12" r="1.1" fill="#f4904e"/>
<circle cx="13.41" cy="2.95" r="0.9" fill="#f4904e"/>
<circle cx="3.47" cy="6.38" r="0.9" fill="#f4904e"/>
<circle cx="8.97" cy="12.39" r="0.9" fill="#f4904e"/>
<circle cx="0.59" cy="3.69" r="0.9" fill="#f4904e"/>
<circle cx="17.59" cy="3.69" r="0.9" fill="#f4904e"/>
<circle cx="15.7" cy="5.53" r="0.9" fill="#f4904e"/>
<circle cx="15.5" cy="11.65" r="0.9" fill="#f4904e"/>
<circle cx="13.08" cy="14.94" r="0.9" fill="#f07a3a"/>
<circle cx="7.77" cy="5.01" r="0.9" fill="#f4904e"/>
<circle cx="0.5" cy="14.61" r="0.9" fill="#f07a3a"/>
<circle cx="17.5" cy="14.61" r="0.9" fill="#f07a3a"/>
<circle cx="11.65" cy="1.73" r="0.9" fill="#f07a3a"/>
<circle cx="10.03" cy="5.41" r="0.9" fill="#ee6e30"/>
<circle cx="13.04" cy="9.7" r="0.9" fill="#f4904e"/>
<circle cx="11.63" cy="3.76" r="0.9" fill="#ee6e30"/>
<circle cx="4.47" cy="2.6" r="0.9" fill="#f4904e"/>
</pattern>
<pattern id="ib2" width="23" height="23" patternUnits="userSpaceOnUse">
<rect x="0" y="0" width="23" height="23" fill="#f7d8b4"/>
<circle cx="3.41" cy="14.17" r="1.2" fill="#f0b87a"/>
<circle cx="12.75" cy="15.2" r="1.2" fill="#d87848"/>
<circle cx="8.84" cy="14.2" r="1" fill="#e8a060"/>
<circle cx="16.66" cy="12.49" r="1.2" fill="#d87848"/>
<circle cx="16.91" cy="8.67" r="1.2" fill="#c86838"/>
<circle cx="11.73" cy="1.95" r="1" fill="#d87848"/>
<circle cx="20.66" cy="19.26" r="1.2" fill="#f0b87a"/>
<circle cx="11.29" cy="9.48" r="1.6" fill="#e89058"/>
<circle cx="15.42" cy="5.67" r="1" fill="#f0b87a"/>
<circle cx="19.33" cy="3.07" r="1.2" fill="#d87848"/>
<circle cx="8.36" cy="1.65" r="1.2" fill="#e89058"/>
<circle cx="18.98" cy="14.7" r="1.6" fill="#f4c890"/>
<circle cx="8.99" cy="17.09" r="1.2" fill="#d87848"/>
<circle cx="12.27" cy="-0.6" r="1" fill="#c86838"/>
<circle cx="12.27" cy="22.4" r="1" fill="#c86838"/>
<circle cx="9.16" cy="21.57" r="1.2" fill="#c86838"/>
<circle cx="4.9" cy="10.3" r="1.2" fill="#f0b87a"/>
<circle cx="13.8" cy="12.23" r="1" fill="#e89058"/>
<circle cx="1.85" cy="8.95" r="1.2" fill="#c86838"/>
<circle cx="2.66" cy="17.85" r="1" fill="#f0b87a"/>
<circle cx="9.53" cy="5.59" r="1.2" fill="#e8a060"/>
<circle cx="15.78" cy="19.17" r="1.2" fill="#f0b87a"/>
<circle cx="0.52" cy="4.31" r="1.6" fill="#b86a40"/>
<circle cx="23.52" cy="4.31" r="1.6" fill="#b86a40"/>
<circle cx="13.15" cy="4.76" r="1.2" fill="#e89058"/>
<circle cx="5.96" cy="-1.35" r="1.6" fill="#c86838"/>
<circle cx="5.96" cy="21.65" r="1.6" fill="#c86838"/>
<circle cx="16.22" cy="-0.93" r="1" fill="#f0b87a"/>
<circle cx="16.22" cy="22.07" r="1" fill="#f0b87a"/>
<circle cx="10.92" cy="19.25" r="1.4" fill="#e89058"/>
<circle cx="21.26" cy="11.14" r="1.2" fill="#f4c890"/>
<circle cx="-0.95" cy="0.71" r="1.6" fill="#f0b87a"/>
<circle cx="-0.95" cy="23.71" r="1.6" fill="#f0b87a"/>
<circle cx="22.05" cy="0.71" r="1.6" fill="#f0b87a"/>
<circle cx="22.05" cy="23.71" r="1.6" fill="#f0b87a"/>
<circle cx="5.84" cy="2.28" r="1.2" fill="#d87848"/>
<circle cx="6.32" cy="6" r="1.6" fill="#f4c890"/>
<circle cx="14.84" cy="2.62" r="1.4" fill="#f4c890"/>
<circle cx="6.24" cy="15.25" r="1" fill="#e8a060"/>
<circle cx="20.61" cy="5.56" r="1.4" fill="#b86a40"/>
<circle cx="18.5" cy="21.21" r="1" fill="#d87848"/>
<circle cx="0.4" cy="19.53" r="1.2" fill="#d87848"/>
<circle cx="23.4" cy="19.53" r="1.2" fill="#d87848"/>
<circle cx="0.61" cy="15.54" r="1.4" fill="#f0b87a"/>
<circle cx="23.61" cy="15.54" r="1.4" fill="#f0b87a"/>
<circle cx="18.29" cy="17.95" r="1" fill="#c86838"/>
<circle cx="8.15" cy="8.97" r="1.4" fill="#c86838"/>
<circle cx="3.16" cy="0.62" r="1.6" fill="#f0b87a"/>
<circle cx="3.16" cy="23.62" r="1.6" fill="#f0b87a"/>
<circle cx="6.82" cy="12.4" r="1.2" fill="#e8a060"/>
<circle cx="16.44" cy="16.79" r="1" fill="#c86838"/>
<circle cx="11.69" cy="12.37" r="1" fill="#f4c890"/>
<circle cx="4.2" cy="4.04" r="1" fill="#f4c890"/>
<circle cx="17.64" cy="1.04" r="1" fill="#b86a40"/>
<circle cx="0.83" cy="12.56" r="1.4" fill="#e8a060"/>
<circle cx="23.83" cy="12.56" r="1.4" fill="#e8a060"/>
<circle cx="19.4" cy="7.9" r="1" fill="#e8a060"/>
<circle cx="6.41" cy="18.71" r="1.2" fill="#c86838"/>
<circle cx="21.43" cy="17.07" r="1" fill="#f0b87a"/>
<circle cx="21.79" cy="8.49" r="1" fill="#c86838"/>
<circle cx="15.08" cy="14.33" r="1" fill="#d87848"/>
<circle cx="3.71" cy="6.72" r="1" fill="#b86a40"/>
<circle cx="4.38" cy="16.34" r="1" fill="#b86a40"/>
<circle cx="13.72" cy="7.95" r="1" fill="#d87848"/>
<circle cx="3.35" cy="19.91" r="1" fill="#e8a060"/>
<circle cx="13.61" cy="20.13" r="1" fill="#b86a40"/>
<circle cx="17.4" cy="4.71" r="1" fill="#d87848"/>
<circle cx="13.12" cy="17.58" r="1" fill="#c86838"/>
<circle cx="9.14" cy="12.09" r="1" fill="#f4c890"/>
<circle cx="18.56" cy="10.84" r="1.2" fill="#d87848"/>
<circle cx="14.25" cy="10.17" r="1" fill="#b86a40"/>
</pattern>
<pattern id="in2" width="17" height="17" patternUnits="userSpaceOnUse">
<rect x="0" y="0" width="17" height="17" fill="#d2deb2"/>
<circle cx="12.99" cy="10.96" r="1.1" fill="#7aa460"/>
<circle cx="14.84" cy="3.33" r="1.1" fill="#8cb070"/>
<circle cx="-0.52" cy="7.27" r="1.1" fill="#a4c488"/>
<circle cx="16.48" cy="7.27" r="1.1" fill="#a4c488"/>
<circle cx="4.04" cy="10.71" r="1.3" fill="#8cb070"/>
<circle cx="8.89" cy="14.77" r="1.1" fill="#7aa460"/>
<circle cx="8.09" cy="7.24" r="1.3" fill="#7aa460"/>
<circle cx="-0.54" cy="15.81" r="0.9" fill="#b8c880"/>
<circle cx="16.46" cy="15.81" r="0.9" fill="#b8c880"/>
<circle cx="14.78" cy="13.1" r="0.9" fill="#a4c488"/>
<circle cx="6.46" cy="0.2" r="0.9" fill="#a4c488"/>
<circle cx="6.46" cy="17.2" r="0.9" fill="#a4c488"/>
<circle cx="3.37" cy="-0.28" r="1.1" fill="#b8c880"/>
<circle cx="3.37" cy="16.72" r="1.1" fill="#b8c880"/>
<circle cx="4.96" cy="14.71" r="0.9" fill="#a4c488"/>
<circle cx="3.31" cy="6.53" r="1.3" fill="#8cb070"/>
<circle cx="12.96" cy="5.89" r="1.1" fill="#b8c880"/>
<circle cx="9.98" cy="0.26" r="1.3" fill="#7aa460"/>
<circle cx="9.98" cy="17.26" r="1.3" fill="#7aa460"/>
<circle cx="12.71" cy="2.31" r="1.1" fill="#8cb070"/>
<circle cx="1.72" cy="9.61" r="0.9" fill="#a4c488"/>
<circle cx="11" cy="8.6" r="1.3" fill="#8cb070"/>
<circle cx="5.28" cy="4.25" r="0.9" fill="#a4c488"/>
<circle cx="2.02" cy="13.96" r="0.9" fill="#7aa460"/>
<circle cx="11.9" cy="14.92" r="0.9" fill="#a4c488"/>
<circle cx="5.73" cy="2.37" r="0.9" fill="#7aa460"/>
<circle cx="6.57" cy="11.2" r="1.1" fill="#8cb070"/>
<circle cx="8.92" cy="12.17" r="1.3" fill="#b8c880"/>
<circle cx="-0.37" cy="1.56" r="0.9" fill="#a4c488"/>
<circle cx="16.63" cy="1.56" r="0.9" fill="#a4c488"/>
<circle cx="10.27" cy="4.35" r="1.1" fill="#a4c488"/>
<circle cx="5.08" cy="8.24" r="0.9" fill="#7aa460"/>
<circle cx="14.6" cy="0.76" r="0.9" fill="#a4c488"/>
<circle cx="14.6" cy="17.76" r="0.9" fill="#a4c488"/>
<circle cx="1.24" cy="4.33" r="1.1" fill="#7aa460"/>
<circle cx="15.31" cy="9.42" r="0.9" fill="#b8c880"/>
<circle cx="8.77" cy="9.7" r="0.9" fill="#a4c488"/>
<circle cx="-0.12" cy="12.53" r="1.1" fill="#8cb070"/>
<circle cx="16.88" cy="12.53" r="1.1" fill="#8cb070"/>
<circle cx="7.91" cy="4.12" r="0.9" fill="#7aa460"/>
<circle cx="6.88" cy="13.71" r="0.9" fill="#7aa460"/>
<circle cx="14.03" cy="15.1" r="1.1" fill="#a4c488"/>
<circle cx="3.68" cy="2.49" r="0.9" fill="#7aa460"/>
<circle cx="11.48" cy="12.97" r="0.9" fill="#a4c488"/>
<circle cx="1.68" cy="1.7" r="0.9" fill="#8cb070"/>
<circle cx="13.58" cy="8.41" r="0.9" fill="#7aa460"/>
<circle cx="8.02" cy="1.47" r="0.9" fill="#a4c488"/>
<circle cx="5.85" cy="6.23" r="0.9" fill="#8cb070"/>
<circle cx="3.86" cy="13.05" r="0.9" fill="#b8c880"/>
<circle cx="2.02" cy="11.91" r="0.9" fill="#a4c488"/>
<circle cx="12.55" cy="-0.16" r="0.9" fill="#8cb070"/>
<circle cx="12.55" cy="16.84" r="0.9" fill="#8cb070"/>
<circle cx="15.38" cy="5.39" r="0.9" fill="#7aa460"/>
<circle cx="1.18" cy="-0.33" r="0.9" fill="#7aa460"/>
<circle cx="1.18" cy="16.67" r="0.9" fill="#7aa460"/>
</pattern>
<pattern id="ib3" width="23" height="23" patternUnits="userSpaceOnUse">
<rect x="0" y="0" width="23" height="23" fill="#dde0b0"/>
<circle cx="-0.48" cy="10.49" r="1.2" fill="#7aa0a0"/>
<circle cx="22.52" cy="10.49" r="1.2" fill="#7aa0a0"/>
<circle cx="15.85" cy="20.98" r="1" fill="#96a24c"/>
<circle cx="15.05" cy="10.61" r="1.4" fill="#c4c878"/>
<circle cx="20.06" cy="2.73" r="1" fill="#96a24c"/>
<circle cx="3.04" cy="13.41" r="1" fill="#c4c878"/>
<circle cx="1.01" cy="-0.88" r="1.2" fill="#889440"/>
<circle cx="1.01" cy="22.12" r="1.2" fill="#889440"/>
<circle cx="24.01" cy="-0.88" r="1.2" fill="#889440"/>
<circle cx="24.01" cy="22.12" r="1.2" fill="#889440"/>
<circle cx="13.97" cy="6.75" r="1.6" fill="#7a8438"/>
<circle cx="19.8" cy="13.36" r="1.6" fill="#7aa0a0"/>
<circle cx="5.21" cy="15.12" r="1.2" fill="#7a8438"/>
<circle cx="1.98" cy="4.66" r="1.2" fill="#6a8444"/>
<circle cx="18.99" cy="16.38" r="1.2" fill="#d6d68e"/>
<circle cx="12.16" cy="16.29" r="1.4" fill="#889440"/>
<circle cx="0.95" cy="19.15" r="1.2" fill="#d6d68e"/>
<circle cx="23.95" cy="19.15" r="1.2" fill="#d6d68e"/>
<circle cx="9.66" cy="5.81" r="1" fill="#889440"/>
<circle cx="11.07" cy="8.01" r="1" fill="#7aa0a0"/>
<circle cx="-0.3" cy="12.96" r="1" fill="#6a8444"/>
<circle cx="22.7" cy="12.96" r="1" fill="#6a8444"/>
<circle cx="6.02" cy="20.45" r="1.2" fill="#6a8444"/>
<circle cx="10.23" cy="1.02" r="1.4" fill="#c4c878"/>
<circle cx="10.23" cy="24.02" r="1.4" fill="#c4c878"/>
<circle cx="3.54" cy="1.94" r="1.6" fill="#d6d68e"/>
<circle cx="8.36" cy="18.79" r="1" fill="#c4c878"/>
<circle cx="16.08" cy="14.68" r="1.6" fill="#6a8444"/>
<circle cx="7.95" cy="7.64" r="1" fill="#c4c878"/>
<circle cx="9.19" cy="13.66" r="1.4" fill="#889440"/>
<circle cx="3.13" cy="17.81" r="1" fill="#889440"/>
<circle cx="19.8" cy="6" r="1" fill="#96a24c"/>
<circle cx="14.14" cy="3.16" r="1.2" fill="#6a8444"/>
<circle cx="12.18" cy="19.78" r="1" fill="#d6d68e"/>
<circle cx="17.28" cy="18.52" r="1.4" fill="#6a8444"/>
<circle cx="17.6" cy="1.2" r="1.4" fill="#889440"/>
<circle cx="17.6" cy="24.2" r="1.4" fill="#889440"/>
<circle cx="7.56" cy="2.87" r="1" fill="#7aa0a0"/>
<circle cx="19.02" cy="21.28" r="1.2" fill="#c4c878"/>
<circle cx="8.13" cy="16.57" r="1" fill="#889440"/>
<circle cx="2.45" cy="8.48" r="1" fill="#889440"/>
<circle cx="4.54" cy="6.94" r="1.2" fill="#889440"/>
<circle cx="6.89" cy="5.43" r="1.2" fill="#c4c878"/>
<circle cx="16.35" cy="5.37" r="1" fill="#6a8444"/>
<circle cx="-0.83" cy="15.92" r="1" fill="#889440"/>
<circle cx="22.17" cy="15.92" r="1" fill="#889440"/>
<circle cx="6.89" cy="11.64" r="1.4" fill="#889440"/>
<circle cx="12.31" cy="-0.53" r="1" fill="#d6d68e"/>
<circle cx="12.31" cy="22.47" r="1" fill="#d6d68e"/>
<circle cx="-0.87" cy="7.01" r="1.4" fill="#c4c878"/>
<circle cx="22.13" cy="7.01" r="1.4" fill="#c4c878"/>
<circle cx="18.45" cy="9.36" r="1.4" fill="#96a24c"/>
<circle cx="3.33" cy="20.21" r="1" fill="#d6d68e"/>
<circle cx="-0.82" cy="1.78" r="1.2" fill="#889440"/>
<circle cx="22.18" cy="1.78" r="1.2" fill="#889440"/>
<circle cx="12.84" cy="13.1" r="1.6" fill="#7a8438"/>
<circle cx="12.48" cy="9.73" r="1" fill="#7a8438"/>
<circle cx="-0.41" cy="4.06" r="1" fill="#7a8438"/>
<circle cx="22.59" cy="4.06" r="1" fill="#7a8438"/>
<circle cx="21.13" cy="19.48" r="1" fill="#96a24c"/>
<circle cx="1.46" cy="16.15" r="1" fill="#96a24c"/>
<circle cx="9.53" cy="20.88" r="1.2" fill="#889440"/>
<circle cx="10.89" cy="3.68" r="1" fill="#7a8438"/>
<circle cx="7.4" cy="-0.14" r="1.2" fill="#889440"/>
<circle cx="7.4" cy="22.86" r="1.2" fill="#889440"/>
<circle cx="9.46" cy="11.05" r="1" fill="#d6d68e"/>
<circle cx="14.27" cy="0.47" r="1" fill="#d6d68e"/>
<circle cx="14.27" cy="23.47" r="1" fill="#d6d68e"/>
<circle cx="16.56" cy="7.52" r="1" fill="#7a8438"/>
<circle cx="3.18" cy="11.3" r="1" fill="#889440"/>
<circle cx="4.95" cy="9.98" r="1" fill="#96a24c"/>
<circle cx="5.89" cy="17.68" r="1" fill="#6a8444"/>
<circle cx="14.65" cy="17.16" r="1" fill="#d6d68e"/>
<circle cx="20.19" cy="0.43" r="1" fill="#6a8444"/>
<circle cx="20.19" cy="23.43" r="1" fill="#6a8444"/>
<circle cx="18.12" cy="3.81" r="1" fill="#c4c878"/>
<circle cx="14.37" cy="19.37" r="1" fill="#96a24c"/>
<circle cx="21.52" cy="21.67" r="1" fill="#96a24c"/>
<circle cx="4.41" cy="-0.63" r="1" fill="#d6d68e"/>
<circle cx="4.41" cy="22.37" r="1" fill="#d6d68e"/>
<circle cx="17.53" cy="11.74" r="1" fill="#6a8444"/>
<circle cx="4.55" cy="4.49" r="1" fill="#889440"/>
</pattern>
<pattern id="in3" width="17" height="17" patternUnits="userSpaceOnUse">
<rect x="0" y="0" width="17" height="17" fill="#f6ceb0"/>
<circle cx="1.54" cy="14.32" r="1.3" fill="#f0b890"/>
<circle cx="15.7" cy="0.49" r="1.3" fill="#f0b890"/>
<circle cx="15.7" cy="17.49" r="1.3" fill="#f0b890"/>
<circle cx="-0.4" cy="4.45" r="0.9" fill="#f09a68"/>
<circle cx="16.6" cy="4.45" r="0.9" fill="#f09a68"/>
<circle cx="12.3" cy="13.18" r="1.1" fill="#ea8a5c"/>
<circle cx="2" cy="9.47" r="1.1" fill="#ea8a5c"/>
<circle cx="9.72" cy="9.97" r="1.1" fill="#f0b890"/>
<circle cx="-1" cy="7.72" r="1.1" fill="#ea8a5c"/>
<circle cx="16" cy="7.72" r="1.1" fill="#ea8a5c"/>
<circle cx="4.41" cy="3.04" r="0.9" fill="#ea8a5c"/>
<circle cx="4.79" cy="7.37" r="1.1" fill="#f0b890"/>
<circle cx="10.75" cy="0.89" r="0.9" fill="#f0b890"/>
<circle cx="10.75" cy="17.89" r="0.9" fill="#f0b890"/>
<circle cx="13.29" cy="1.37" r="0.9" fill="#ea8a5c"/>
<circle cx="13.36" cy="8.32" r="1.3" fill="#f0b890"/>
<circle cx="8.58" cy="0.78" r="0.9" fill="#f4ae80"/>
<circle cx="8.58" cy="17.78" r="0.9" fill="#f4ae80"/>
<circle cx="15.22" cy="11.14" r="1.3" fill="#f09a68"/>
<circle cx="1.92" cy="6.41" r="0.9" fill="#f0b890"/>
<circle cx="9.4" cy="14.8" r="1.3" fill="#f09a68"/>
<circle cx="4.59" cy="11.93" r="0.9" fill="#f4ae80"/>
<circle cx="6.96" cy="9.17" r="0.9" fill="#f09a68"/>
<circle cx="7.17" cy="13.45" r="1.1" fill="#f09a68"/>
<circle cx="5.5" cy="-0.39" r="0.9" fill="#f0b890"/>
<circle cx="5.5" cy="16.61" r="0.9" fill="#f0b890"/>
<circle cx="11.19" cy="6.47" r="1.1" fill="#f09a68"/>
<circle cx="1.96" cy="0.83" r="1.1" fill="#f09a68"/>
<circle cx="1.96" cy="17.83" r="1.1" fill="#f09a68"/>
<circle cx="8.11" cy="4.54" r="1.1" fill="#f4ae80"/>
<circle cx="4.36" cy="9.69" r="0.9" fill="#ea8a5c"/>
<circle cx="13.7" cy="3.74" r="0.9" fill="#f09a68"/>
<circle cx="6.23" cy="2.34" r="0.9" fill="#f09a68"/>
<circle cx="3.89" cy="15.53" r="0.9" fill="#f0b890"/>
<circle cx="14.18" cy="5.61" r="0.9" fill="#f4ae80"/>
<circle cx="12.26" cy="15.66" r="0.9" fill="#f4ae80"/>
<circle cx="9.22" cy="7.32" r="0.9" fill="#f09a68"/>
<circle cx="10.86" cy="2.82" r="0.9" fill="#ea8a5c"/>
<circle cx="14.28" cy="14.79" r="0.9" fill="#f09a68"/>
<circle cx="6.49" cy="11.33" r="0.9" fill="#f4ae80"/>
<circle cx="2.26" cy="3.88" r="1.1" fill="#ea8a5c"/>
<circle cx="6.03" cy="4.95" r="0.9" fill="#f0b890"/>
<circle cx="2.06" cy="11.84" r="0.9" fill="#f0b890"/>
<circle cx="10.25" cy="12.11" r="0.9" fill="#ea8a5c"/>
<circle cx="-0.85" cy="14" r="0.9" fill="#ea8a5c"/>
<circle cx="16.15" cy="14" r="0.9" fill="#ea8a5c"/>
<circle cx="7.41" cy="6.55" r="0.9" fill="#ea8a5c"/>
<circle cx="12.57" cy="11.05" r="0.9" fill="#f09a68"/>
<circle cx="0.15" cy="2.59" r="0.9" fill="#ea8a5c"/>
<circle cx="17.15" cy="2.59" r="0.9" fill="#ea8a5c"/>
<circle cx="7.34" cy="-0.9" r="0.9" fill="#f0b890"/>
<circle cx="7.34" cy="16.1" r="0.9" fill="#f0b890"/>
<circle cx="4.96" cy="13.95" r="0.9" fill="#f09a68"/>
<circle cx="3.98" cy="5.33" r="0.9" fill="#f4ae80"/>
<circle cx="4.29" cy="1.1" r="0.9" fill="#f09a68"/>
</pattern>
<pattern id="ib4" width="23" height="23" patternUnits="userSpaceOnUse">
<rect x="0" y="0" width="23" height="23" fill="#ced6aa"/>
<circle cx="-0.92" cy="20.05" r="1.2" fill="#7e9050"/>
<circle cx="22.08" cy="20.05" r="1.2" fill="#7e9050"/>
<circle cx="8.99" cy="0.16" r="1.2" fill="#b4c080"/>
<circle cx="8.99" cy="23.16" r="1.2" fill="#b4c080"/>
<circle cx="18.55" cy="0.38" r="1.2" fill="#96a862"/>
<circle cx="18.55" cy="23.38" r="1.2" fill="#96a862"/>
<circle cx="2.41" cy="3.38" r="1" fill="#7e9050"/>
<circle cx="15.07" cy="7.58" r="1" fill="#96a862"/>
<circle cx="19.83" cy="13.37" r="1.6" fill="#7e9050"/>
<circle cx="10.24" cy="5.61" r="1.2" fill="#96a862"/>
<circle cx="13.75" cy="18.44" r="1.2" fill="#5686a0"/>
<circle cx="5.8" cy="9.54" r="1" fill="#5686a0"/>
<circle cx="21.02" cy="-0.08" r="1.2" fill="#8c9c56"/>
<circle cx="21.02" cy="22.92" r="1.2" fill="#8c9c56"/>
<circle cx="19.79" cy="4.2" r="1.6" fill="#6a9688"/>
<circle cx="0.73" cy="10.63" r="1.2" fill="#8c9c56"/>
<circle cx="23.73" cy="10.63" r="1.2" fill="#8c9c56"/>
<circle cx="14.37" cy="1.94" r="1.2" fill="#7e9050"/>
<circle cx="14.5" cy="12.59" r="1.2" fill="#b4c080"/>
<circle cx="11.94" cy="12.01" r="1" fill="#96a862"/>
<circle cx="2.35" cy="18.38" r="1.2" fill="#96a862"/>
<circle cx="9.6" cy="18.9" r="1.2" fill="#6a9688"/>
<circle cx="8.97" cy="12.45" r="1.2" fill="#6a9688"/>
<circle cx="11.03" cy="16.31" r="1" fill="#b4c080"/>
<circle cx="11.37" cy="9.07" r="1.2" fill="#a4b470"/>
<circle cx="6.34" cy="20.67" r="1.2" fill="#b4c080"/>
<circle cx="11.58" cy="0.92" r="1.2" fill="#b4c080"/>
<circle cx="11.58" cy="23.92" r="1.2" fill="#b4c080"/>
<circle cx="3.78" cy="11.21" r="1" fill="#6a9688"/>
<circle cx="7.07" cy="15.75" r="1.4" fill="#96a862"/>
<circle cx="5.62" cy="12.46" r="1" fill="#7e9050"/>
<circle cx="19.04" cy="17.14" r="1.2" fill="#7e9050"/>
<circle cx="4.2" cy="1.6" r="1.4" fill="#96a862"/>
<circle cx="2.25" cy="21.69" r="1" fill="#7e9050"/>
<circle cx="16.03" cy="20.79" r="1.2" fill="#a4b470"/>
<circle cx="16.7" cy="5.38" r="1" fill="#b4c080"/>
<circle cx="7.39" cy="5.41" r="1.2" fill="#96a862"/>
<circle cx="13.28" cy="5.19" r="1.2" fill="#96a862"/>
<circle cx="16.77" cy="9.7" r="1.6" fill="#8c9c56"/>
<circle cx="-0.95" cy="16.13" r="1" fill="#a4b470"/>
<circle cx="22.05" cy="16.13" r="1" fill="#a4b470"/>
<circle cx="9.1" cy="2.86" r="1.4" fill="#96a862"/>
<circle cx="6.51" cy="3.24" r="1" fill="#6a9688"/>
<circle cx="8.91" cy="9.75" r="1" fill="#6a9688"/>
<circle cx="19.41" cy="21" r="1" fill="#8c9c56"/>
<circle cx="15.64" cy="14.6" r="1" fill="#a4b470"/>
<circle cx="-0.39" cy="12.93" r="1" fill="#7e9050"/>
<circle cx="22.61" cy="12.93" r="1" fill="#7e9050"/>
<circle cx="2.34" cy="5.86" r="1.2" fill="#5686a0"/>
<circle cx="6.78" cy="1.09" r="1" fill="#8c9c56"/>
<circle cx="-1.06" cy="7.16" r="1.4" fill="#8c9c56"/>
<circle cx="21.94" cy="7.16" r="1.4" fill="#8c9c56"/>
<circle cx="19.36" cy="7.6" r="1" fill="#a4b470"/>
<circle cx="11.66" cy="20.67" r="1.4" fill="#6a9688"/>
<circle cx="1.05" cy="1.08" r="1.2" fill="#b4c080"/>
<circle cx="1.05" cy="24.08" r="1.2" fill="#b4c080"/>
<circle cx="24.05" cy="1.08" r="1.2" fill="#b4c080"/>
<circle cx="24.05" cy="24.08" r="1.2" fill="#b4c080"/>
<circle cx="2.01" cy="8.33" r="1" fill="#5686a0"/>
<circle cx="2.67" cy="14.58" r="1.2" fill="#7e9050"/>
<circle cx="20.8" cy="9.79" r="1.2" fill="#5686a0"/>
<circle cx="17.14" cy="2.77" r="1" fill="#8c9c56"/>
<circle cx="13.05" cy="15.73" r="1" fill="#6a9688"/>
<circle cx="5.07" cy="6.9" r="1.2" fill="#5686a0"/>
<circle cx="16.77" cy="17.65" r="1" fill="#5686a0"/>
<circle cx="4.31" cy="16.97" r="1" fill="#7e9050"/>
<circle cx="13.69" cy="-0.83" r="1" fill="#7e9050"/>
<circle cx="13.69" cy="22.17" r="1" fill="#7e9050"/>
<circle cx="-0.39" cy="3.38" r="1" fill="#5686a0"/>
<circle cx="22.61" cy="3.38" r="1" fill="#5686a0"/>
<circle cx="7.91" cy="7.73" r="1" fill="#5686a0"/>
<circle cx="11.57" cy="14.24" r="1" fill="#a4b470"/>
<circle cx="11.91" cy="3.23" r="1" fill="#8c9c56"/>
<circle cx="6.87" cy="18.4" r="1" fill="#7e9050"/>
<circle cx="17.12" cy="12.91" r="1" fill="#7e9050"/>
<circle cx="4.6" cy="4.46" r="1" fill="#7e9050"/>
<circle cx="13.42" cy="10.21" r="1" fill="#7e9050"/>
<circle cx="9.44" cy="14.89" r="1" fill="#6a9688"/>
<circle cx="15.86" cy="0.17" r="1" fill="#6a9688"/>
<circle cx="15.86" cy="23.17" r="1" fill="#6a9688"/>
</pattern>
<pattern id="in4" width="17" height="17" patternUnits="userSpaceOnUse">
<rect x="0" y="0" width="17" height="17" fill="#dcaa9c"/>
<circle cx="6.75" cy="1.45" r="1.3" fill="#c06050"/>
<circle cx="3.56" cy="7" r="1.1" fill="#b04a40"/>
<circle cx="1.81" cy="9.61" r="1.1" fill="#c06050"/>
<circle cx="-0.56" cy="1.23" r="0.9" fill="#b04a40"/>
<circle cx="16.44" cy="1.23" r="0.9" fill="#b04a40"/>
<circle cx="7.83" cy="15.03" r="1.3" fill="#c87060"/>
<circle cx="14.65" cy="14.01" r="0.9" fill="#a04038"/>
<circle cx="15.99" cy="3.87" r="0.9" fill="#b04a40"/>
<circle cx="3.48" cy="-1.09" r="1.1" fill="#a04038"/>
<circle cx="3.48" cy="15.91" r="1.1" fill="#a04038"/>
<circle cx="6.41" cy="5.5" r="1.3" fill="#c06050"/>
<circle cx="14.18" cy="2.28" r="1.3" fill="#c06050"/>
<circle cx="13.85" cy="10.26" r="0.9" fill="#a04038"/>
<circle cx="9.64" cy="7.62" r="1.1" fill="#c06050"/>
<circle cx="13.87" cy="4.89" r="0.9" fill="#c06050"/>
<circle cx="15.15" cy="7.59" r="1.1" fill="#b04a40"/>
<circle cx="12.23" cy="11.51" r="0.9" fill="#c06050"/>
<circle cx="12.78" cy="-0.47" r="1.1" fill="#c87060"/>
<circle cx="12.78" cy="16.53" r="1.1" fill="#c87060"/>
<circle cx="10.44" cy="3.1" r="1.3" fill="#b04a40"/>
<circle cx="8.76" cy="11.57" r="0.9" fill="#c87060"/>
<circle cx="3.01" cy="12.19" r="1.1" fill="#a04038"/>
<circle cx="6.07" cy="9.6" r="1.1" fill="#c06050"/>
<circle cx="5.73" cy="12.87" r="1.1" fill="#a04038"/>
<circle cx="0.69" cy="6.68" r="0.9" fill="#c87060"/>
<circle cx="17.69" cy="6.68" r="0.9" fill="#c87060"/>
<circle cx="1.76" cy="14.42" r="0.9" fill="#c87060"/>
<circle cx="10.69" cy="13.25" r="0.9" fill="#c06050"/>
<circle cx="-0.3" cy="15.1" r="1.1" fill="#a04038"/>
<circle cx="16.7" cy="15.1" r="1.1" fill="#a04038"/>
<circle cx="1.16" cy="3.71" r="1.1" fill="#c06050"/>
<circle cx="3.13" cy="2.08" r="1.3" fill="#b04a40"/>
<circle cx="-0.25" cy="11.14" r="1.1" fill="#a04038"/>
<circle cx="16.75" cy="11.14" r="1.1" fill="#a04038"/>
<circle cx="10.73" cy="15.34" r="0.9" fill="#c87060"/>
<circle cx="11.43" cy="5.57" r="0.9" fill="#c06050"/>
<circle cx="10.67" cy="0.7" r="0.9" fill="#a04038"/>
<circle cx="10.67" cy="17.7" r="0.9" fill="#a04038"/>
<circle cx="10.37" cy="10.37" r="0.9" fill="#a04038"/>
<circle cx="12.47" cy="7.88" r="0.9" fill="#a04038"/>
<circle cx="2.9" cy="4.94" r="0.9" fill="#c06050"/>
<circle cx="1.06" cy="-0.16" r="0.9" fill="#a04038"/>
<circle cx="1.06" cy="16.84" r="0.9" fill="#a04038"/>
<circle cx="8.12" cy="3.65" r="0.9" fill="#b04a40"/>
<circle cx="8.58" cy="9.64" r="0.9" fill="#b04a40"/>
<circle cx="12.71" cy="14.4" r="0.9" fill="#c06050"/>
<circle cx="5.71" cy="15.93" r="0.9" fill="#c87060"/>
<circle cx="14.85" cy="-0.07" r="0.9" fill="#c06050"/>
<circle cx="14.85" cy="16.93" r="0.9" fill="#c06050"/>
<circle cx="9.4" cy="5.18" r="0.9" fill="#a04038"/>
<circle cx="14.68" cy="12.05" r="0.9" fill="#c06050"/>
<circle cx="8.77" cy="0.26" r="0.9" fill="#c87060"/>
<circle cx="8.77" cy="17.26" r="0.9" fill="#c87060"/>
<circle cx="3.97" cy="9.19" r="0.9" fill="#c06050"/>
<circle cx="4.58" cy="3.92" r="0.9" fill="#c06050"/>
<circle cx="7.48" cy="7.6" r="0.9" fill="#c87060"/>
</pattern>
<pattern id="ib5" width="23" height="23" patternUnits="userSpaceOnUse">
<rect x="0" y="0" width="23" height="23" fill="#fbe2ce"/>
<circle cx="20.2" cy="8.03" r="1" fill="#d87060"/>
<circle cx="6.73" cy="19.55" r="1.2" fill="#f8e060"/>
<circle cx="17.28" cy="3.39" r="1.6" fill="#f4b0a0"/>
<circle cx="8.08" cy="3.89" r="1.6" fill="#d87060"/>
<circle cx="14.16" cy="19.09" r="1.6" fill="#f0a878"/>
<circle cx="20.27" cy="21.17" r="1.2" fill="#f0d848"/>
<circle cx="-0.93" cy="18.79" r="1.4" fill="#f8e060"/>
<circle cx="22.07" cy="18.79" r="1.4" fill="#f8e060"/>
<circle cx="1.41" cy="7.53" r="1" fill="#f0d848"/>
<circle cx="8.24" cy="16.69" r="1.2" fill="#d87060"/>
<circle cx="19" cy="11.86" r="1.4" fill="#f4c090"/>
<circle cx="13.05" cy="8.23" r="1.4" fill="#f4b0a0"/>
<circle cx="-0.75" cy="13.39" r="1" fill="#f4c090"/>
<circle cx="22.25" cy="13.39" r="1" fill="#f4c090"/>
<circle cx="12.6" cy="4.68" r="1.2" fill="#d87060"/>
<circle cx="15.11" cy="1.72" r="1" fill="#d87060"/>
<circle cx="8.18" cy="-0.54" r="1.4" fill="#e07860"/>
<circle cx="8.18" cy="22.46" r="1.4" fill="#e07860"/>
<circle cx="15.1" cy="14.97" r="1.4" fill="#e07860"/>
<circle cx="10.04" cy="14.33" r="1" fill="#e88a68"/>
<circle cx="5.65" cy="1" r="1.2" fill="#f0d848"/>
<circle cx="5.65" cy="24" r="1.2" fill="#f0d848"/>
<circle cx="5.34" cy="6.06" r="1" fill="#e88a68"/>
<circle cx="21.09" cy="0.81" r="1" fill="#f8e060"/>
<circle cx="21.09" cy="23.81" r="1" fill="#f8e060"/>
<circle cx="10.93" cy="0.59" r="1.2" fill="#f0a878"/>
<circle cx="10.93" cy="23.59" r="1.2" fill="#f0a878"/>
<circle cx="6.95" cy="10.35" r="1.2" fill="#f0a878"/>
<circle cx="20.81" cy="4.26" r="1" fill="#f0d848"/>
<circle cx="2.34" cy="12.06" r="1" fill="#f0d848"/>
<circle cx="15.5" cy="10.99" r="1.6" fill="#f4b0a0"/>
<circle cx="1.24" cy="0.96" r="1.6" fill="#f0d848"/>
<circle cx="1.24" cy="23.96" r="1.6" fill="#f0d848"/>
<circle cx="24.24" cy="0.96" r="1.6" fill="#f0d848"/>
<circle cx="24.24" cy="23.96" r="1.6" fill="#f0d848"/>
<circle cx="3.84" cy="10.01" r="1.4" fill="#f0d848"/>
<circle cx="2.31" cy="16.49" r="1.6" fill="#f4c090"/>
<circle cx="9.7" cy="18.67" r="1" fill="#f0a878"/>
<circle cx="20.91" cy="15.84" r="1.4" fill="#f4c090"/>
<circle cx="10.16" cy="10.66" r="1.2" fill="#d87060"/>
<circle cx="5.31" cy="14.19" r="1" fill="#f8e060"/>
<circle cx="-0.54" cy="10.62" r="1.2" fill="#d87060"/>
<circle cx="22.46" cy="10.62" r="1.2" fill="#d87060"/>
<circle cx="4.37" cy="20.14" r="1" fill="#e07860"/>
<circle cx="1.34" cy="4.6" r="1" fill="#f0a878"/>
<circle cx="12.5" cy="11.37" r="1" fill="#e88a68"/>
<circle cx="1.81" cy="19.19" r="1" fill="#f0d848"/>
<circle cx="17.23" cy="-0.44" r="1.4" fill="#e07860"/>
<circle cx="17.23" cy="22.56" r="1.4" fill="#e07860"/>
<circle cx="7.83" cy="7.13" r="1" fill="#d87060"/>
<circle cx="15.98" cy="6.56" r="1" fill="#d87060"/>
<circle cx="3.88" cy="3.33" r="1.2" fill="#f8e060"/>
<circle cx="17.94" cy="14.42" r="1.2" fill="#f4c090"/>
<circle cx="17.85" cy="18.6" r="1.4" fill="#f4b0a0"/>
<circle cx="17.8" cy="9.13" r="1.2" fill="#d87060"/>
<circle cx="11.8" cy="16.66" r="1" fill="#f0a878"/>
<circle cx="11.99" cy="21.19" r="1.2" fill="#e88a68"/>
<circle cx="7.81" cy="12.91" r="1.4" fill="#d87060"/>
<circle cx="5.12" cy="17.42" r="1" fill="#f0a878"/>
<circle cx="19.52" cy="6.03" r="1" fill="#f0d848"/>
<circle cx="10.38" cy="6.56" r="1.2" fill="#e07860"/>
<circle cx="14.62" cy="-0.43" r="1" fill="#e88a68"/>
<circle cx="14.62" cy="22.57" r="1" fill="#e88a68"/>
<circle cx="-0.06" cy="21.35" r="1.2" fill="#d87060"/>
<circle cx="22.94" cy="21.35" r="1.2" fill="#d87060"/>
<circle cx="21.97" cy="6.22" r="1" fill="#f4b0a0"/>
<circle cx="12.1" cy="13.75" r="1" fill="#f0d848"/>
<circle cx="3.26" cy="5.58" r="1" fill="#f4c090"/>
<circle cx="13" cy="2.1" r="1" fill="#e07860"/>
<circle cx="5.67" cy="8.26" r="1" fill="#f4b0a0"/>
<circle cx="3.3" cy="-0.86" r="1" fill="#f4c090"/>
<circle cx="3.3" cy="22.14" r="1" fill="#f4c090"/>
</pattern>
<pattern id="in5" width="17" height="17" patternUnits="userSpaceOnUse">
<rect x="0" y="0" width="17" height="17" fill="#dae4b8"/>
<circle cx="7.39" cy="12.32" r="1.3" fill="#b8d080"/>
<circle cx="14.38" cy="7.96" r="1.3" fill="#90b860"/>
<circle cx="3.83" cy="-0.41" r="1.3" fill="#90b860"/>
<circle cx="3.83" cy="16.59" r="1.3" fill="#90b860"/>
<circle cx="3.09" cy="3.35" r="0.9" fill="#b8d080"/>
<circle cx="2.15" cy="10.66" r="0.9" fill="#a4c470"/>
<circle cx="-0.79" cy="0.1" r="1.1" fill="#a4c470"/>
<circle cx="-0.79" cy="17.1" r="1.1" fill="#a4c470"/>
<circle cx="16.21" cy="0.1" r="1.1" fill="#a4c470"/>
<circle cx="16.21" cy="17.1" r="1.1" fill="#a4c470"/>
<circle cx="1.46" cy="1.39" r="1.1" fill="#90b860"/>
<circle cx="14.4" cy="5.18" r="1.3" fill="#a4c470"/>
<circle cx="-0.08" cy="9.14" r="1.1" fill="#b8d080"/>
<circle cx="16.92" cy="9.14" r="1.1" fill="#b8d080"/>
<circle cx="13.95" cy="14.62" r="0.9" fill="#b8d080"/>
<circle cx="13.66" cy="11.42" r="1.1" fill="#a4c470"/>
<circle cx="0.07" cy="14.88" r="0.9" fill="#a4c470"/>
<circle cx="17.07" cy="14.88" r="0.9" fill="#a4c470"/>
<circle cx="3.79" cy="8.92" r="1.1" fill="#b8d080"/>
<circle cx="7.91" cy="4.35" r="1.1" fill="#a4c470"/>
<circle cx="7.85" cy="-1.01" r="1.3" fill="#90b860"/>
<circle cx="7.85" cy="15.99" r="1.3" fill="#90b860"/>
<circle cx="4.64" cy="6.39" r="1.3" fill="#c8d890"/>
<circle cx="11.24" cy="14.29" r="1.1" fill="#b8d080"/>
<circle cx="-0.1" cy="4.02" r="1.1" fill="#90b860"/>
<circle cx="16.9" cy="4.02" r="1.1" fill="#90b860"/>
<circle cx="10.11" cy="1.99" r="1.3" fill="#c8d890"/>
<circle cx="2.92" cy="14.4" r="0.9" fill="#90b860"/>
<circle cx="9.28" cy="7.37" r="1.3" fill="#b8d080"/>
<circle cx="5.13" cy="4.13" r="0.9" fill="#b8d080"/>
<circle cx="4.14" cy="11.14" r="0.9" fill="#90b860"/>
<circle cx="11.44" cy="5.06" r="1.3" fill="#c8d890"/>
<circle cx="13.11" cy="1.01" r="1.1" fill="#b8d080"/>
<circle cx="13.11" cy="18.01" r="1.1" fill="#b8d080"/>
<circle cx="1.04" cy="13.15" r="0.9" fill="#b8d080"/>
<circle cx="6.43" cy="1.05" r="0.9" fill="#90b860"/>
<circle cx="15.07" cy="2.79" r="0.9" fill="#90b860"/>
<circle cx="0.56" cy="7.05" r="0.9" fill="#90b860"/>
<circle cx="17.56" cy="7.05" r="0.9" fill="#90b860"/>
<circle cx="8.57" cy="9.76" r="0.9" fill="#c8d890"/>
<circle cx="11.59" cy="10.27" r="1.1" fill="#b8d080"/>
<circle cx="1.85" cy="5.65" r="0.9" fill="#c8d890"/>
<circle cx="6.16" cy="14.29" r="0.9" fill="#a4c470"/>
<circle cx="15.91" cy="11.26" r="0.9" fill="#b8d080"/>
<circle cx="10.12" cy="-0.52" r="0.9" fill="#a4c470"/>
<circle cx="10.12" cy="16.48" r="0.9" fill="#a4c470"/>
<circle cx="6.18" cy="8.51" r="1.1" fill="#a4c470"/>
<circle cx="11.76" cy="7.87" r="1.1" fill="#b8d080"/>
<circle cx="13.01" cy="3.23" r="0.9" fill="#b8d080"/>
<circle cx="10.15" cy="11.96" r="0.9" fill="#c8d890"/>
<circle cx="7.17" cy="6.43" r="0.9" fill="#b8d080"/>
<circle cx="16.01" cy="13.26" r="0.9" fill="#90b860"/>
<circle cx="4.47" cy="2.04" r="0.9" fill="#c8d890"/>
<circle cx="1.48" cy="-0.82" r="0.9" fill="#c8d890"/>
<circle cx="1.48" cy="16.18" r="0.9" fill="#c8d890"/>
<circle cx="4.53" cy="13.2" r="0.9" fill="#a4c470"/>
<circle cx="9.11" cy="13.93" r="0.9" fill="#90b860"/>
</pattern>
</defs>
<ellipse cx="330.8" cy="473" rx="30.8" ry="32.2" fill="url(#ib0)"/>
<text transform="translate(332.2,493.7) scale(0.77,1.02)" text-anchor="middle" font-size="50" fill="url(#in0)" stroke="url(#ib0)" stroke-width="0.6" opacity="0.8">29</text>
<ellipse cx="423" cy="473.5" rx="31.9" ry="35.8" fill="url(#ib1)"/>
<text transform="translate(423,491.9) scale(0.77,0.97)" text-anchor="middle" font-size="50" fill="url(#in1)" stroke="url(#in1)" stroke-width="0.9" opacity="1">25</text>
<ellipse cx="508.2" cy="471.9" rx="32.6" ry="33.7" fill="url(#ib2)"/>
<text transform="translate(506.5,493.7) scale(1.15,1.2)" text-anchor="middle" font-size="50" fill="url(#in2)" stroke="url(#ib2)" stroke-width="1.6" opacity="0.72">8</text>
<ellipse cx="330.8" cy="551" rx="30.8" ry="32.2" fill="url(#ib3)"/>
<text transform="translate(331.4,568.5) scale(0.8,1.02)" text-anchor="middle" font-size="50" fill="url(#in3)" stroke="url(#in3)" stroke-width="0.6" opacity="0.78">45</text>
<ellipse cx="423.8" cy="550.4" rx="31.8" ry="33" fill="url(#ib4)"/>
<text transform="translate(424.5,573.3) scale(0.89,1.25)" text-anchor="middle" font-size="50" fill="url(#in4)" stroke="url(#ib4)" stroke-width="1.5" opacity="0.8">56</text>
<ellipse cx="508" cy="552.4" rx="31.3" ry="31.6" fill="url(#ib5)"/>
<text transform="translate(506.5,573.3) scale(1.05,1.17)" text-anchor="middle" font-size="50" fill="url(#in5)" stroke="url(#ib5)" stroke-width="1.4" opacity="0.72">6</text>
<line x1="644.9" y1="506.4" x2="667.2" y2="506.4" stroke="#4a4a4a" stroke-width="0.6"/>
<line x1="655.6" y1="506.4" x2="655.6" y2="516.1" stroke="#222" stroke-width="1"/>
<line x1="604.5" y1="516.1" x2="655.6" y2="516.1" stroke="#8a8a8a" stroke-width="0.55"/>
<line x1="655.1" y1="516.1" x2="683.8" y2="516.1" stroke="#222" stroke-width="0.95"/>
<line x1="683.8" y1="516.1" x2="699.3" y2="516.1" stroke="#6a6a6a" stroke-width="0.55"/>
<line x1="604.5" y1="516.1" x2="604.5" y2="525.7" stroke="#222" stroke-width="0.8"/>
<line x1="667.2" y1="516.1" x2="667.2" y2="525.7" stroke="#222" stroke-width="0.8"/>
<line x1="683.3" y1="516.1" x2="683.3" y2="525.7" stroke="#222" stroke-width="0.8"/>
<line x1="699.3" y1="516.1" x2="699.3" y2="523.2" stroke="#666" stroke-width="0.6"/>
<line x1="604.5" y1="525.7" x2="626.1" y2="525.7" stroke="#222" stroke-width="0.8"/>
<line x1="647.2" y1="525.7" x2="667.2" y2="525.7" stroke="#222" stroke-width="0.8"/>
<line x1="699.3" y1="525.7" x2="719" y2="525.7" stroke="#222" stroke-width="0.8"/>
<line x1="615.7" y1="525.7" x2="615.7" y2="544.5" stroke="#666" stroke-width="0.7"/>
<line x1="710.7" y1="525.7" x2="710.7" y2="546" stroke="#222" stroke-width="0.8"/>
<line x1="599.1" y1="535.7" x2="599.1" y2="542.5" stroke="#b5b5b5" stroke-width="0.6"/>
<line x1="631.2" y1="535.7" x2="631.2" y2="542.5" stroke="#222" stroke-width="0.8"/>
<line x1="647.2" y1="535.7" x2="647.2" y2="542.5" stroke="#222" stroke-width="0.8"/>
<line x1="666.2" y1="535.7" x2="666.2" y2="542.5" stroke="#999" stroke-width="0.6"/>
<line x1="694.3" y1="535.7" x2="694.3" y2="546" stroke="#666" stroke-width="0.7"/>
<line x1="726.4" y1="535.7" x2="726.4" y2="546" stroke="#666" stroke-width="0.7"/>
<line x1="577" y1="544.5" x2="599.1" y2="544.5" stroke="#222" stroke-width="0.8"/>
<line x1="676.9" y1="544.5" x2="694.3" y2="544.5" stroke="#222" stroke-width="0.8"/>
<line x1="588.5" y1="544.5" x2="588.5" y2="563.6" stroke="#222" stroke-width="0.8"/>
<line x1="575" y1="554.2" x2="602" y2="554.2" stroke="#b5b5b5" stroke-width="0.7"/>
<line x1="685.9" y1="544.5" x2="685.9" y2="561.2" stroke="#666" stroke-width="0.6"/>
<rect x="642.5" y="504" width="4.8" height="4.8" fill="#0a0a0a"/>
<ellipse cx="667.2" cy="506.4" rx="2.45" ry="2.35" fill="#fff" stroke="#555" stroke-width="0.65"/>
<rect x="602.1" y="523.3" width="4.8" height="4.8" fill="#0a0a0a"/>
<ellipse cx="626.1" cy="525.7" rx="2.45" ry="2.35" fill="#fff" stroke="#555" stroke-width="0.65"/>
<ellipse cx="647.2" cy="525.7" rx="2.45" ry="2.35" fill="#fff" stroke="#555" stroke-width="0.65"/>
<rect x="664.8" y="523.3" width="4.8" height="4.8" fill="#0a0a0a"/>
<rect x="680.9" y="523.3" width="4.8" height="4.8" fill="#0a0a0a"/>
<ellipse cx="699.3" cy="525.7" rx="2.45" ry="2.35" fill="#fff" stroke="#555" stroke-width="0.65"/>
<line x1="718.3" y1="528.1" x2="723.5" y2="528.1" stroke="#333" stroke-width="0.7"/>
<line x1="718.3" y1="522.9" x2="718.3" y2="528.1" stroke="#333" stroke-width="0.7"/>
<line x1="723.5" y1="522.9" x2="723.5" y2="528.1" stroke="#333" stroke-width="0.7"/>
<ellipse cx="577" cy="544.5" rx="2.45" ry="2.35" fill="#fff" stroke="#555" stroke-width="0.65" stroke-dasharray="2.6 1.8"/>
<rect x="596.7" y="542.1" width="4.8" height="4.8" fill="#0a0a0a"/>
<rect x="612.7" y="542.1" width="4.8" height="4.8" fill="#0a0a0a"/>
<rect x="628.8" y="542.1" width="4.8" height="4.8" fill="#0a0a0a"/>
<rect x="644.8" y="542.1" width="4.8" height="4.8" fill="#0a0a0a"/>
<ellipse cx="666.2" cy="544.5" rx="2.45" ry="2.35" fill="#fff" stroke="#777" stroke-width="0.65" stroke-dasharray="2.6 1.8"/>
<path d="M679.2 542.2A2.7 2.7 0 0 0 679.2 546.8" fill="none" stroke="#444" stroke-width="0.7"/>
<line x1="691" y1="547.4" x2="696.2" y2="547.4" stroke="#444" stroke-width="0.7"/>
<line x1="696.2" y1="542.2" x2="696.2" y2="547.4" stroke="#444" stroke-width="0.7"/>
<line x1="707.8" y1="547.4" x2="713" y2="547.4" stroke="#333" stroke-width="0.7"/>
<line x1="726.1" y1="547.1" x2="730.7" y2="547.1" stroke="#444" stroke-width="0.7"/>
<line x1="726.1" y1="542.5" x2="726.1" y2="547.1" stroke="#444" stroke-width="0.7"/>
<rect x="571.6" y="561.2" width="4.8" height="4.8" fill="#0a0a0a"/>
<ellipse cx="588" cy="563.6" rx="2.45" ry="2.35" fill="#fff" stroke="#555" stroke-width="0.65" stroke-dasharray="2.6 1.8"/>
<rect x="599.3" y="561.2" width="4.8" height="4.8" fill="#0a0a0a"/>
<rect x="683.4" y="561.2" width="5" height="5" fill="#fff" stroke="#444" stroke-width="0.6"/>
<rect x="735.1" y="557.9" width="4.9" height="3.5" fill="#d8405a"/>
<text x="741.7" y="560.6" font-size="2.8" fill="#1a1a1a" font-weight="bold" textLength="22.4" lengthAdjust="spacingAndGlyphs">X-homologous genes</text>
<rect x="735.1" y="565.2" width="4.9" height="3.5" fill="#8a5ab8"/>
<text x="741.7" y="567.9" font-size="2.8" fill="#1a1a1a" font-weight="bold" textLength="22.4" lengthAdjust="spacingAndGlyphs">Testis-specific genes</text>
<clipPath id="ychr"><rect x="799.8" y="492.6" width="6.7" height="91" rx="3.2" ry="3.4"/></clipPath><g clip-path="url(#ychr)">
<rect x="799.8" y="492.6" width="6.7" height="91" fill="#a6a6a6"/>
<rect x="799.8" y="492.6" width="6.7" height="4.6" fill="#c9cd72"/>
<rect x="799.8" y="579.2" width="6.7" height="4.6" fill="#c9cd72"/>
<rect x="799.8" y="497.2" width="6.7" height="32.2" fill="#f1e9ec"/>
<rect x="799.8" y="497.3" width="6.7" height="1.9" fill="#6a3ea8"/>
<rect x="799.8" y="500.2" width="6.7" height="1.7" fill="#ee8478"/>
<rect x="799.8" y="502.6" width="6.7" height="1.7" fill="#ee8478"/>
<rect x="799.8" y="506.1" width="6.7" height="2.3" fill="#6a3ea8"/>
<rect x="799.8" y="509.8" width="6.7" height="1.5" fill="#6a3ea8"/>
<rect x="799.8" y="513.6" width="6.7" height="7" fill="#f0988c"/>
<rect x="799.8" y="521.5" width="6.7" height="3.5" fill="#b49ad0"/>
<rect x="799.8" y="525.5" width="6.7" height="1.5" fill="#ee8478"/>
<rect x="799.8" y="527.6" width="6.7" height="2" fill="#6a3ea8"/>
<rect x="799.8" y="515" width="6.7" height="0.6" fill="#f6d2cc"/>
<rect x="799.8" y="516.8" width="6.7" height="0.6" fill="#f6d2cc"/>
<rect x="799.8" y="518.6" width="6.7" height="0.6" fill="#f6d2cc"/>
</g>
<path d="M799.5 496.1H795.1V579.2H799.5" fill="none" stroke="#3a3a3a" stroke-width="0.5"/>
<line x1="793.5" y1="537.6" x2="795.1" y2="537.6" stroke="#3a3a3a" stroke-width="0.5"/>
<text x="792.6" y="538.5" font-size="2.8" fill="#1a1a1a" text-anchor="end" font-weight="bold" textLength="4.6" lengthAdjust="spacingAndGlyphs">MSY</text>
<path d="M806.5 494.9H812.6" fill="none" stroke="#555" stroke-width="0.4"/>
<text x="813.2" y="495.8" font-size="2.8" fill="#1a1a1a" font-weight="bold" textLength="13.2" lengthAdjust="spacingAndGlyphs">PAR1 (p-arm)</text>
<path d="M806.5 500.5L809.5 500.5L812.6 503.5" fill="none" stroke="#555" stroke-width="0.4"/>
<text x="813.2" y="504.4" font-size="2.8" fill="#1a1a1a" font-weight="bold" textLength="20.1" lengthAdjust="spacingAndGlyphs">SRY (encodes TDF)</text>
<path d="M806.5 511.9H812.6" fill="none" stroke="#555" stroke-width="0.4"/>
<text x="813.2" y="512.8" font-size="2.8" fill="#1a1a1a" font-weight="bold" textLength="12.2" lengthAdjust="spacingAndGlyphs">centromere</text>
<path d="M806.5 581H812.6" fill="none" stroke="#555" stroke-width="0.4"/>
<text x="813.2" y="581.9" font-size="2.8" fill="#1a1a1a" font-weight="bold" textLength="13.2" lengthAdjust="spacingAndGlyphs">PAR2 (q-arm)</text>
<text x="803.2" y="587.1" font-size="2.8" fill="#1a1a1a" text-anchor="middle" font-weight="bold" textLength="27.7" lengthAdjust="spacingAndGlyphs">Human Y Chromosome</text>
<text x="140" y="20.7" font-size="10.05" fill="#0808ff" text-anchor="middle" font-weight="bold" textLength="134.4" lengthAdjust="spacingAndGlyphs">ÁRBOLES GENEALÓGICOS</text>
<text x="423" y="20.7" font-size="10.05" fill="#0808ff" text-anchor="middle" font-weight="bold" textLength="134.4" lengthAdjust="spacingAndGlyphs">ÁRBOLES GENEALÓGICOS</text>
<text x="706" y="20.7" font-size="10.05" fill="#0808ff" text-anchor="middle" font-weight="bold" textLength="134.4" lengthAdjust="spacingAndGlyphs">ÁRBOLES GENEALÓGICOS</text>
<text x="140" y="220.7" font-size="10.05" fill="#0808ff" text-anchor="middle" font-weight="bold" textLength="134.4" lengthAdjust="spacingAndGlyphs">ÁRBOLES GENEALÓGICOS</text>
<text x="423" y="220.7" font-size="10.05" fill="#0808ff" text-anchor="middle" font-weight="bold" textLength="134.4" lengthAdjust="spacingAndGlyphs">ÁRBOLES GENEALÓGICOS</text>
<text x="706" y="220.7" font-size="10.05" fill="#0808ff" text-anchor="middle" font-weight="bold" textLength="134.4" lengthAdjust="spacingAndGlyphs">ÁRBOLES GENEALÓGICOS</text>
<text x="140" y="420.7" font-size="10.05" fill="#0808ff" text-anchor="middle" font-weight="bold" textLength="134.4" lengthAdjust="spacingAndGlyphs">ÁRBOLES GENEALÓGICOS</text>
<text x="423" y="420.7" font-size="10.05" fill="#0808ff" text-anchor="middle" font-weight="bold" textLength="134.4" lengthAdjust="spacingAndGlyphs">ÁRBOLES GENEALÓGICOS</text>
<text x="706" y="420.7" font-size="10.05" fill="#0808ff" text-anchor="middle" font-weight="bold" textLength="134.4" lengthAdjust="spacingAndGlyphs">ÁRBOLES GENEALÓGICOS</text>
<text x="268.4" y="193.6" font-size="4.2" fill="#111" text-anchor="middle" font-weight="bold">1</text>
<text x="551.4" y="193.6" font-size="4.2" fill="#111" text-anchor="middle" font-weight="bold">2</text>
<text x="833.4" y="193.6" font-size="4.2" fill="#111" text-anchor="middle" font-weight="bold">3</text>
<text x="268.4" y="393.6" font-size="4.2" fill="#111" text-anchor="middle" font-weight="bold">4</text>
<text x="551.4" y="393.6" font-size="4.2" fill="#111" text-anchor="middle" font-weight="bold">5</text>
<text x="833.4" y="393.6" font-size="4.2" fill="#111" text-anchor="middle" font-weight="bold">6</text>
<text x="268.4" y="593.6" font-size="4.2" fill="#111" text-anchor="middle" font-weight="bold">7</text>
<text x="551.4" y="593.6" font-size="4.2" fill="#111" text-anchor="middle" font-weight="bold">8</text>
<text x="833.4" y="593.6" font-size="4.2" fill="#111" text-anchor="middle" font-weight="bold">9</text>
<g stroke="#111" stroke-width="0.16">
<text x="34.7" y="249.3" font-size="10.13" fill="#111" textLength="211.7" lengthAdjust="spacingAndGlyphs"><tspan font-weight="bold" fill="#f5101c" stroke="none">herencia autosómica dominante</tspan> (polidactilia)</text>
<text transform="translate(28.65,260.6) scale(1,1.1)" font-size="9.8" fill="#111" font-family="'DejaVu Sans',sans-serif">➤</text>
<text x="39.2" y="260.9" font-size="10.13" fill="#111">individuo afectado, progenitor afectado</text>
<text transform="translate(28.65,272.7) scale(1,1.1)" font-size="9.8" fill="#111" font-family="'DejaVu Sans',sans-serif">➤</text>
<text x="39.2" y="273" font-size="10.13" fill="#111">no diferencia por sexo, no salto generación</text>
<text transform="translate(28.65,284.8) scale(1,1.1)" font-size="9.8" fill="#111" font-family="'DejaVu Sans',sans-serif">➤</text>
<text x="39.2" y="285.1" font-size="10.13" fill="#111">descendencia afectado: 1/2 afectada, 1/2 no</text>
<text x="324.8" y="250.8" font-size="10.13" fill="#111" textLength="196.3" lengthAdjust="spacingAndGlyphs"><tspan font-weight="bold" fill="#f5101c" stroke="none">herencia autosómica recesiva</tspan> (albinismo)</text>
<text transform="translate(304.75,262.5) scale(1,1.1)" font-size="9.8" fill="#111" font-family="'DejaVu Sans',sans-serif">➤</text>
<text x="316.6" y="262.8" font-size="10.13" fill="#111">individuo afectado, progenitores no afectados</text>
<text transform="translate(304.75,274.55) scale(1,1.1)" font-size="9.8" fill="#111" font-family="'DejaVu Sans',sans-serif">➤</text>
<text x="316.6" y="274.85" font-size="10.13" fill="#111">no diferencia por sexo, salto generación</text>
<text transform="translate(304.75,286.6) scale(1,1.1)" font-size="9.8" fill="#111" font-family="'DejaVu Sans',sans-serif">➤</text>
<text x="316.6" y="286.9" font-size="10.13" fill="#111">descendencia afectado: usualmente no afectada</text>
<text x="593.4" y="251.0" font-size="10.13" fill="#111" textLength="225.4" lengthAdjust="spacingAndGlyphs"><tspan font-weight="bold" fill="#f5101c" stroke="none">herencia ligada al X dominante</tspan> (hipofosfatemia)</text>
<text transform="translate(577.55,266.3) scale(1,1.1)" font-size="9.8" fill="#111" font-family="'DejaVu Sans',sans-serif">➤</text>
<text x="591.9" y="266.8" font-size="10.13" fill="#111" textLength="237" lengthAdjust="spacingAndGlyphs">todas las descendientes de un afectado lo presentan</text>
<text transform="translate(577.55,279.9) scale(1,1.1)" font-size="9.8" fill="#111" font-family="'DejaVu Sans',sans-serif">➤</text>
<text x="590" y="280.2" font-size="10.13" fill="#111" textLength="214.3" lengthAdjust="spacingAndGlyphs">1/2 descendientes de una afectada lo presentan</text>
<text x="16.4" y="456.0" font-size="10.13" fill="#111" textLength="251.3" lengthAdjust="spacingAndGlyphs"><tspan font-weight="bold" fill="#f5101c" stroke="none">herencia ligada al X recesiva</tspan> (hemofilia A, daltonismo)</text>
<text transform="translate(9.8,467.8) scale(1,1.1)" font-size="9.8" fill="#111" font-family="'DejaVu Sans',sans-serif">➤</text>
<text x="21.2" y="468.1" font-size="10.13" fill="#111">proporción machos afectados &gt; hembras afectadas</text>
<text transform="translate(9.8,479.7) scale(1,1.1)" font-size="9.8" fill="#111" font-family="'DejaVu Sans',sans-serif">➤</text>
<text x="21.2" y="480" font-size="10.13" fill="#111">machos descendientes de afectado no lo presentan</text>
<text transform="translate(9.8,491.6) scale(1,1.1)" font-size="9.8" fill="#111" font-family="'DejaVu Sans',sans-serif">➤</text>
<text x="21.2" y="491.9" font-size="10.13" fill="#111">comportamiento: recesivo hembras, dominante machos</text>
<text x="706.8" y="451.9" font-size="10.13" fill="#f5101c" text-anchor="middle" font-weight="bold" stroke="none">herencia ligada al Y</text>
<text transform="translate(583.95,463.5) scale(1,1.1)" font-size="9.8" fill="#111" font-family="'DejaVu Sans',sans-serif">➤</text>
<text x="594.9" y="463.8" font-size="10.13" fill="#111">hemicigosis</text>
<text transform="translate(583.95,475.45) scale(1,1.1)" font-size="9.8" fill="#111" font-family="'DejaVu Sans',sans-serif">➤</text>
<text x="594.9" y="475.75" font-size="10.13" fill="#111">transmisión exclusivamente de macho a macho</text>
<text transform="translate(583.95,487.4) scale(1,1.1)" font-size="9.8" fill="#111" font-family="'DejaVu Sans',sans-serif">➤</text>
<text x="594.9" y="487.7" font-size="10.13" fill="#111">gen <tspan font-style="italic">SRY</tspan> (<tspan font-style="italic">Sex determining Region Y chromosome</tspan>)</text>
</g>
</g>
</svg>
</body></html>
